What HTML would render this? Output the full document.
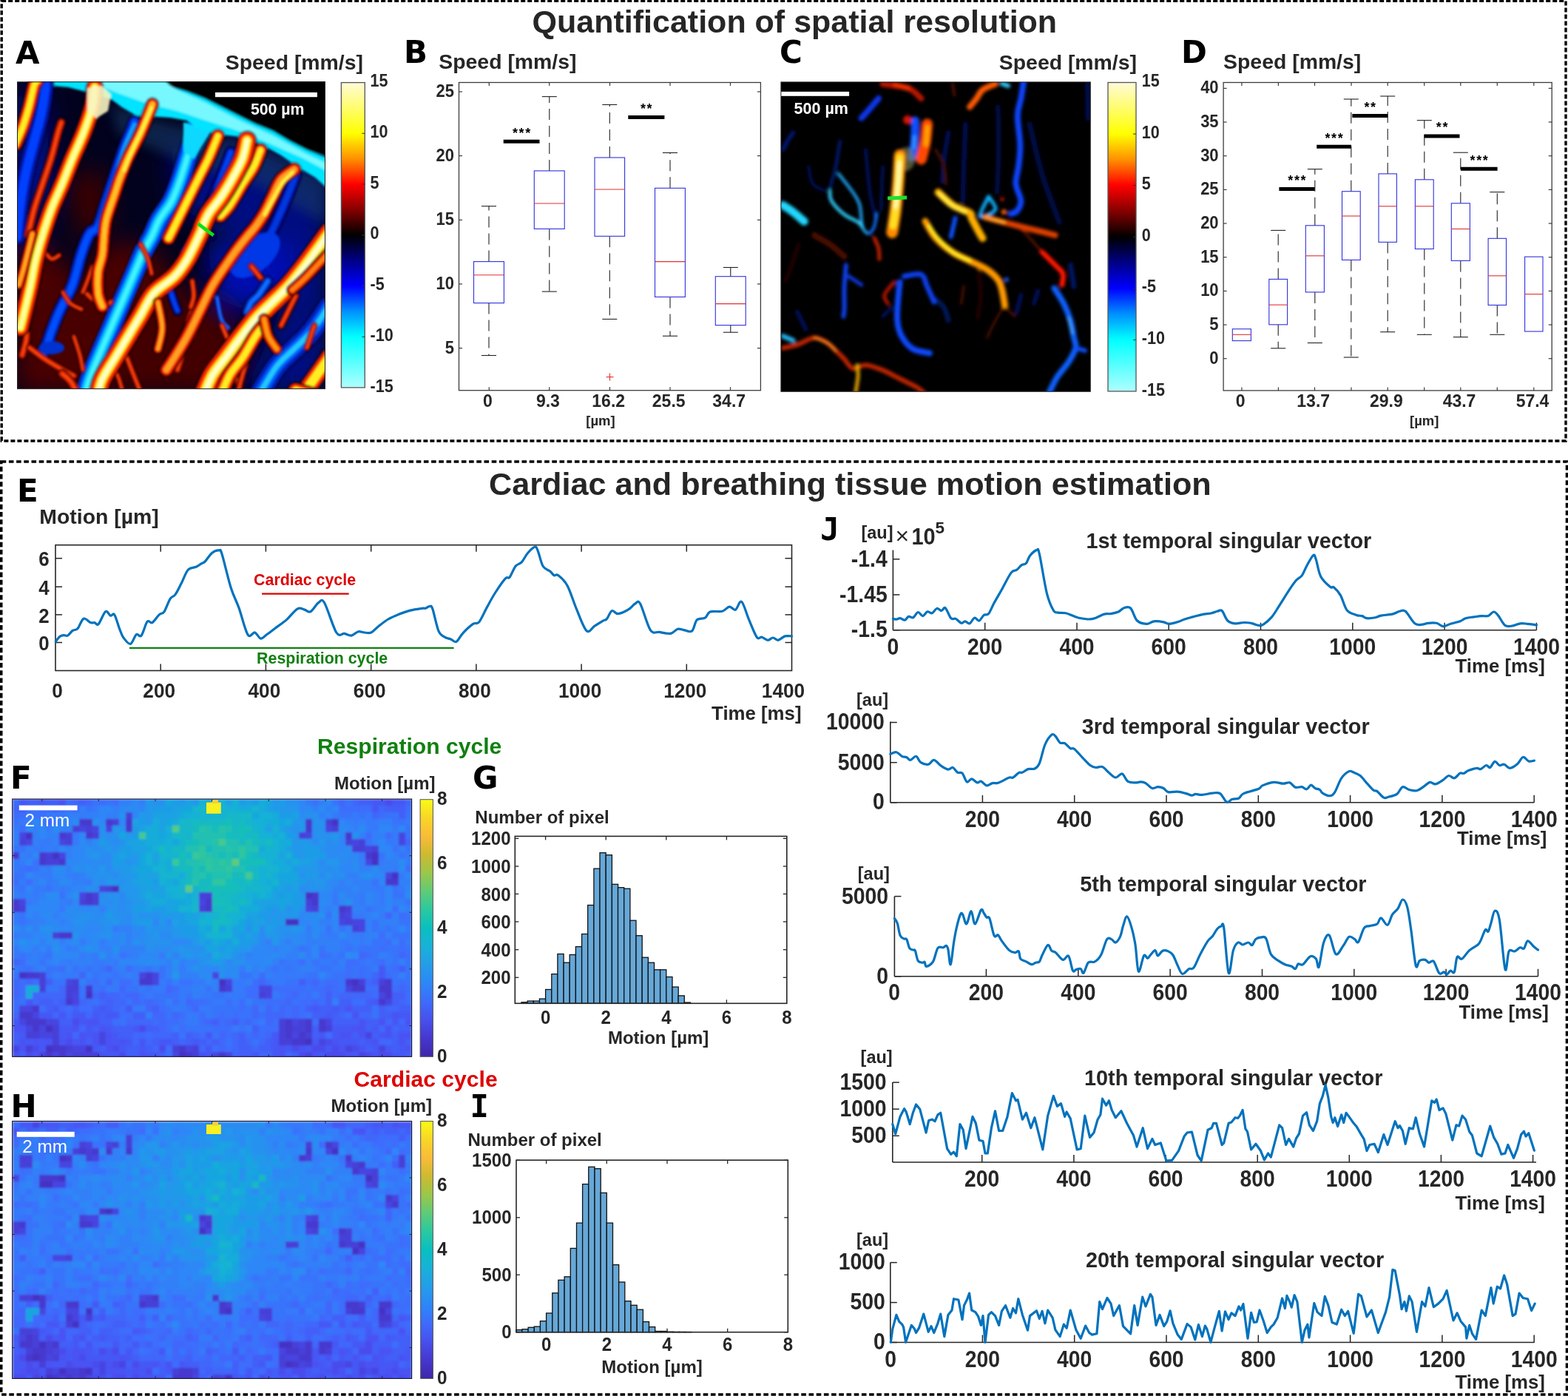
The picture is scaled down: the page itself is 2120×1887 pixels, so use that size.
<!DOCTYPE html>
<html><head><meta charset="utf-8"><title>Figure</title>
<style>
html,body{margin:0;padding:0;background:#fff;}
body{width:2120px;height:1887px;overflow:hidden;}
svg{display:block;font-family:'Liberation Sans', Arial, Helvetica, sans-serif;}
</style></head><body>
<svg xmlns="http://www.w3.org/2000/svg" width="2120" height="1887" viewBox="0 0 2120 1887">
<rect width="2120" height="1887" fill="#fff"/>
<g fill="none" stroke="#000">
<rect x="2.2" y="1.4" width="2114.8" height="594.6" stroke-width="3.4" stroke-dasharray="6 3"/>
<rect x="1.7" y="624" width="2116.8" height="1261" stroke-width="3.6" stroke-dasharray="6.6 3.6"/>
</g>
<text x="719.6" y="44.0" font-size="43" text-anchor="start" fill="#262626" font-weight="bold">Quantification of spatial resolution</text>
<text x="661.0" y="668.5" font-size="43.2" text-anchor="start" fill="#262626" font-weight="bold">Cardiac and breathing tissue motion estimation</text>
<text x="21.0" y="85.5" font-size="42" text-anchor="start" fill="#000" font-weight="bold" font-family="'DejaVu Sans', Verdana, sans-serif">A</text>
<text x="546.0" y="85.0" font-size="42" text-anchor="start" fill="#000" font-weight="bold" font-family="'DejaVu Sans', Verdana, sans-serif">B</text>
<text x="1054.0" y="85.0" font-size="42" text-anchor="start" fill="#000" font-weight="bold" font-family="'DejaVu Sans', Verdana, sans-serif">C</text>
<text x="1597.0" y="85.0" font-size="42" text-anchor="start" fill="#000" font-weight="bold" font-family="'DejaVu Sans', Verdana, sans-serif">D</text>
<text x="23.0" y="677.5" font-size="42" text-anchor="start" fill="#000" font-weight="bold" font-family="'DejaVu Sans', Verdana, sans-serif">E</text>
<text x="14.0" y="1066.4" font-size="42" text-anchor="start" fill="#000" font-weight="bold" font-family="'DejaVu Sans', Verdana, sans-serif">F</text>
<text x="639.0" y="1065.7" font-size="42" text-anchor="start" fill="#000" font-weight="bold" font-family="'DejaVu Sans', Verdana, sans-serif">G</text>
<text x="14.5" y="1509.5" font-size="42" text-anchor="start" fill="#000" font-weight="bold" font-family="'DejaVu Sans', Verdana, sans-serif">H</text>
<text x="648.2" y="1510.0" font-size="42" text-anchor="middle" fill="#000" font-weight="bold" font-family="'DejaVu Sans Mono', monospace">I</text>
<text x="1122.0" y="729.6" font-size="43" text-anchor="middle" fill="#000" font-weight="bold" font-family="'DejaVu Sans Mono', monospace">J</text>
<text x="304.8" y="94.0" font-size="28.4" text-anchor="start" fill="#262626" font-weight="bold">Speed [mm/s]</text>
<defs><linearGradient id="hcA" x1="0" y1="0" x2="0" y2="1"><stop offset="0" stop-color="#fffbd8"/><stop offset="0.1667" stop-color="#ffff00"/><stop offset="0.25" stop-color="#ff9000"/><stop offset="0.3333" stop-color="#ff0000"/><stop offset="0.42" stop-color="#800000"/><stop offset="0.5" stop-color="#000000"/><stop offset="0.58" stop-color="#000080"/><stop offset="0.6667" stop-color="#0000ff"/><stop offset="0.75" stop-color="#0090ff"/><stop offset="0.8333" stop-color="#00ffff"/><stop offset="1" stop-color="#b0ffff"/></linearGradient></defs>
<rect x="461.4" y="111.6" width="31.9" height="412.3" fill="url(#hcA)" stroke="#555" stroke-width="1.3"/>
<text transform="translate(500.5,117.2) scale(1,1.100)" font-size="21.6" text-anchor="start" fill="#262626" font-weight="bold">15</text>
<line x1="489.3" y1="180.3" x2="493.3" y2="180.3" stroke="#333" stroke-width="1"/>
<text transform="translate(500.5,185.9) scale(1,1.100)" font-size="21.6" text-anchor="start" fill="#262626" font-weight="bold">10</text>
<line x1="489.3" y1="249.0" x2="493.3" y2="249.0" stroke="#333" stroke-width="1"/>
<text transform="translate(500.5,254.6) scale(1,1.100)" font-size="21.6" text-anchor="start" fill="#262626" font-weight="bold">5</text>
<line x1="489.3" y1="317.8" x2="493.3" y2="317.8" stroke="#333" stroke-width="1"/>
<text transform="translate(500.5,323.3) scale(1,1.100)" font-size="21.6" text-anchor="start" fill="#262626" font-weight="bold">0</text>
<line x1="489.3" y1="386.5" x2="493.3" y2="386.5" stroke="#333" stroke-width="1"/>
<text transform="translate(500.5,392.0) scale(1,1.100)" font-size="21.6" text-anchor="start" fill="#262626" font-weight="bold">-5</text>
<line x1="489.3" y1="455.2" x2="493.3" y2="455.2" stroke="#333" stroke-width="1"/>
<text transform="translate(500.5,460.8) scale(1,1.100)" font-size="21.6" text-anchor="start" fill="#262626" font-weight="bold">-10</text>
<text transform="translate(500.5,529.5) scale(1,1.100)" font-size="21.6" text-anchor="start" fill="#262626" font-weight="bold">-15</text>
<text x="1537.0" y="94.0" font-size="28.4" text-anchor="end" fill="#262626" font-weight="bold">Speed [mm/s]</text>
<defs><linearGradient id="hcC" x1="0" y1="0" x2="0" y2="1"><stop offset="0" stop-color="#fffbd8"/><stop offset="0.1667" stop-color="#ffff00"/><stop offset="0.25" stop-color="#ff9000"/><stop offset="0.3333" stop-color="#ff0000"/><stop offset="0.42" stop-color="#800000"/><stop offset="0.5" stop-color="#000000"/><stop offset="0.58" stop-color="#000080"/><stop offset="0.6667" stop-color="#0000ff"/><stop offset="0.75" stop-color="#0090ff"/><stop offset="0.8333" stop-color="#00ffff"/><stop offset="1" stop-color="#b0ffff"/></linearGradient></defs>
<rect x="1498.0" y="111.5" width="38.0" height="417.4" fill="url(#hcC)" stroke="#555" stroke-width="1.3"/>
<text transform="translate(1543.7,117.1) scale(1,1.100)" font-size="21.6" text-anchor="start" fill="#262626" font-weight="bold">15</text>
<line x1="1532.0" y1="181.1" x2="1536.0" y2="181.1" stroke="#333" stroke-width="1"/>
<text transform="translate(1543.7,186.6) scale(1,1.100)" font-size="21.6" text-anchor="start" fill="#262626" font-weight="bold">10</text>
<line x1="1532.0" y1="250.6" x2="1536.0" y2="250.6" stroke="#333" stroke-width="1"/>
<text transform="translate(1543.7,256.2) scale(1,1.100)" font-size="21.6" text-anchor="start" fill="#262626" font-weight="bold">5</text>
<line x1="1532.0" y1="320.2" x2="1536.0" y2="320.2" stroke="#333" stroke-width="1"/>
<text transform="translate(1543.7,325.8) scale(1,1.100)" font-size="21.6" text-anchor="start" fill="#262626" font-weight="bold">0</text>
<line x1="1532.0" y1="389.8" x2="1536.0" y2="389.8" stroke="#333" stroke-width="1"/>
<text transform="translate(1543.7,395.3) scale(1,1.100)" font-size="21.6" text-anchor="start" fill="#262626" font-weight="bold">-5</text>
<line x1="1532.0" y1="459.3" x2="1536.0" y2="459.3" stroke="#333" stroke-width="1"/>
<text transform="translate(1543.7,464.9) scale(1,1.100)" font-size="21.6" text-anchor="start" fill="#262626" font-weight="bold">-10</text>
<text transform="translate(1543.7,534.5) scale(1,1.100)" font-size="21.6" text-anchor="start" fill="#262626" font-weight="bold">-15</text>
<text x="593.3" y="93.3" font-size="28.4" text-anchor="start" fill="#262626" font-weight="bold">Speed [mm/s]</text>
<rect x="620.5" y="111.5" width="407.9" height="416.2" fill="none" stroke="#3c3c3c" stroke-width="1.3"/>
<line x1="620.5" y1="470.6" x2="625.0" y2="470.6" stroke="#3c3c3c" stroke-width="1.2"/>
<line x1="1023.9" y1="470.6" x2="1028.4" y2="470.6" stroke="#3c3c3c" stroke-width="1.2"/>
<text transform="translate(614.0,477.5) scale(1,1.095)" font-size="22" text-anchor="end" fill="#262626" font-weight="bold">5</text>
<line x1="620.5" y1="383.9" x2="625.0" y2="383.9" stroke="#3c3c3c" stroke-width="1.2"/>
<line x1="1023.9" y1="383.9" x2="1028.4" y2="383.9" stroke="#3c3c3c" stroke-width="1.2"/>
<text transform="translate(614.0,390.9) scale(1,1.095)" font-size="22" text-anchor="end" fill="#262626" font-weight="bold">10</text>
<line x1="620.5" y1="297.3" x2="625.0" y2="297.3" stroke="#3c3c3c" stroke-width="1.2"/>
<line x1="1023.9" y1="297.3" x2="1028.4" y2="297.3" stroke="#3c3c3c" stroke-width="1.2"/>
<text transform="translate(614.0,304.2) scale(1,1.095)" font-size="22" text-anchor="end" fill="#262626" font-weight="bold">15</text>
<line x1="620.5" y1="210.6" x2="625.0" y2="210.6" stroke="#3c3c3c" stroke-width="1.2"/>
<line x1="1023.9" y1="210.6" x2="1028.4" y2="210.6" stroke="#3c3c3c" stroke-width="1.2"/>
<text transform="translate(614.0,217.6) scale(1,1.095)" font-size="22" text-anchor="end" fill="#262626" font-weight="bold">20</text>
<line x1="620.5" y1="124.0" x2="625.0" y2="124.0" stroke="#3c3c3c" stroke-width="1.2"/>
<line x1="1023.9" y1="124.0" x2="1028.4" y2="124.0" stroke="#3c3c3c" stroke-width="1.2"/>
<text transform="translate(614.0,130.9) scale(1,1.095)" font-size="22" text-anchor="end" fill="#262626" font-weight="bold">25</text>
<line x1="661.3" y1="111.5" x2="661.3" y2="116.0" stroke="#3c3c3c" stroke-width="1.2"/>
<line x1="661.3" y1="523.2" x2="661.3" y2="527.7" stroke="#3c3c3c" stroke-width="1.2"/>
<line x1="742.7" y1="111.5" x2="742.7" y2="116.0" stroke="#3c3c3c" stroke-width="1.2"/>
<line x1="742.7" y1="523.2" x2="742.7" y2="527.7" stroke="#3c3c3c" stroke-width="1.2"/>
<line x1="824.5" y1="111.5" x2="824.5" y2="116.0" stroke="#3c3c3c" stroke-width="1.2"/>
<line x1="824.5" y1="523.2" x2="824.5" y2="527.7" stroke="#3c3c3c" stroke-width="1.2"/>
<line x1="906.0" y1="111.5" x2="906.0" y2="116.0" stroke="#3c3c3c" stroke-width="1.2"/>
<line x1="906.0" y1="523.2" x2="906.0" y2="527.7" stroke="#3c3c3c" stroke-width="1.2"/>
<line x1="987.5" y1="111.5" x2="987.5" y2="116.0" stroke="#3c3c3c" stroke-width="1.2"/>
<line x1="987.5" y1="523.2" x2="987.5" y2="527.7" stroke="#3c3c3c" stroke-width="1.2"/>
<text transform="translate(659.5,549.8) scale(1,1.060)" font-size="23" text-anchor="middle" fill="#262626" font-weight="bold">0</text>
<text transform="translate(740.9,549.8) scale(1,1.060)" font-size="23" text-anchor="middle" fill="#262626" font-weight="bold">9.3</text>
<text transform="translate(822.7,549.8) scale(1,1.060)" font-size="23" text-anchor="middle" fill="#262626" font-weight="bold">16.2</text>
<text transform="translate(904.2,549.8) scale(1,1.060)" font-size="23" text-anchor="middle" fill="#262626" font-weight="bold">25.5</text>
<text transform="translate(985.7,549.8) scale(1,1.060)" font-size="23" text-anchor="middle" fill="#262626" font-weight="bold">34.7</text>
<text x="812.0" y="574.5" font-size="18.5" text-anchor="middle" fill="#262626" font-weight="bold">[µm]</text>
<line x1="661.0" y1="353.6" x2="661.0" y2="278.7" stroke="#222" stroke-width="1.1" stroke-dasharray="15 8"/>
<line x1="651.0" y1="278.7" x2="671.0" y2="278.7" stroke="#222" stroke-width="1.1"/>
<line x1="661.0" y1="409.6" x2="661.0" y2="480.5" stroke="#222" stroke-width="1.1" stroke-dasharray="15 8"/>
<line x1="651.0" y1="480.5" x2="671.0" y2="480.5" stroke="#222" stroke-width="1.1"/>
<rect x="640.5" y="353.6" width="40.9" height="56.0" fill="#fff" stroke="#3030e0" stroke-width="1.1"/>
<line x1="640.5" y1="371.7" x2="681.4" y2="371.7" stroke="#e03030" stroke-width="1.1"/>
<line x1="742.8" y1="230.9" x2="742.8" y2="130.6" stroke="#222" stroke-width="1.1" stroke-dasharray="15 8"/>
<line x1="732.8" y1="130.6" x2="752.8" y2="130.6" stroke="#222" stroke-width="1.1"/>
<line x1="742.8" y1="309.4" x2="742.8" y2="394.1" stroke="#222" stroke-width="1.1" stroke-dasharray="15 8"/>
<line x1="732.8" y1="394.1" x2="752.8" y2="394.1" stroke="#222" stroke-width="1.1"/>
<rect x="722.3" y="230.9" width="40.9" height="78.5" fill="#fff" stroke="#3030e0" stroke-width="1.1"/>
<line x1="722.3" y1="275.0" x2="763.2" y2="275.0" stroke="#e03030" stroke-width="1.1"/>
<line x1="824.3" y1="213.0" x2="824.3" y2="141.5" stroke="#222" stroke-width="1.1" stroke-dasharray="15 8"/>
<line x1="814.3" y1="141.5" x2="834.3" y2="141.5" stroke="#222" stroke-width="1.1"/>
<line x1="824.3" y1="319.3" x2="824.3" y2="431.4" stroke="#222" stroke-width="1.1" stroke-dasharray="15 8"/>
<line x1="814.3" y1="431.4" x2="834.3" y2="431.4" stroke="#222" stroke-width="1.1"/>
<rect x="804.0" y="213.0" width="40.6" height="106.3" fill="#fff" stroke="#3030e0" stroke-width="1.1"/>
<line x1="804.0" y1="256.0" x2="844.6" y2="256.0" stroke="#e03030" stroke-width="1.1"/>
<line x1="906.0" y1="254.3" x2="906.0" y2="206.5" stroke="#222" stroke-width="1.1" stroke-dasharray="15 8"/>
<line x1="896.0" y1="206.5" x2="916.0" y2="206.5" stroke="#222" stroke-width="1.1"/>
<line x1="906.0" y1="401.4" x2="906.0" y2="454.2" stroke="#222" stroke-width="1.1" stroke-dasharray="15 8"/>
<line x1="896.0" y1="454.2" x2="916.0" y2="454.2" stroke="#222" stroke-width="1.1"/>
<rect x="885.5" y="254.3" width="40.9" height="147.1" fill="#fff" stroke="#3030e0" stroke-width="1.1"/>
<line x1="885.5" y1="353.6" x2="926.4" y2="353.6" stroke="#e03030" stroke-width="1.1"/>
<line x1="987.8" y1="373.7" x2="987.8" y2="361.5" stroke="#222" stroke-width="1.1" stroke-dasharray="15 8"/>
<line x1="977.8" y1="361.5" x2="997.8" y2="361.5" stroke="#222" stroke-width="1.1"/>
<line x1="987.8" y1="439.6" x2="987.8" y2="449.2" stroke="#222" stroke-width="1.1" stroke-dasharray="15 8"/>
<line x1="977.8" y1="449.2" x2="997.8" y2="449.2" stroke="#222" stroke-width="1.1"/>
<rect x="967.3" y="373.7" width="40.9" height="65.9" fill="#fff" stroke="#3030e0" stroke-width="1.1"/>
<line x1="967.3" y1="410.6" x2="1008.2" y2="410.6" stroke="#e03030" stroke-width="1.1"/>
<line x1="680.7" y1="191.3" x2="729.5" y2="191.3" stroke="#000" stroke-width="5"/>
<text x="705.9" y="185.5" font-size="18" text-anchor="middle" fill="#000" font-weight="bold" letter-spacing="1.6">***</text>
<line x1="849.3" y1="158.6" x2="898.4" y2="158.6" stroke="#000" stroke-width="5"/>
<text x="874.6" y="152.8" font-size="18" text-anchor="middle" fill="#000" font-weight="bold" letter-spacing="1.6">**</text>
<line x1="819.5" y1="509.6" x2="829.5" y2="509.6" stroke="#e03030" stroke-width="1.1"/>
<line x1="824.5" y1="504.6" x2="824.5" y2="514.6" stroke="#e03030" stroke-width="1.1"/>
<text x="1654.1" y="93.3" font-size="28.4" text-anchor="start" fill="#262626" font-weight="bold">Speed [mm/s]</text>
<rect x="1654.1" y="111.5" width="444.1" height="416.4" fill="none" stroke="#3c3c3c" stroke-width="1.3"/>
<line x1="1654.1" y1="484.7" x2="1658.6" y2="484.7" stroke="#3c3c3c" stroke-width="1.2"/>
<line x1="2093.7" y1="484.7" x2="2098.2" y2="484.7" stroke="#3c3c3c" stroke-width="1.2"/>
<text transform="translate(1647.6,491.6) scale(1,1.095)" font-size="22" text-anchor="end" fill="#262626" font-weight="bold">0</text>
<line x1="1654.1" y1="439.0" x2="1658.6" y2="439.0" stroke="#3c3c3c" stroke-width="1.2"/>
<line x1="2093.7" y1="439.0" x2="2098.2" y2="439.0" stroke="#3c3c3c" stroke-width="1.2"/>
<text transform="translate(1647.6,446.0) scale(1,1.095)" font-size="22" text-anchor="end" fill="#262626" font-weight="bold">5</text>
<line x1="1654.1" y1="393.4" x2="1658.6" y2="393.4" stroke="#3c3c3c" stroke-width="1.2"/>
<line x1="2093.7" y1="393.4" x2="2098.2" y2="393.4" stroke="#3c3c3c" stroke-width="1.2"/>
<text transform="translate(1647.6,400.3) scale(1,1.095)" font-size="22" text-anchor="end" fill="#262626" font-weight="bold">10</text>
<line x1="1654.1" y1="347.7" x2="1658.6" y2="347.7" stroke="#3c3c3c" stroke-width="1.2"/>
<line x1="2093.7" y1="347.7" x2="2098.2" y2="347.7" stroke="#3c3c3c" stroke-width="1.2"/>
<text transform="translate(1647.6,354.7) scale(1,1.095)" font-size="22" text-anchor="end" fill="#262626" font-weight="bold">15</text>
<line x1="1654.1" y1="302.0" x2="1658.6" y2="302.0" stroke="#3c3c3c" stroke-width="1.2"/>
<line x1="2093.7" y1="302.0" x2="2098.2" y2="302.0" stroke="#3c3c3c" stroke-width="1.2"/>
<text transform="translate(1647.6,309.0) scale(1,1.095)" font-size="22" text-anchor="end" fill="#262626" font-weight="bold">20</text>
<line x1="1654.1" y1="256.4" x2="1658.6" y2="256.4" stroke="#3c3c3c" stroke-width="1.2"/>
<line x1="2093.7" y1="256.4" x2="2098.2" y2="256.4" stroke="#3c3c3c" stroke-width="1.2"/>
<text transform="translate(1647.6,263.3) scale(1,1.095)" font-size="22" text-anchor="end" fill="#262626" font-weight="bold">25</text>
<line x1="1654.1" y1="210.7" x2="1658.6" y2="210.7" stroke="#3c3c3c" stroke-width="1.2"/>
<line x1="2093.7" y1="210.7" x2="2098.2" y2="210.7" stroke="#3c3c3c" stroke-width="1.2"/>
<text transform="translate(1647.6,217.7) scale(1,1.095)" font-size="22" text-anchor="end" fill="#262626" font-weight="bold">30</text>
<line x1="1654.1" y1="165.0" x2="1658.6" y2="165.0" stroke="#3c3c3c" stroke-width="1.2"/>
<line x1="2093.7" y1="165.0" x2="2098.2" y2="165.0" stroke="#3c3c3c" stroke-width="1.2"/>
<text transform="translate(1647.6,172.0) scale(1,1.095)" font-size="22" text-anchor="end" fill="#262626" font-weight="bold">35</text>
<line x1="1654.1" y1="119.4" x2="1658.6" y2="119.4" stroke="#3c3c3c" stroke-width="1.2"/>
<line x1="2093.7" y1="119.4" x2="2098.2" y2="119.4" stroke="#3c3c3c" stroke-width="1.2"/>
<text transform="translate(1647.6,126.3) scale(1,1.095)" font-size="22" text-anchor="end" fill="#262626" font-weight="bold">40</text>
<line x1="1678.9" y1="111.5" x2="1678.9" y2="116.0" stroke="#3c3c3c" stroke-width="1.2"/>
<line x1="1678.9" y1="523.4" x2="1678.9" y2="527.9" stroke="#3c3c3c" stroke-width="1.2"/>
<line x1="1728.4" y1="111.5" x2="1728.4" y2="116.0" stroke="#3c3c3c" stroke-width="1.2"/>
<line x1="1728.4" y1="523.4" x2="1728.4" y2="527.9" stroke="#3c3c3c" stroke-width="1.2"/>
<line x1="1777.5" y1="111.5" x2="1777.5" y2="116.0" stroke="#3c3c3c" stroke-width="1.2"/>
<line x1="1777.5" y1="523.4" x2="1777.5" y2="527.9" stroke="#3c3c3c" stroke-width="1.2"/>
<line x1="1827.0" y1="111.5" x2="1827.0" y2="116.0" stroke="#3c3c3c" stroke-width="1.2"/>
<line x1="1827.0" y1="523.4" x2="1827.0" y2="527.9" stroke="#3c3c3c" stroke-width="1.2"/>
<line x1="1876.2" y1="111.5" x2="1876.2" y2="116.0" stroke="#3c3c3c" stroke-width="1.2"/>
<line x1="1876.2" y1="523.4" x2="1876.2" y2="527.9" stroke="#3c3c3c" stroke-width="1.2"/>
<line x1="1925.7" y1="111.5" x2="1925.7" y2="116.0" stroke="#3c3c3c" stroke-width="1.2"/>
<line x1="1925.7" y1="523.4" x2="1925.7" y2="527.9" stroke="#3c3c3c" stroke-width="1.2"/>
<line x1="1974.8" y1="111.5" x2="1974.8" y2="116.0" stroke="#3c3c3c" stroke-width="1.2"/>
<line x1="1974.8" y1="523.4" x2="1974.8" y2="527.9" stroke="#3c3c3c" stroke-width="1.2"/>
<line x1="2024.3" y1="111.5" x2="2024.3" y2="116.0" stroke="#3c3c3c" stroke-width="1.2"/>
<line x1="2024.3" y1="523.4" x2="2024.3" y2="527.9" stroke="#3c3c3c" stroke-width="1.2"/>
<line x1="2073.8" y1="111.5" x2="2073.8" y2="116.0" stroke="#3c3c3c" stroke-width="1.2"/>
<line x1="2073.8" y1="523.4" x2="2073.8" y2="527.9" stroke="#3c3c3c" stroke-width="1.2"/>
<text transform="translate(1677.1,549.8) scale(1,1.060)" font-size="23" text-anchor="middle" fill="#262626" font-weight="bold">0</text>
<text transform="translate(1775.7,549.8) scale(1,1.060)" font-size="23" text-anchor="middle" fill="#262626" font-weight="bold">13.7</text>
<text transform="translate(1874.4,549.8) scale(1,1.060)" font-size="23" text-anchor="middle" fill="#262626" font-weight="bold">29.9</text>
<text transform="translate(1973.0,549.8) scale(1,1.060)" font-size="23" text-anchor="middle" fill="#262626" font-weight="bold">43.7</text>
<text transform="translate(2072.0,549.8) scale(1,1.060)" font-size="23" text-anchor="middle" fill="#262626" font-weight="bold">57.4</text>
<text x="1925.7" y="574.5" font-size="18.5" text-anchor="middle" fill="#262626" font-weight="bold">[µm]</text>
<rect x="1666.3" y="444.7" width="25.1" height="15.9" fill="#fff" stroke="#3030e0" stroke-width="1.1"/>
<line x1="1666.3" y1="452.3" x2="1691.4" y2="452.3" stroke="#e03030" stroke-width="1.1"/>
<line x1="1728.2" y1="377.4" x2="1728.2" y2="311.4" stroke="#222" stroke-width="1.1" stroke-dasharray="15 8"/>
<line x1="1718.2" y1="311.4" x2="1738.2" y2="311.4" stroke="#222" stroke-width="1.1"/>
<line x1="1728.2" y1="438.8" x2="1728.2" y2="470.8" stroke="#222" stroke-width="1.1" stroke-dasharray="15 8"/>
<line x1="1718.2" y1="470.8" x2="1738.2" y2="470.8" stroke="#222" stroke-width="1.1"/>
<rect x="1715.8" y="377.4" width="24.8" height="61.4" fill="#fff" stroke="#3030e0" stroke-width="1.1"/>
<line x1="1715.8" y1="412.1" x2="1740.6" y2="412.1" stroke="#e03030" stroke-width="1.1"/>
<line x1="1777.8" y1="304.8" x2="1777.8" y2="228.6" stroke="#222" stroke-width="1.1" stroke-dasharray="15 8"/>
<line x1="1767.8" y1="228.6" x2="1787.8" y2="228.6" stroke="#222" stroke-width="1.1"/>
<line x1="1777.8" y1="394.9" x2="1777.8" y2="463.5" stroke="#222" stroke-width="1.1" stroke-dasharray="15 8"/>
<line x1="1767.8" y1="463.5" x2="1787.8" y2="463.5" stroke="#222" stroke-width="1.1"/>
<rect x="1765.3" y="304.8" width="25.1" height="90.1" fill="#fff" stroke="#3030e0" stroke-width="1.1"/>
<line x1="1765.3" y1="345.8" x2="1790.4" y2="345.8" stroke="#e03030" stroke-width="1.1"/>
<line x1="1826.8" y1="258.7" x2="1826.8" y2="134.0" stroke="#222" stroke-width="1.1" stroke-dasharray="15 8"/>
<line x1="1816.8" y1="134.0" x2="1836.8" y2="134.0" stroke="#222" stroke-width="1.1"/>
<line x1="1826.8" y1="351.4" x2="1826.8" y2="483.0" stroke="#222" stroke-width="1.1" stroke-dasharray="15 8"/>
<line x1="1816.8" y1="483.0" x2="1836.8" y2="483.0" stroke="#222" stroke-width="1.1"/>
<rect x="1814.5" y="258.7" width="24.7" height="92.7" fill="#fff" stroke="#3030e0" stroke-width="1.1"/>
<line x1="1814.5" y1="292.0" x2="1839.2" y2="292.0" stroke="#e03030" stroke-width="1.1"/>
<line x1="1876.2" y1="234.9" x2="1876.2" y2="130.0" stroke="#222" stroke-width="1.1" stroke-dasharray="15 8"/>
<line x1="1866.2" y1="130.0" x2="1886.2" y2="130.0" stroke="#222" stroke-width="1.1"/>
<line x1="1876.2" y1="327.3" x2="1876.2" y2="448.7" stroke="#222" stroke-width="1.1" stroke-dasharray="15 8"/>
<line x1="1866.2" y1="448.7" x2="1886.2" y2="448.7" stroke="#222" stroke-width="1.1"/>
<rect x="1864.0" y="234.9" width="24.4" height="92.4" fill="#fff" stroke="#3030e0" stroke-width="1.1"/>
<line x1="1864.0" y1="278.8" x2="1888.4" y2="278.8" stroke="#e03030" stroke-width="1.1"/>
<line x1="1925.8" y1="242.8" x2="1925.8" y2="162.7" stroke="#222" stroke-width="1.1" stroke-dasharray="15 8"/>
<line x1="1915.8" y1="162.7" x2="1935.8" y2="162.7" stroke="#222" stroke-width="1.1"/>
<line x1="1925.8" y1="336.5" x2="1925.8" y2="452.3" stroke="#222" stroke-width="1.1" stroke-dasharray="15 8"/>
<line x1="1915.8" y1="452.3" x2="1935.8" y2="452.3" stroke="#222" stroke-width="1.1"/>
<rect x="1913.4" y="242.8" width="24.8" height="93.7" fill="#fff" stroke="#3030e0" stroke-width="1.1"/>
<line x1="1913.4" y1="278.8" x2="1938.2" y2="278.8" stroke="#e03030" stroke-width="1.1"/>
<line x1="1974.8" y1="274.8" x2="1974.8" y2="206.2" stroke="#222" stroke-width="1.1" stroke-dasharray="15 8"/>
<line x1="1964.8" y1="206.2" x2="1984.8" y2="206.2" stroke="#222" stroke-width="1.1"/>
<line x1="1974.8" y1="352.4" x2="1974.8" y2="455.6" stroke="#222" stroke-width="1.1" stroke-dasharray="15 8"/>
<line x1="1964.8" y1="455.6" x2="1984.8" y2="455.6" stroke="#222" stroke-width="1.1"/>
<rect x="1962.3" y="274.8" width="25.1" height="77.6" fill="#fff" stroke="#3030e0" stroke-width="1.1"/>
<line x1="1962.3" y1="309.5" x2="1987.4" y2="309.5" stroke="#e03030" stroke-width="1.1"/>
<line x1="2024.3" y1="322.3" x2="2024.3" y2="259.6" stroke="#222" stroke-width="1.1" stroke-dasharray="15 8"/>
<line x1="2014.3" y1="259.6" x2="2034.3" y2="259.6" stroke="#222" stroke-width="1.1"/>
<line x1="2024.3" y1="412.4" x2="2024.3" y2="452.3" stroke="#222" stroke-width="1.1" stroke-dasharray="15 8"/>
<line x1="2014.3" y1="452.3" x2="2034.3" y2="452.3" stroke="#222" stroke-width="1.1"/>
<rect x="2012.1" y="322.3" width="24.4" height="90.1" fill="#fff" stroke="#3030e0" stroke-width="1.1"/>
<line x1="2012.1" y1="372.8" x2="2036.5" y2="372.8" stroke="#e03030" stroke-width="1.1"/>
<rect x="2061.6" y="347.1" width="24.4" height="100.9" fill="#fff" stroke="#3030e0" stroke-width="1.1"/>
<line x1="2061.6" y1="397.6" x2="2086.0" y2="397.6" stroke="#e03030" stroke-width="1.1"/>
<line x1="1729.4" y1="255.4" x2="1777.5" y2="255.4" stroke="#000" stroke-width="5"/>
<text x="1754.2" y="249.6" font-size="18" text-anchor="middle" fill="#000" font-weight="bold" letter-spacing="1.6">***</text>
<line x1="1780.2" y1="198.3" x2="1827.0" y2="198.3" stroke="#000" stroke-width="5"/>
<text x="1804.4" y="192.5" font-size="18" text-anchor="middle" fill="#000" font-weight="bold" letter-spacing="1.6">***</text>
<line x1="1828.3" y1="156.4" x2="1876.2" y2="156.4" stroke="#000" stroke-width="5"/>
<text x="1853.0" y="150.6" font-size="18" text-anchor="middle" fill="#000" font-weight="bold" letter-spacing="1.6">**</text>
<line x1="1925.7" y1="184.1" x2="1973.5" y2="184.1" stroke="#000" stroke-width="5"/>
<text x="1950.4" y="178.3" font-size="18" text-anchor="middle" fill="#000" font-weight="bold" letter-spacing="1.6">**</text>
<line x1="1974.8" y1="228.3" x2="2024.6" y2="228.3" stroke="#000" stroke-width="5"/>
<text x="2000.5" y="222.5" font-size="18" text-anchor="middle" fill="#000" font-weight="bold" letter-spacing="1.6">***</text>
<rect x="75.0" y="736.7" width="995.5" height="169.8" fill="none" stroke="#262626" stroke-width="1.6"/>
<text x="53.3" y="707.6" font-size="28.4" text-anchor="start" fill="#262626" font-weight="bold">Motion [µm]</text>
<line x1="75.0" y1="868.5" x2="84.0" y2="868.5" stroke="#262626" stroke-width="1.5"/>
<line x1="1061.5" y1="868.5" x2="1070.5" y2="868.5" stroke="#262626" stroke-width="1.5"/>
<text transform="translate(66.6,879.2) scale(1,1.090)" font-size="25.9" text-anchor="end" fill="#262626" font-weight="bold">0</text>
<line x1="75.0" y1="830.9" x2="84.0" y2="830.9" stroke="#262626" stroke-width="1.5"/>
<line x1="1061.5" y1="830.9" x2="1070.5" y2="830.9" stroke="#262626" stroke-width="1.5"/>
<text transform="translate(66.6,841.6) scale(1,1.090)" font-size="25.9" text-anchor="end" fill="#262626" font-weight="bold">2</text>
<line x1="75.0" y1="793.2" x2="84.0" y2="793.2" stroke="#262626" stroke-width="1.5"/>
<line x1="1061.5" y1="793.2" x2="1070.5" y2="793.2" stroke="#262626" stroke-width="1.5"/>
<text transform="translate(66.6,803.9) scale(1,1.090)" font-size="25.9" text-anchor="end" fill="#262626" font-weight="bold">4</text>
<line x1="75.0" y1="754.7" x2="84.0" y2="754.7" stroke="#262626" stroke-width="1.5"/>
<line x1="1061.5" y1="754.7" x2="1070.5" y2="754.7" stroke="#262626" stroke-width="1.5"/>
<text transform="translate(66.6,765.4) scale(1,1.090)" font-size="25.9" text-anchor="end" fill="#262626" font-weight="bold">6</text>
<text transform="translate(77.5,943.1) scale(1,1.050)" font-size="26.2" text-anchor="middle" fill="#262626" font-weight="bold">0</text>
<line x1="217.2" y1="736.7" x2="217.2" y2="745.7" stroke="#262626" stroke-width="1.5"/>
<line x1="217.2" y1="897.5" x2="217.2" y2="906.5" stroke="#262626" stroke-width="1.5"/>
<text transform="translate(215.2,943.1) scale(1,1.050)" font-size="26.2" text-anchor="middle" fill="#262626" font-weight="bold">200</text>
<line x1="359.4" y1="736.7" x2="359.4" y2="745.7" stroke="#262626" stroke-width="1.5"/>
<line x1="359.4" y1="897.5" x2="359.4" y2="906.5" stroke="#262626" stroke-width="1.5"/>
<text transform="translate(357.4,943.1) scale(1,1.050)" font-size="26.2" text-anchor="middle" fill="#262626" font-weight="bold">400</text>
<line x1="501.7" y1="736.7" x2="501.7" y2="745.7" stroke="#262626" stroke-width="1.5"/>
<line x1="501.7" y1="897.5" x2="501.7" y2="906.5" stroke="#262626" stroke-width="1.5"/>
<text transform="translate(499.7,943.1) scale(1,1.050)" font-size="26.2" text-anchor="middle" fill="#262626" font-weight="bold">600</text>
<line x1="643.9" y1="736.7" x2="643.9" y2="745.7" stroke="#262626" stroke-width="1.5"/>
<line x1="643.9" y1="897.5" x2="643.9" y2="906.5" stroke="#262626" stroke-width="1.5"/>
<text transform="translate(641.9,943.1) scale(1,1.050)" font-size="26.2" text-anchor="middle" fill="#262626" font-weight="bold">800</text>
<line x1="786.1" y1="736.7" x2="786.1" y2="745.7" stroke="#262626" stroke-width="1.5"/>
<line x1="786.1" y1="897.5" x2="786.1" y2="906.5" stroke="#262626" stroke-width="1.5"/>
<text transform="translate(784.1,943.1) scale(1,1.050)" font-size="26.2" text-anchor="middle" fill="#262626" font-weight="bold">1000</text>
<line x1="928.3" y1="736.7" x2="928.3" y2="745.7" stroke="#262626" stroke-width="1.5"/>
<line x1="928.3" y1="897.5" x2="928.3" y2="906.5" stroke="#262626" stroke-width="1.5"/>
<text transform="translate(926.3,943.1) scale(1,1.050)" font-size="26.2" text-anchor="middle" fill="#262626" font-weight="bold">1200</text>
<text transform="translate(1059.0,943.1) scale(1,1.050)" font-size="26.2" text-anchor="middle" fill="#262626" font-weight="bold">1400</text>
<text x="1083.5" y="973.2" font-size="25.8" text-anchor="end" fill="#262626" font-weight="bold">Time [ms]</text>
<path d="M75.3,867.2 C76.2,866.1 78.9,861.9 80.7,860.5 C82.5,859.1 84.3,858.8 86.1,858.6 C87.9,858.4 89.5,860.1 91.5,859.1 C93.5,858.1 96.0,854.0 98.2,852.4 C100.5,850.8 102.5,852.4 105.0,849.7 C107.5,847.0 110.1,837.6 113.0,836.2 C115.9,834.9 119.9,840.7 122.4,841.6 C124.9,842.5 126.0,841.3 127.8,841.6 C129.6,841.9 130.7,846.0 133.2,843.5 C135.7,841.0 139.9,828.7 142.6,826.8 C145.3,824.9 147.4,831.5 149.4,832.2 C151.4,832.9 152.7,827.9 154.7,830.8 C156.7,833.7 159.5,844.5 161.5,849.7 C163.5,854.9 164.3,858.3 166.8,861.8 C169.3,865.2 173.4,871.1 176.3,870.4 C179.2,869.7 181.8,859.7 184.3,857.8 C186.8,855.9 188.6,862.0 191.1,859.1 C193.6,856.2 196.6,843.2 199.1,840.3 C201.6,837.4 203.2,843.2 205.9,841.6 C208.6,840.0 212.6,833.3 215.3,830.8 C218.0,828.3 219.5,830.4 222.0,826.8 C224.5,823.2 227.6,813.1 230.1,809.3 C232.6,805.5 234.3,807.3 236.8,803.9 C239.3,800.5 242.0,794.7 244.9,789.1 C247.8,783.5 250.9,774.1 254.3,770.3 C257.7,766.5 262.2,767.6 265.1,766.3 C268.0,764.9 269.8,763.4 271.8,762.2 C273.8,761.0 274.7,761.5 277.2,759.0 C279.7,756.5 283.5,749.9 286.6,747.4 C289.7,744.9 293.8,743.7 296.0,743.9 C298.2,744.1 297.3,740.4 300.0,748.8 C302.7,757.2 308.4,782.4 312.2,794.5 C316.0,806.6 319.1,810.9 322.9,821.4 C326.7,831.9 331.4,852.2 335.0,857.8 C338.6,863.4 341.6,854.1 344.5,855.0 C347.4,855.9 349.8,862.6 352.5,863.1 C355.2,863.6 357.5,860.0 360.6,857.8 C363.8,855.6 366.9,853.1 371.4,849.7 C375.9,846.3 382.4,842.1 387.5,837.6 C392.6,833.1 398.3,825.0 402.3,822.8 C406.3,820.5 408.8,823.4 411.7,824.1 C414.6,824.8 416.6,828.4 419.8,826.8 C423.0,825.2 427.5,816.7 430.6,814.7 C433.7,812.7 434.6,808.0 438.6,814.7 C442.6,821.4 450.3,848.0 454.8,855.0 C459.3,862.0 462.2,855.7 465.6,856.4 C469.0,857.1 471.9,859.5 475.0,859.1 C478.1,858.7 481.5,854.4 484.4,853.7 C487.3,853.0 489.6,854.8 492.5,855.0 C495.4,855.2 498.8,856.3 501.9,855.0 C505.0,853.7 507.5,850.0 511.3,847.0 C515.1,844.0 520.3,839.7 524.8,837.0 C529.3,834.3 533.2,832.8 538.2,830.8 C543.2,828.8 549.2,826.5 554.7,825.1 C560.2,823.7 567.7,822.8 571.1,822.3 C574.5,821.8 573.6,822.8 575.2,822.3 C576.8,821.8 579.1,819.5 580.7,819.6 C582.3,819.7 582.8,817.3 584.8,822.9 C586.8,828.5 590.3,846.6 593.0,853.0 C595.7,859.4 598.5,859.4 601.2,861.2 C604.0,863.0 606.9,863.0 609.5,864.0 C612.1,865.0 614.4,868.7 617.1,867.3 C619.8,865.9 622.1,859.8 625.9,855.8 C629.6,851.8 636.0,845.9 639.6,843.4 C643.2,840.9 644.6,844.6 647.8,840.7 C651.0,836.8 655.1,826.7 658.8,820.1 C662.4,813.5 665.6,807.4 669.7,801.0 C673.8,794.6 680.2,785.2 683.4,781.8 C686.6,778.4 686.6,783.1 688.9,780.4 C691.2,777.6 694.4,768.7 697.1,765.3 C699.8,761.9 702.5,762.9 705.3,759.9 C708.0,756.9 710.6,750.9 713.6,747.5 C716.6,744.1 720.9,739.8 723.2,739.3 C725.5,738.8 725.5,740.5 727.3,744.8 C729.1,749.1 731.4,760.7 734.1,765.3 C736.8,769.9 741.2,770.1 743.7,772.2 C746.2,774.3 747.4,776.8 749.2,777.7 C751.0,778.6 751.7,775.4 754.7,777.7 C757.7,780.0 762.9,783.9 767.0,791.4 C771.1,798.9 775.0,812.7 779.3,822.9 C783.6,833.1 788.9,848.6 793.0,852.5 C797.1,856.4 800.4,848.4 804.0,846.2 C807.6,844.0 812.2,840.9 814.9,839.3 C817.6,837.7 818.3,838.9 820.4,836.6 C822.5,834.3 824.8,826.8 827.3,825.6 C829.8,824.5 831.9,829.9 835.5,829.7 C839.1,829.5 845.3,826.5 849.2,824.2 C853.1,821.9 856.1,817.4 858.8,816.0 C861.5,814.6 862.2,810.1 865.6,816.0 C869.0,821.9 875.0,845.2 879.3,851.6 C883.6,858.0 887.0,853.6 891.6,854.4 C896.2,855.2 902.6,857.0 906.7,856.3 C910.8,855.6 913.3,851.1 916.3,850.3 C919.3,849.5 921.3,851.1 924.5,851.6 C927.7,852.1 932.5,855.3 935.5,853.0 C938.5,850.7 939.3,840.9 942.3,837.9 C945.3,834.9 950.3,837.0 953.3,835.2 C956.3,833.4 956.2,828.5 960.1,827.0 C964.0,825.5 972.2,827.4 976.6,826.2 C981.0,825.1 983.2,820.4 986.2,820.1 C989.2,819.8 991.7,825.3 994.4,824.2 C997.1,823.1 999.6,811.2 1002.6,813.3 C1005.6,815.4 1008.8,828.6 1012.2,836.6 C1015.6,844.6 1020.2,857.1 1023.2,861.2 C1026.2,865.3 1027.5,860.5 1030.0,861.2 C1032.5,861.9 1035.7,865.2 1038.2,865.3 C1040.7,865.4 1042.8,862.0 1045.1,862.0 C1047.4,862.0 1049.2,865.6 1051.9,865.3 C1054.6,864.9 1058.4,860.8 1061.5,859.9 C1064.6,859.0 1069.0,859.9 1070.5,859.9" fill="none" stroke="#0072BD" stroke-width="3.2" stroke-linejoin="round" stroke-linecap="round"/>
<line x1="354.1" y1="802.6" x2="471.7" y2="802.6" stroke="#e00000" stroke-width="2.2"/>
<text x="343.1" y="790.5" font-size="21.4" text-anchor="start" fill="#e00000" font-weight="bold">Cardiac cycle</text>
<line x1="174.9" y1="875.8" x2="613.6" y2="875.8" stroke="#108010" stroke-width="2.2"/>
<text x="347.1" y="897.3" font-size="21.4" text-anchor="start" fill="#108010" font-weight="bold">Respiration cycle</text>
<line x1="1207.4" y1="743.6" x2="1207.4" y2="851.7" stroke="#262626" stroke-width="1.6"/>
<line x1="1207.4" y1="851.7" x2="2077.5" y2="851.7" stroke="#262626" stroke-width="1.6"/>
<line x1="1207.4" y1="755.8" x2="1216.4" y2="755.8" stroke="#262626" stroke-width="1.5"/>
<text transform="translate(1199.8,765.7) scale(1,1.100)" font-size="28.4" text-anchor="end" fill="#262626" font-weight="bold">-1.4</text>
<line x1="1207.4" y1="803.9" x2="1216.4" y2="803.9" stroke="#262626" stroke-width="1.5"/>
<text transform="translate(1199.8,814.1) scale(1,1.100)" font-size="28.4" text-anchor="end" fill="#262626" font-weight="bold">-1.45</text>
<line x1="1207.4" y1="851.7" x2="1216.4" y2="851.7" stroke="#262626" stroke-width="1.5"/>
<text transform="translate(1199.8,861.1) scale(1,1.100)" font-size="28.4" text-anchor="end" fill="#262626" font-weight="bold">-1.5</text>
<text transform="translate(1207.4,884.6) scale(1,1.130)" font-size="28.3" text-anchor="middle" fill="#262626" font-weight="bold">0</text>
<line x1="1331.7" y1="841.7" x2="1331.7" y2="851.7" stroke="#262626" stroke-width="1.5"/>
<text transform="translate(1331.7,884.6) scale(1,1.130)" font-size="28.3" text-anchor="middle" fill="#262626" font-weight="bold">200</text>
<line x1="1456.0" y1="841.7" x2="1456.0" y2="851.7" stroke="#262626" stroke-width="1.5"/>
<text transform="translate(1456.0,884.6) scale(1,1.130)" font-size="28.3" text-anchor="middle" fill="#262626" font-weight="bold">400</text>
<line x1="1580.2" y1="841.7" x2="1580.2" y2="851.7" stroke="#262626" stroke-width="1.5"/>
<text transform="translate(1580.2,884.6) scale(1,1.130)" font-size="28.3" text-anchor="middle" fill="#262626" font-weight="bold">600</text>
<line x1="1704.5" y1="841.7" x2="1704.5" y2="851.7" stroke="#262626" stroke-width="1.5"/>
<text transform="translate(1704.5,884.6) scale(1,1.130)" font-size="28.3" text-anchor="middle" fill="#262626" font-weight="bold">800</text>
<line x1="1828.8" y1="841.7" x2="1828.8" y2="851.7" stroke="#262626" stroke-width="1.5"/>
<text transform="translate(1828.8,884.6) scale(1,1.130)" font-size="28.3" text-anchor="middle" fill="#262626" font-weight="bold">1000</text>
<line x1="1953.1" y1="841.7" x2="1953.1" y2="851.7" stroke="#262626" stroke-width="1.5"/>
<text transform="translate(1953.1,884.6) scale(1,1.130)" font-size="28.3" text-anchor="middle" fill="#262626" font-weight="bold">1200</text>
<line x1="2077.4" y1="841.7" x2="2077.4" y2="851.7" stroke="#262626" stroke-width="1.5"/>
<text transform="translate(2077.4,884.6) scale(1,1.130)" font-size="28.3" text-anchor="middle" fill="#262626" font-weight="bold">1400</text>
<text x="1468.6" y="741.0" font-size="28.8" text-anchor="start" fill="#262626" font-weight="bold">1st temporal singular vector</text>
<text x="2088.9" y="909.4" font-size="25.8" text-anchor="end" fill="#262626" font-weight="bold">Time [ms]</text>
<text x="1164.4" y="727.5" font-size="23.5" text-anchor="start" fill="#262626" font-weight="bold">[au]</text>
<path d="M1207.4,836.4 C1208.2,836.5 1210.3,837.3 1211.9,837.2 C1213.5,837.1 1215.1,835.5 1217.0,835.7 C1218.9,835.9 1221.5,838.6 1223.4,838.2 C1225.3,837.8 1226.6,834.0 1228.5,833.4 C1230.4,832.8 1232.7,835.7 1234.8,834.7 C1236.9,833.7 1239.1,827.9 1241.2,827.5 C1243.3,827.1 1245.4,832.7 1247.5,832.6 C1249.6,832.5 1251.8,827.4 1253.9,826.8 C1256.0,826.2 1258.2,829.5 1260.3,828.8 C1262.4,828.1 1264.5,823.0 1266.6,822.5 C1268.7,822.0 1271.1,825.6 1273.0,825.5 C1274.9,825.4 1276.0,820.0 1278.1,821.7 C1280.2,823.4 1283.4,833.2 1285.7,835.7 C1288.0,838.2 1289.8,835.3 1292.1,836.4 C1294.4,837.5 1297.6,841.7 1299.7,842.3 C1301.8,842.9 1302.9,839.7 1304.8,839.8 C1306.7,839.9 1309.0,843.6 1311.1,842.8 C1313.2,842.0 1315.4,835.8 1317.5,835.2 C1319.6,834.6 1321.8,839.6 1323.9,839.0 C1326.0,838.4 1328.1,833.0 1330.2,831.4 C1332.3,829.8 1334.3,832.4 1336.6,829.6 C1338.9,826.8 1341.2,820.2 1344.2,814.8 C1347.2,809.4 1350.6,803.8 1354.4,797.0 C1358.2,790.2 1363.7,778.6 1367.1,774.1 C1370.5,769.6 1372.4,772.0 1374.7,770.3 C1377.0,768.6 1379.0,765.4 1381.1,763.9 C1383.2,762.4 1385.5,763.5 1387.4,761.4 C1389.3,759.3 1390.2,754.2 1392.5,751.2 C1394.8,748.2 1399.4,744.0 1401.5,743.6 C1403.6,743.2 1403.0,739.0 1405.3,748.7 C1407.6,758.5 1412.2,789.4 1415.4,802.1 C1418.6,814.8 1421.8,820.7 1424.3,825.0 C1426.8,829.3 1427.9,827.5 1430.7,828.1 C1433.5,828.7 1437.5,828.0 1440.9,828.8 C1444.3,829.5 1448.1,831.5 1451.1,832.6 C1454.1,833.7 1455.1,834.5 1458.7,835.2 C1462.3,835.9 1468.9,837.0 1472.7,837.0 C1476.5,837.0 1478.2,836.4 1481.6,835.2 C1485.0,834.1 1489.6,831.0 1493.0,830.1 C1496.4,829.2 1498.7,830.1 1501.9,829.6 C1505.1,829.1 1509.1,828.3 1512.1,827.0 C1515.1,825.7 1517.0,822.5 1519.7,821.7 C1522.5,820.9 1525.6,819.1 1528.6,822.0 C1531.6,824.9 1533.9,835.5 1537.5,839.0 C1541.1,842.5 1546.5,843.2 1550.3,843.3 C1554.1,843.4 1556.6,840.2 1560.4,839.8 C1564.2,839.4 1569.8,840.2 1573.2,840.8 C1576.6,841.4 1577.4,843.4 1580.8,843.3 C1584.2,843.2 1590.1,841.3 1593.5,840.3 C1596.9,839.3 1597.9,838.3 1601.1,837.2 C1604.3,836.1 1608.7,835.0 1612.7,833.9 C1616.8,832.8 1621.2,831.5 1625.4,830.6 C1629.7,829.8 1634.8,829.5 1638.2,828.8 C1641.6,828.1 1643.5,826.8 1645.8,826.3 C1648.1,825.8 1649.8,823.4 1652.1,825.5 C1654.4,827.6 1656.8,836.1 1659.8,839.0 C1662.8,841.9 1666.4,842.4 1670.0,842.8 C1673.6,843.2 1677.8,841.6 1681.4,841.5 C1685.0,841.4 1688.2,841.6 1691.6,842.3 C1695.0,842.9 1699.0,845.1 1701.8,845.4 C1704.5,845.7 1705.1,846.0 1708.1,844.1 C1711.1,842.2 1716.0,838.1 1719.6,833.9 C1723.2,829.6 1725.9,824.5 1729.7,818.6 C1733.5,812.7 1738.7,804.0 1742.5,798.3 C1746.3,792.6 1749.6,787.7 1752.6,784.3 C1755.6,780.9 1758.0,781.1 1760.3,777.9 C1762.6,774.7 1764.1,769.7 1766.6,765.2 C1769.1,760.7 1773.4,752.2 1775.5,750.7 C1777.6,749.2 1777.6,751.5 1779.3,756.3 C1781.0,761.0 1782.5,773.1 1785.7,779.2 C1788.9,785.4 1795.4,790.7 1798.4,793.2 C1801.4,795.7 1801.2,792.1 1803.5,794.0 C1805.8,795.9 1809.4,799.4 1812.4,804.6 C1815.4,809.8 1817.7,820.5 1821.3,825.0 C1824.9,829.5 1830.6,830.1 1834.0,831.4 C1837.4,832.7 1839.4,831.9 1841.7,832.6 C1844.0,833.3 1845.0,835.4 1848.0,835.7 C1851.0,836.1 1856.3,835.3 1859.5,834.7 C1862.7,834.1 1863.3,832.9 1867.1,832.1 C1870.9,831.3 1878.2,831.1 1882.4,830.1 C1886.6,829.1 1889.5,826.9 1892.5,826.3 C1895.5,825.7 1896.8,823.5 1900.2,826.3 C1903.6,829.0 1909.1,839.8 1912.9,842.8 C1916.7,845.8 1920.1,844.2 1923.1,844.1 C1926.1,844.0 1927.5,842.6 1930.7,842.3 C1933.9,842.0 1938.8,841.6 1942.2,842.3 C1945.6,843.0 1947.9,846.4 1951.1,846.6 C1954.3,846.8 1957.4,844.4 1961.2,843.3 C1965.0,842.2 1970.6,841.1 1974.0,839.8 C1977.4,838.5 1978.4,836.7 1981.6,835.7 C1984.8,834.7 1989.4,834.4 1993.0,833.9 C1996.6,833.4 2000.0,832.8 2003.2,832.6 C2006.4,832.4 2009.3,833.5 2012.1,832.6 C2014.8,831.7 2017.4,827.0 2019.7,827.0 C2022.0,827.0 2023.5,829.5 2026.1,832.6 C2028.6,835.7 2031.8,843.2 2035.0,845.4 C2038.2,847.6 2041.8,846.3 2045.2,845.9 C2048.6,845.5 2052.0,843.2 2055.4,842.8 C2058.8,842.4 2061.8,843.0 2065.5,843.3 C2069.2,843.6 2075.5,844.5 2077.5,844.8" fill="none" stroke="#0072BD" stroke-width="3.2" stroke-linejoin="round" stroke-linecap="round"/>
<text x="1219.9" y="734.5" font-size="32" text-anchor="middle" fill="#262626" font-weight="normal">×</text>
<text transform="translate(1232.5,736.0) scale(1,1.050)" font-size="29" text-anchor="start" fill="#262626" font-weight="bold">10</text>
<text x="1264.6" y="721.3" font-size="22.5" text-anchor="start" fill="#262626" font-weight="bold">5</text>
<line x1="1203.8" y1="975.5" x2="1203.8" y2="1084.8" stroke="#262626" stroke-width="1.6"/>
<line x1="1203.8" y1="1084.8" x2="2074.2" y2="1084.8" stroke="#262626" stroke-width="1.6"/>
<line x1="1203.8" y1="976.5" x2="1212.8" y2="976.5" stroke="#262626" stroke-width="1.5"/>
<text transform="translate(1195.9,986.1) scale(1,1.100)" font-size="28.4" text-anchor="end" fill="#262626" font-weight="bold">10000</text>
<line x1="1203.8" y1="1030.7" x2="1212.8" y2="1030.7" stroke="#262626" stroke-width="1.5"/>
<text transform="translate(1195.9,1040.5) scale(1,1.100)" font-size="28.4" text-anchor="end" fill="#262626" font-weight="bold">5000</text>
<line x1="1203.8" y1="1084.8" x2="1212.8" y2="1084.8" stroke="#262626" stroke-width="1.5"/>
<text transform="translate(1195.9,1093.5) scale(1,1.100)" font-size="28.4" text-anchor="end" fill="#262626" font-weight="bold">0</text>
<line x1="1328.4" y1="1074.8" x2="1328.4" y2="1084.8" stroke="#262626" stroke-width="1.5"/>
<text transform="translate(1328.4,1117.5) scale(1,1.130)" font-size="28.3" text-anchor="middle" fill="#262626" font-weight="bold">200</text>
<line x1="1452.7" y1="1074.8" x2="1452.7" y2="1084.8" stroke="#262626" stroke-width="1.5"/>
<text transform="translate(1452.7,1117.5) scale(1,1.130)" font-size="28.3" text-anchor="middle" fill="#262626" font-weight="bold">400</text>
<line x1="1577.0" y1="1074.8" x2="1577.0" y2="1084.8" stroke="#262626" stroke-width="1.5"/>
<text transform="translate(1577.0,1117.5) scale(1,1.130)" font-size="28.3" text-anchor="middle" fill="#262626" font-weight="bold">600</text>
<line x1="1701.3" y1="1074.8" x2="1701.3" y2="1084.8" stroke="#262626" stroke-width="1.5"/>
<text transform="translate(1701.3,1117.5) scale(1,1.130)" font-size="28.3" text-anchor="middle" fill="#262626" font-weight="bold">800</text>
<line x1="1825.6" y1="1074.8" x2="1825.6" y2="1084.8" stroke="#262626" stroke-width="1.5"/>
<text transform="translate(1825.6,1117.5) scale(1,1.130)" font-size="28.3" text-anchor="middle" fill="#262626" font-weight="bold">1000</text>
<line x1="1949.9" y1="1074.8" x2="1949.9" y2="1084.8" stroke="#262626" stroke-width="1.5"/>
<text transform="translate(1949.9,1117.5) scale(1,1.130)" font-size="28.3" text-anchor="middle" fill="#262626" font-weight="bold">1200</text>
<line x1="2074.2" y1="1074.8" x2="2074.2" y2="1084.8" stroke="#262626" stroke-width="1.5"/>
<text transform="translate(2074.2,1117.5) scale(1,1.130)" font-size="28.3" text-anchor="middle" fill="#262626" font-weight="bold">1400</text>
<text x="1462.8" y="991.7" font-size="28.8" text-anchor="start" fill="#262626" font-weight="bold">3rd temporal singular vector</text>
<text x="2091.4" y="1141.7" font-size="25.8" text-anchor="end" fill="#262626" font-weight="bold">Time [ms]</text>
<text x="1158.0" y="953.5" font-size="23.5" text-anchor="start" fill="#262626" font-weight="bold">[au]</text>
<path d="M1203.8,1019.2 C1205.2,1018.8 1209.3,1016.2 1211.9,1016.7 C1214.5,1017.2 1217.3,1021.1 1219.6,1022.3 C1221.9,1023.5 1224.0,1022.9 1225.9,1023.8 C1227.8,1024.7 1228.9,1027.7 1231.0,1027.4 C1233.1,1027.2 1236.3,1021.8 1238.6,1022.3 C1240.9,1022.8 1242.2,1028.9 1245.0,1030.7 C1247.8,1032.5 1252.2,1033.8 1255.2,1033.2 C1258.2,1032.7 1259.8,1027.0 1262.8,1027.4 C1265.8,1027.8 1269.8,1033.6 1273.0,1035.7 C1276.2,1037.8 1279.4,1039.8 1281.9,1040.1 C1284.4,1040.4 1286.1,1036.8 1288.2,1037.5 C1290.3,1038.2 1292.5,1042.8 1294.6,1044.1 C1296.7,1045.4 1298.9,1043.1 1301.0,1045.2 C1303.1,1047.3 1305.2,1055.6 1307.3,1056.9 C1309.4,1058.2 1311.4,1052.6 1313.7,1052.8 C1316.0,1053.0 1319.2,1057.4 1321.3,1057.9 C1323.4,1058.5 1324.3,1055.4 1326.4,1056.1 C1328.5,1056.8 1331.5,1061.5 1334.0,1061.9 C1336.5,1062.3 1339.4,1059.1 1341.7,1058.6 C1344.0,1058.0 1345.9,1059.0 1348.0,1058.6 C1350.1,1058.2 1351.6,1057.4 1354.4,1056.1 C1357.2,1054.8 1362.0,1051.8 1364.6,1051.0 C1367.1,1050.2 1367.6,1052.1 1369.7,1051.0 C1371.8,1049.9 1375.2,1045.8 1377.3,1044.6 C1379.4,1043.4 1380.3,1044.9 1382.4,1044.1 C1384.5,1043.3 1387.2,1040.4 1390.0,1039.6 C1392.8,1038.8 1396.4,1040.3 1398.9,1039.0 C1401.5,1037.7 1403.0,1037.3 1405.3,1031.9 C1407.6,1026.5 1410.2,1012.9 1412.9,1006.5 C1415.7,1000.1 1419.5,995.2 1421.8,993.3 C1424.1,991.4 1425.0,993.2 1426.9,995.0 C1428.8,996.8 1431.1,1002.3 1433.2,1003.9 C1435.3,1005.5 1437.3,1003.4 1439.6,1004.7 C1441.9,1006.0 1445.1,1010.3 1447.2,1011.6 C1449.3,1012.9 1449.5,1010.2 1452.3,1012.3 C1455.1,1014.4 1460.2,1020.6 1463.8,1024.3 C1467.4,1028.0 1471.0,1032.3 1474.0,1034.5 C1477.0,1036.7 1478.8,1037.2 1481.6,1037.5 C1484.3,1037.8 1487.5,1035.3 1490.5,1036.5 C1493.5,1037.7 1496.4,1042.2 1499.4,1044.6 C1502.4,1047.0 1505.3,1050.8 1508.3,1051.0 C1511.3,1051.2 1514.5,1045.1 1517.2,1045.9 C1520.0,1046.8 1521.8,1054.1 1524.8,1056.1 C1527.8,1058.1 1532.0,1057.8 1535.0,1057.9 C1538.0,1058.0 1540.3,1056.8 1542.6,1056.9 C1544.9,1057.0 1546.5,1057.2 1549.0,1058.6 C1551.5,1060.0 1555.2,1064.7 1557.9,1065.5 C1560.7,1066.3 1563.0,1063.7 1565.5,1063.7 C1568.0,1063.7 1570.9,1064.3 1573.2,1065.5 C1575.5,1066.7 1576.3,1069.8 1579.5,1070.6 C1582.7,1071.4 1588.2,1069.8 1592.2,1070.1 C1596.2,1070.4 1600.5,1071.8 1603.7,1072.6 C1606.9,1073.4 1609.2,1075.1 1611.3,1075.2 C1613.4,1075.3 1614.2,1073.5 1616.5,1073.4 C1618.8,1073.3 1621.6,1074.6 1625.4,1074.4 C1629.2,1074.2 1635.4,1072.4 1639.4,1072.1 C1643.4,1071.8 1646.4,1070.6 1649.6,1072.6 C1652.8,1074.6 1655.8,1082.8 1658.5,1084.1 C1661.2,1085.4 1663.3,1081.1 1666.1,1080.3 C1668.8,1079.5 1672.5,1080.3 1675.0,1079.0 C1677.5,1077.7 1676.9,1074.7 1681.4,1072.6 C1685.9,1070.5 1697.6,1068.1 1701.8,1066.3 C1706.0,1064.5 1703.4,1063.4 1706.8,1061.9 C1710.2,1060.4 1717.4,1057.9 1722.1,1057.4 C1726.8,1057.0 1731.2,1059.1 1734.8,1059.2 C1738.4,1059.3 1740.9,1057.1 1743.7,1057.9 C1746.5,1058.7 1748.6,1063.2 1751.4,1064.2 C1754.2,1065.2 1757.8,1063.3 1760.3,1063.7 C1762.8,1064.1 1764.6,1067.2 1766.6,1066.8 C1768.6,1066.4 1770.6,1061.4 1772.5,1061.2 C1774.4,1061.0 1776.1,1064.5 1778.1,1065.5 C1780.1,1066.5 1782.7,1066.4 1784.4,1067.5 C1786.1,1068.6 1785.9,1070.7 1788.2,1072.1 C1790.5,1073.5 1795.6,1076.0 1798.4,1075.7 C1801.2,1075.5 1802.2,1074.6 1804.8,1070.6 C1807.3,1066.6 1810.5,1056.5 1813.7,1051.8 C1816.9,1047.1 1821.2,1043.9 1823.9,1042.6 C1826.7,1041.3 1827.7,1043.1 1830.2,1044.1 C1832.7,1045.1 1836.1,1046.1 1839.1,1048.5 C1842.1,1050.9 1845.0,1055.3 1848.0,1058.6 C1851.0,1061.8 1854.6,1066.2 1856.9,1068.0 C1859.2,1069.8 1859.7,1067.9 1862.0,1069.6 C1864.3,1071.3 1868.4,1076.9 1870.9,1078.2 C1873.5,1079.5 1874.3,1078.0 1877.3,1077.2 C1880.3,1076.4 1885.5,1075.7 1888.7,1073.4 C1891.9,1071.2 1893.6,1064.7 1896.4,1063.7 C1899.2,1062.7 1902.1,1066.7 1905.3,1067.5 C1908.5,1068.3 1912.2,1069.4 1915.4,1068.8 C1918.6,1068.2 1921.3,1065.6 1924.3,1063.7 C1927.3,1061.8 1930.4,1058.0 1933.2,1057.4 C1936.0,1056.8 1937.9,1060.4 1940.9,1059.9 C1943.9,1059.4 1948.1,1056.2 1951.1,1054.3 C1954.1,1052.4 1956.2,1048.9 1958.7,1048.5 C1961.2,1048.1 1963.8,1052.3 1966.3,1051.8 C1968.8,1051.2 1971.9,1046.3 1974.0,1045.2 C1976.1,1044.1 1977.1,1046.0 1979.0,1045.4 C1980.9,1044.8 1982.4,1042.8 1985.4,1041.6 C1988.4,1040.4 1994.0,1038.6 1996.8,1038.3 C1999.5,1038.0 1999.8,1040.2 2001.9,1039.6 C2004.0,1039.0 2007.5,1034.8 2009.6,1034.5 C2011.7,1034.2 2012.7,1038.3 2014.6,1037.5 C2016.5,1036.7 2018.9,1029.9 2021.0,1029.4 C2023.1,1028.9 2025.3,1033.9 2027.4,1034.5 C2029.5,1035.1 2031.4,1032.6 2033.7,1033.2 C2036.0,1033.8 2038.4,1038.4 2041.4,1038.3 C2044.4,1038.2 2048.5,1035.2 2051.5,1032.7 C2054.5,1030.2 2056.6,1024.1 2059.2,1023.5 C2061.8,1022.9 2064.3,1028.1 2066.8,1028.9 C2069.3,1029.7 2073.1,1028.2 2074.4,1028.1" fill="none" stroke="#0072BD" stroke-width="3.2" stroke-linejoin="round" stroke-linecap="round"/>
<line x1="1209.4" y1="1211.6" x2="1209.4" y2="1319.8" stroke="#262626" stroke-width="1.6"/>
<line x1="1209.4" y1="1319.8" x2="2079.5" y2="1319.8" stroke="#262626" stroke-width="1.6"/>
<line x1="1209.4" y1="1211.6" x2="1218.4" y2="1211.6" stroke="#262626" stroke-width="1.5"/>
<text transform="translate(1201.1,1221.5) scale(1,1.100)" font-size="28.4" text-anchor="end" fill="#262626" font-weight="bold">5000</text>
<line x1="1209.4" y1="1319.8" x2="1218.4" y2="1319.8" stroke="#262626" stroke-width="1.5"/>
<text transform="translate(1201.1,1329.7) scale(1,1.100)" font-size="28.4" text-anchor="end" fill="#262626" font-weight="bold">0</text>
<text transform="translate(1209.1,1352.3) scale(1,1.130)" font-size="28.3" text-anchor="middle" fill="#262626" font-weight="bold">0</text>
<line x1="1333.4" y1="1309.8" x2="1333.4" y2="1319.8" stroke="#262626" stroke-width="1.5"/>
<text transform="translate(1333.4,1352.3) scale(1,1.130)" font-size="28.3" text-anchor="middle" fill="#262626" font-weight="bold">200</text>
<line x1="1457.8" y1="1309.8" x2="1457.8" y2="1319.8" stroke="#262626" stroke-width="1.5"/>
<text transform="translate(1457.8,1352.3) scale(1,1.130)" font-size="28.3" text-anchor="middle" fill="#262626" font-weight="bold">400</text>
<line x1="1582.1" y1="1309.8" x2="1582.1" y2="1319.8" stroke="#262626" stroke-width="1.5"/>
<text transform="translate(1582.1,1352.3) scale(1,1.130)" font-size="28.3" text-anchor="middle" fill="#262626" font-weight="bold">600</text>
<line x1="1706.5" y1="1309.8" x2="1706.5" y2="1319.8" stroke="#262626" stroke-width="1.5"/>
<text transform="translate(1706.5,1352.3) scale(1,1.130)" font-size="28.3" text-anchor="middle" fill="#262626" font-weight="bold">800</text>
<line x1="1830.8" y1="1309.8" x2="1830.8" y2="1319.8" stroke="#262626" stroke-width="1.5"/>
<text transform="translate(1830.8,1352.3) scale(1,1.130)" font-size="28.3" text-anchor="middle" fill="#262626" font-weight="bold">1000</text>
<line x1="1955.1" y1="1309.8" x2="1955.1" y2="1319.8" stroke="#262626" stroke-width="1.5"/>
<text transform="translate(1955.1,1352.3) scale(1,1.130)" font-size="28.3" text-anchor="middle" fill="#262626" font-weight="bold">1200</text>
<line x1="2079.5" y1="1309.8" x2="2079.5" y2="1319.8" stroke="#262626" stroke-width="1.5"/>
<text transform="translate(2079.5,1352.3) scale(1,1.130)" font-size="28.3" text-anchor="middle" fill="#262626" font-weight="bold">1400</text>
<text x="1460.2" y="1205.3" font-size="28.8" text-anchor="start" fill="#262626" font-weight="bold">5th temporal singular vector</text>
<text x="2093.9" y="1377.4" font-size="25.8" text-anchor="end" fill="#262626" font-weight="bold">Time [ms]</text>
<text x="1159.8" y="1188.5" font-size="23.5" text-anchor="start" fill="#262626" font-weight="bold">[au]</text>
<path d="M1209.4,1241.4 C1210.0,1242.5 1211.9,1244.0 1213.2,1247.8 C1214.5,1251.6 1215.5,1260.8 1217.0,1264.3 C1218.5,1267.8 1220.6,1268.0 1222.1,1268.9 C1223.6,1269.8 1224.6,1267.8 1225.9,1269.9 C1227.2,1272.0 1228.2,1279.2 1229.7,1281.6 C1231.2,1284.0 1233.5,1283.5 1234.8,1284.1 C1236.1,1284.7 1236.3,1282.8 1237.4,1285.2 C1238.5,1287.6 1239.5,1295.9 1241.2,1298.6 C1242.9,1301.3 1246.0,1300.9 1247.5,1301.2 C1249.0,1301.5 1249.2,1299.6 1250.1,1300.4 C1250.9,1301.2 1250.7,1306.4 1252.6,1306.3 C1254.5,1306.2 1259.0,1304.0 1261.5,1299.9 C1264.0,1295.8 1265.6,1284.8 1267.9,1281.6 C1270.2,1278.4 1273.6,1281.3 1275.5,1280.8 C1277.4,1280.2 1278.2,1277.9 1279.3,1278.3 C1280.4,1278.7 1280.9,1279.2 1281.9,1283.4 C1282.9,1287.6 1283.9,1305.2 1285.2,1303.7 C1286.5,1302.2 1288.2,1282.8 1289.5,1274.5 C1290.8,1266.2 1291.8,1260.5 1293.3,1254.1 C1294.8,1247.7 1297.0,1239.3 1298.4,1236.3 C1299.8,1233.2 1300.3,1233.9 1301.5,1235.8 C1302.7,1237.7 1304.4,1246.0 1305.5,1247.8 C1306.6,1249.6 1306.8,1249.2 1308.1,1246.5 C1309.4,1243.8 1311.5,1231.3 1313.2,1231.7 C1314.9,1232.1 1316.1,1249.3 1318.3,1249.0 C1320.5,1248.7 1324.4,1232.5 1326.4,1230.0 C1328.4,1227.5 1328.9,1232.6 1330.2,1234.3 C1331.5,1236.0 1332.7,1238.9 1334.0,1240.1 C1335.3,1241.3 1336.2,1237.3 1337.9,1241.4 C1339.6,1245.5 1342.3,1261.1 1344.2,1264.8 C1346.1,1268.5 1347.6,1262.6 1349.3,1263.8 C1351.0,1265.0 1351.9,1268.4 1354.4,1271.9 C1357.0,1275.4 1361.6,1282.0 1364.6,1284.6 C1367.6,1287.2 1370.1,1287.5 1372.2,1287.7 C1374.3,1287.9 1376.0,1284.5 1377.3,1285.9 C1378.6,1287.3 1378.1,1293.8 1379.8,1296.1 C1381.5,1298.4 1385.0,1298.6 1387.5,1299.9 C1390.0,1301.2 1393.0,1303.5 1395.1,1303.7 C1397.2,1303.9 1398.5,1301.8 1400.2,1301.2 C1401.9,1300.6 1403.8,1301.6 1405.3,1299.9 C1406.8,1298.2 1407.2,1294.7 1409.1,1291.0 C1411.0,1287.3 1414.6,1278.5 1416.7,1277.5 C1418.8,1276.5 1420.1,1283.6 1421.8,1285.2 C1423.5,1286.8 1424.4,1285.2 1426.9,1287.2 C1429.5,1289.2 1434.1,1296.6 1437.1,1297.4 C1440.1,1298.2 1442.5,1289.8 1444.7,1292.3 C1446.9,1294.8 1448.8,1309.0 1450.5,1312.1 C1452.2,1315.1 1453.1,1311.0 1454.9,1310.6 C1456.7,1310.2 1459.5,1308.8 1461.2,1309.6 C1462.9,1310.4 1463.3,1316.6 1465.0,1315.2 C1466.7,1313.8 1469.1,1303.7 1471.4,1301.2 C1473.7,1298.7 1476.9,1301.1 1479.0,1300.4 C1481.1,1299.7 1482.4,1298.7 1484.1,1296.9 C1485.8,1295.1 1487.1,1294.3 1489.2,1289.7 C1491.3,1285.1 1494.5,1272.7 1496.8,1269.4 C1499.1,1266.1 1501.3,1269.1 1503.2,1269.9 C1505.1,1270.7 1506.4,1274.7 1508.3,1274.0 C1510.2,1273.3 1513.0,1269.3 1514.7,1265.6 C1516.4,1261.9 1517.0,1256.0 1518.5,1251.6 C1520.0,1247.1 1521.7,1238.6 1523.6,1238.9 C1525.5,1239.2 1528.0,1247.2 1529.9,1253.6 C1531.8,1259.9 1533.4,1267.1 1535.0,1277.0 C1536.6,1286.9 1537.4,1310.6 1539.3,1313.1 C1541.2,1315.6 1544.5,1294.8 1546.5,1291.8 C1548.5,1288.8 1550.0,1295.4 1551.5,1295.3 C1553.0,1295.2 1553.7,1292.8 1555.4,1291.0 C1557.1,1289.2 1560.0,1284.5 1561.7,1284.6 C1563.4,1284.7 1563.8,1291.7 1565.5,1291.8 C1567.2,1291.9 1569.6,1286.2 1571.9,1285.2 C1574.2,1284.2 1577.2,1284.9 1579.5,1285.9 C1581.8,1286.9 1583.8,1287.8 1585.9,1291.0 C1588.0,1294.2 1590.1,1300.8 1592.2,1305.0 C1594.3,1309.2 1596.0,1315.6 1598.6,1316.4 C1601.1,1317.2 1605.0,1311.0 1607.5,1309.6 C1610.0,1308.2 1611.3,1311.4 1613.9,1308.1 C1616.5,1304.8 1619.7,1295.7 1622.9,1289.7 C1626.1,1283.7 1630.3,1275.9 1633.1,1271.9 C1635.8,1267.9 1637.3,1268.3 1639.4,1265.6 C1641.5,1262.8 1643.9,1257.7 1645.8,1255.4 C1647.7,1253.2 1649.4,1252.3 1650.9,1252.1 C1652.4,1251.9 1653.0,1243.6 1654.7,1254.1 C1656.4,1264.6 1659.0,1310.1 1661.1,1315.2 C1663.2,1320.3 1665.3,1291.5 1667.4,1284.6 C1669.5,1277.7 1671.7,1275.3 1673.8,1274.0 C1675.9,1272.7 1677.8,1277.0 1680.1,1277.0 C1682.4,1277.0 1685.7,1273.9 1687.8,1274.0 C1689.9,1274.1 1691.2,1278.3 1692.9,1277.5 C1694.6,1276.7 1695.8,1271.2 1697.9,1269.4 C1700.0,1267.6 1703.3,1266.9 1705.6,1266.8 C1707.9,1266.7 1709.8,1265.1 1711.9,1268.9 C1714.0,1272.7 1715.5,1284.8 1718.3,1289.7 C1721.1,1294.7 1725.3,1296.3 1728.5,1298.6 C1731.7,1300.9 1734.4,1302.4 1737.4,1303.7 C1740.4,1305.0 1744.0,1305.3 1746.3,1306.3 C1748.6,1307.3 1749.9,1310.1 1751.4,1309.6 C1752.9,1309.0 1753.5,1304.0 1755.2,1303.0 C1756.9,1302.0 1758.8,1305.4 1761.5,1303.7 C1764.2,1302.0 1768.7,1294.1 1771.7,1292.8 C1774.7,1291.5 1777.4,1293.7 1779.3,1296.1 C1781.2,1298.5 1781.5,1310.6 1783.2,1307.0 C1784.9,1303.4 1787.2,1281.6 1789.5,1274.5 C1791.8,1267.4 1794.4,1261.8 1797.2,1264.3 C1800.0,1266.8 1802.9,1287.4 1806.1,1289.7 C1809.3,1292.0 1813.2,1282.2 1816.2,1278.3 C1819.2,1274.4 1821.4,1267.8 1823.9,1266.3 C1826.5,1264.8 1829.4,1268.2 1831.5,1269.4 C1833.6,1270.6 1834.5,1275.7 1836.6,1273.2 C1838.7,1270.7 1841.7,1258.2 1844.2,1254.6 C1846.7,1251.0 1848.8,1252.5 1851.8,1251.6 C1854.8,1250.7 1859.5,1250.8 1862.0,1249.0 C1864.5,1247.2 1864.8,1240.7 1867.1,1240.9 C1869.4,1241.1 1873.5,1251.1 1876.0,1250.3 C1878.5,1249.5 1880.1,1240.0 1882.4,1236.3 C1884.7,1232.6 1887.7,1231.6 1890.0,1228.2 C1892.3,1224.8 1894.3,1216.3 1896.4,1216.0 C1898.5,1215.7 1900.8,1219.3 1902.7,1226.1 C1904.6,1232.9 1905.9,1243.5 1907.8,1256.7 C1909.7,1269.9 1912.3,1298.0 1914.2,1305.0 C1916.1,1312.0 1917.2,1299.9 1919.3,1298.6 C1921.4,1297.3 1924.8,1297.0 1926.9,1297.4 C1929.0,1297.8 1930.1,1300.9 1932.0,1301.2 C1933.9,1301.5 1936.0,1297.0 1938.3,1299.4 C1940.6,1301.8 1943.7,1313.3 1946.0,1315.7 C1948.3,1318.1 1950.6,1313.7 1952.3,1313.9 C1954.0,1314.2 1954.6,1317.5 1956.1,1317.2 C1957.6,1316.9 1959.5,1312.6 1961.2,1312.1 C1962.9,1311.5 1964.8,1317.0 1966.3,1313.9 C1967.8,1310.8 1968.4,1296.6 1970.1,1293.6 C1971.8,1290.6 1973.7,1297.6 1976.5,1296.1 C1979.3,1294.6 1983.1,1287.8 1986.7,1284.6 C1990.3,1281.4 1995.6,1279.2 1998.1,1277.0 C2000.6,1274.8 2000.2,1274.8 2001.9,1271.4 C2003.6,1268.0 2006.6,1258.7 2008.3,1256.7 C2010.0,1254.7 2010.8,1260.7 2012.1,1259.2 C2013.4,1257.7 2014.4,1252.5 2015.9,1247.8 C2017.4,1243.1 2019.1,1231.8 2021.0,1231.2 C2022.9,1230.6 2025.1,1230.8 2027.4,1243.9 C2029.7,1257.1 2032.9,1303.1 2035.0,1310.1 C2037.1,1317.1 2038.0,1289.9 2040.1,1285.9 C2042.2,1281.9 2045.2,1286.8 2047.7,1285.9 C2050.2,1285.1 2053.3,1281.4 2055.4,1280.8 C2057.5,1280.2 2058.7,1283.6 2060.4,1282.1 C2062.1,1280.6 2063.4,1272.4 2065.5,1271.9 C2067.6,1271.4 2070.9,1277.0 2073.2,1279.0 C2075.5,1281.0 2078.4,1283.2 2079.5,1284.1" fill="none" stroke="#0072BD" stroke-width="3.2" stroke-linejoin="round" stroke-linecap="round"/>
<line x1="1206.8" y1="1463.1" x2="1206.8" y2="1571.0" stroke="#262626" stroke-width="1.6"/>
<line x1="1206.8" y1="1571.0" x2="2077.0" y2="1571.0" stroke="#262626" stroke-width="1.6"/>
<line x1="1206.8" y1="1463.1" x2="1215.8" y2="1463.1" stroke="#262626" stroke-width="1.5"/>
<text transform="translate(1198.6,1473.0) scale(1,1.100)" font-size="28.4" text-anchor="end" fill="#262626" font-weight="bold">1500</text>
<line x1="1206.8" y1="1499.2" x2="1215.8" y2="1499.2" stroke="#262626" stroke-width="1.5"/>
<text transform="translate(1198.6,1508.6) scale(1,1.100)" font-size="28.4" text-anchor="end" fill="#262626" font-weight="bold">1000</text>
<line x1="1206.8" y1="1535.3" x2="1215.8" y2="1535.3" stroke="#262626" stroke-width="1.5"/>
<text transform="translate(1198.6,1545.0) scale(1,1.100)" font-size="28.4" text-anchor="end" fill="#262626" font-weight="bold">500</text>
<line x1="1327.7" y1="1561.0" x2="1327.7" y2="1571.0" stroke="#262626" stroke-width="1.5"/>
<text transform="translate(1327.7,1603.8) scale(1,1.130)" font-size="28.3" text-anchor="middle" fill="#262626" font-weight="bold">200</text>
<line x1="1451.9" y1="1561.0" x2="1451.9" y2="1571.0" stroke="#262626" stroke-width="1.5"/>
<text transform="translate(1451.9,1603.8) scale(1,1.130)" font-size="28.3" text-anchor="middle" fill="#262626" font-weight="bold">400</text>
<line x1="1576.0" y1="1561.0" x2="1576.0" y2="1571.0" stroke="#262626" stroke-width="1.5"/>
<text transform="translate(1576.0,1603.8) scale(1,1.130)" font-size="28.3" text-anchor="middle" fill="#262626" font-weight="bold">600</text>
<line x1="1700.2" y1="1561.0" x2="1700.2" y2="1571.0" stroke="#262626" stroke-width="1.5"/>
<text transform="translate(1700.2,1603.8) scale(1,1.130)" font-size="28.3" text-anchor="middle" fill="#262626" font-weight="bold">800</text>
<line x1="1824.3" y1="1561.0" x2="1824.3" y2="1571.0" stroke="#262626" stroke-width="1.5"/>
<text transform="translate(1824.3,1603.8) scale(1,1.130)" font-size="28.3" text-anchor="middle" fill="#262626" font-weight="bold">1000</text>
<line x1="1948.4" y1="1561.0" x2="1948.4" y2="1571.0" stroke="#262626" stroke-width="1.5"/>
<text transform="translate(1948.4,1603.8) scale(1,1.130)" font-size="28.3" text-anchor="middle" fill="#262626" font-weight="bold">1200</text>
<line x1="2072.6" y1="1561.0" x2="2072.6" y2="1571.0" stroke="#262626" stroke-width="1.5"/>
<text transform="translate(2072.6,1603.8) scale(1,1.130)" font-size="28.3" text-anchor="middle" fill="#262626" font-weight="bold">1400</text>
<text x="1466.1" y="1467.4" font-size="28.8" text-anchor="start" fill="#262626" font-weight="bold">10th temporal singular vector</text>
<text x="2088.9" y="1634.5" font-size="25.8" text-anchor="end" fill="#262626" font-weight="bold">Time [ms]</text>
<text x="1163.6" y="1437.4" font-size="23.5" text-anchor="start" fill="#262626" font-weight="bold">[au]</text>
<path d="M1206.8,1519.6 L1210.7,1532.8 L1217.0,1509.4 L1219.6,1504.3 L1222.6,1498.7 L1225.2,1503.0 L1230.2,1519.6 L1234.3,1504.3 L1238.6,1492.9 L1243.7,1499.2 L1252.1,1531.0 L1255.7,1514.5 L1260.3,1513.2 L1264.1,1515.7 L1267.9,1506.8 L1271.7,1504.3 L1280.6,1552.6 L1285.7,1560.3 L1289.5,1557.2 L1293.3,1562.8 L1297.9,1519.6 L1302.2,1527.2 L1306.0,1552.6 L1315.0,1509.4 L1319.3,1518.3 L1323.9,1541.2 L1329.0,1542.5 L1332.0,1559.0 L1335.3,1559.0 L1340.4,1524.7 L1345.5,1501.8 L1350.6,1528.5 L1355.7,1528.5 L1362.0,1509.4 L1368.4,1477.6 L1373.5,1487.8 L1376.0,1486.5 L1382.4,1513.2 L1387.5,1504.3 L1393.8,1524.7 L1398.9,1510.7 L1409.8,1553.9 L1416.7,1508.1 L1424.3,1481.4 L1429.4,1495.4 L1434.5,1491.6 L1439.6,1509.4 L1442.1,1503.0 L1447.2,1511.9 L1456.1,1553.9 L1461.2,1552.6 L1466.8,1508.1 L1473.5,1537.4 L1479.0,1531.0 L1484.1,1513.2 L1487.9,1506.8 L1490.5,1485.2 L1495.6,1494.1 L1499.4,1487.8 L1503.2,1500.5 L1508.3,1510.7 L1512.1,1506.3 L1515.9,1501.8 L1523.6,1518.3 L1532.5,1534.8 L1537.0,1550.1 L1545.2,1524.7 L1551.5,1552.6 L1557.9,1539.4 L1561.7,1547.5 L1569.3,1545.0 L1577.0,1569.2 L1584.6,1568.4 L1593.5,1555.7 L1601.1,1536.1 L1605.1,1531.0 L1611.4,1530.2 L1619.1,1561.5 L1624.2,1569.2 L1633.1,1527.2 L1638.2,1524.7 L1640.7,1518.3 L1644.5,1518.3 L1652.1,1547.5 L1654.7,1545.0 L1661.1,1518.3 L1664.9,1517.0 L1670.0,1510.7 L1673.8,1511.4 L1676.3,1508.1 L1680.1,1500.5 L1683.9,1525.9 L1686.5,1529.7 L1691.6,1553.9 L1697.9,1546.3 L1704.3,1555.2 L1709.4,1567.9 L1714.5,1559.0 L1718.3,1564.1 L1729.7,1520.8 L1733.6,1524.7 L1738.6,1547.5 L1742.5,1539.4 L1748.8,1550.1 L1752.6,1538.6 L1756.5,1532.3 L1761.5,1508.1 L1766.6,1503.8 L1770.4,1520.8 L1775.5,1528.5 L1780.6,1515.7 L1784.4,1491.6 L1788.2,1481.9 L1792.1,1466.6 L1795.9,1483.9 L1799.7,1509.4 L1802.2,1517.5 L1804.8,1510.7 L1808.6,1522.6 L1813.7,1506.8 L1816.7,1517.5 L1820.0,1504.3 L1823.9,1509.4 L1830.2,1518.3 L1834.0,1522.6 L1840.4,1533.6 L1844.2,1539.9 L1848.0,1555.7 L1851.8,1547.5 L1858.2,1546.3 L1863.3,1557.7 L1870.9,1533.6 L1876.0,1547.5 L1886.2,1515.7 L1890.0,1524.7 L1892.5,1521.6 L1896.4,1528.5 L1900.2,1546.3 L1905.3,1524.7 L1910.4,1525.9 L1914.2,1510.7 L1919.3,1532.3 L1925.6,1550.1 L1935.8,1487.8 L1939.6,1490.3 L1942.2,1486.0 L1946.0,1500.5 L1951.1,1497.9 L1954.9,1505.6 L1963.8,1541.2 L1968.9,1520.8 L1972.7,1522.1 L1977.0,1508.1 L1981.6,1513.2 L1986.7,1529.7 L1990.5,1534.8 L1996.8,1559.0 L2003.2,1562.8 L2014.7,1522.1 L2019.7,1537.4 L2024.8,1546.3 L2029.9,1560.3 L2035.0,1559.0 L2038.8,1547.5 L2042.6,1556.4 L2046.5,1565.4 L2051.5,1552.6 L2056.6,1533.6 L2060.4,1529.2 L2063.0,1536.1 L2066.8,1531.8 L2074.4,1555.2" fill="none" stroke="#0072BD" stroke-width="3.2" stroke-linejoin="round" stroke-linecap="round"/>
<line x1="1203.8" y1="1706.6" x2="1203.8" y2="1814.5" stroke="#262626" stroke-width="1.6"/>
<line x1="1203.8" y1="1814.5" x2="2074.7" y2="1814.5" stroke="#262626" stroke-width="1.6"/>
<line x1="1203.8" y1="1706.6" x2="1212.8" y2="1706.6" stroke="#262626" stroke-width="1.5"/>
<text transform="translate(1196.8,1716.3) scale(1,1.100)" font-size="28.4" text-anchor="end" fill="#262626" font-weight="bold">1000</text>
<line x1="1203.8" y1="1760.6" x2="1212.8" y2="1760.6" stroke="#262626" stroke-width="1.5"/>
<text transform="translate(1196.8,1770.2) scale(1,1.100)" font-size="28.4" text-anchor="end" fill="#262626" font-weight="bold">500</text>
<line x1="1203.8" y1="1814.5" x2="1212.8" y2="1814.5" stroke="#262626" stroke-width="1.5"/>
<text transform="translate(1196.8,1824.2) scale(1,1.100)" font-size="28.4" text-anchor="end" fill="#262626" font-weight="bold">0</text>
<text transform="translate(1204.1,1847.6) scale(1,1.130)" font-size="28.3" text-anchor="middle" fill="#262626" font-weight="bold">0</text>
<line x1="1328.4" y1="1804.5" x2="1328.4" y2="1814.5" stroke="#262626" stroke-width="1.5"/>
<text transform="translate(1328.4,1847.6) scale(1,1.130)" font-size="28.3" text-anchor="middle" fill="#262626" font-weight="bold">200</text>
<line x1="1452.7" y1="1804.5" x2="1452.7" y2="1814.5" stroke="#262626" stroke-width="1.5"/>
<text transform="translate(1452.7,1847.6) scale(1,1.130)" font-size="28.3" text-anchor="middle" fill="#262626" font-weight="bold">400</text>
<line x1="1577.0" y1="1804.5" x2="1577.0" y2="1814.5" stroke="#262626" stroke-width="1.5"/>
<text transform="translate(1577.0,1847.6) scale(1,1.130)" font-size="28.3" text-anchor="middle" fill="#262626" font-weight="bold">600</text>
<line x1="1701.3" y1="1804.5" x2="1701.3" y2="1814.5" stroke="#262626" stroke-width="1.5"/>
<text transform="translate(1701.3,1847.6) scale(1,1.130)" font-size="28.3" text-anchor="middle" fill="#262626" font-weight="bold">800</text>
<line x1="1825.6" y1="1804.5" x2="1825.6" y2="1814.5" stroke="#262626" stroke-width="1.5"/>
<text transform="translate(1825.6,1847.6) scale(1,1.130)" font-size="28.3" text-anchor="middle" fill="#262626" font-weight="bold">1000</text>
<line x1="1949.9" y1="1804.5" x2="1949.9" y2="1814.5" stroke="#262626" stroke-width="1.5"/>
<text transform="translate(1949.9,1847.6) scale(1,1.130)" font-size="28.3" text-anchor="middle" fill="#262626" font-weight="bold">1200</text>
<line x1="2074.2" y1="1804.5" x2="2074.2" y2="1814.5" stroke="#262626" stroke-width="1.5"/>
<text transform="translate(2074.2,1847.6) scale(1,1.130)" font-size="28.3" text-anchor="middle" fill="#262626" font-weight="bold">1400</text>
<text x="1467.9" y="1712.5" font-size="28.8" text-anchor="start" fill="#262626" font-weight="bold">20th temporal singular vector</text>
<text x="2088.9" y="1877.0" font-size="25.8" text-anchor="end" fill="#262626" font-weight="bold">Time [ms]</text>
<text x="1158.0" y="1684.3" font-size="23.5" text-anchor="start" fill="#262626" font-weight="bold">[au]</text>
<path d="M1204.3,1814.3 L1206.8,1796.4 L1211.9,1777.4 L1215.7,1786.3 L1219.6,1790.1 L1221.6,1793.9 L1224.6,1814.3 L1228.5,1802.8 L1232.3,1791.4 L1236.1,1795.7 L1238.6,1801.5 L1242.5,1795.2 L1248.8,1776.1 L1255.2,1800.3 L1259.0,1792.6 L1262.8,1801.5 L1267.9,1788.8 L1271.7,1776.1 L1276.8,1806.6 L1281.9,1777.4 L1287.0,1771.0 L1289.5,1755.7 L1295.9,1757.0 L1301.0,1783.7 L1303.5,1764.6 L1307.3,1757.0 L1310.6,1748.1 L1313.7,1771.0 L1318.8,1773.6 L1322.6,1779.4 L1326.4,1791.4 L1329.0,1778.6 L1332.0,1814.3 L1336.6,1777.4 L1340.4,1773.6 L1345.5,1778.6 L1350.6,1791.4 L1354.4,1772.3 L1359.5,1764.6 L1365.8,1781.2 L1369.6,1768.5 L1373.5,1774.8 L1376.8,1755.7 L1382.4,1777.4 L1389.5,1798.2 L1392.5,1778.6 L1401.5,1771.8 L1405.3,1782.5 L1409.1,1772.3 L1412.9,1788.8 L1416.7,1771.0 L1423.1,1781.2 L1426.9,1797.7 L1433.2,1806.6 L1438.3,1790.1 L1442.2,1795.2 L1447.2,1771.0 L1454.9,1797.7 L1461.2,1809.2 L1467.6,1792.1 L1472.7,1801.5 L1476.5,1804.1 L1482.9,1802.8 L1486.7,1759.6 L1490.5,1769.7 L1496.9,1754.5 L1502.0,1762.1 L1505.7,1778.6 L1513.4,1764.6 L1518.5,1792.6 L1528.6,1802.8 L1533.7,1764.6 L1538.1,1791.4 L1544.7,1753.2 L1549.0,1765.9 L1555.4,1749.4 L1557.9,1753.2 L1563.0,1791.4 L1568.1,1777.4 L1573.7,1792.6 L1577.7,1786.3 L1582.1,1771.8 L1585.9,1788.8 L1592.2,1804.1 L1597.3,1810.4 L1605.1,1789.6 L1610.2,1793.9 L1615.8,1810.9 L1620.4,1790.6 L1625.4,1806.6 L1629.3,1792.1 L1631.8,1796.4 L1636.9,1814.3 L1642.0,1795.2 L1648.3,1772.3 L1652.1,1799.0 L1656.5,1772.8 L1661.1,1783.7 L1664.9,1774.8 L1670.0,1778.6 L1675.0,1765.9 L1677.6,1771.0 L1680.9,1762.6 L1687.0,1809.2 L1691.6,1774.3 L1695.4,1787.5 L1699.2,1787.0 L1703.0,1771.0 L1708.1,1785.0 L1713.2,1801.5 L1718.3,1793.9 L1722.1,1790.1 L1727.2,1781.2 L1733.6,1755.0 L1737.4,1768.5 L1739.9,1751.4 L1743.7,1759.6 L1746.3,1767.2 L1750.1,1750.7 L1753.9,1759.6 L1760.3,1814.3 L1764.1,1797.7 L1767.9,1790.1 L1769.9,1807.9 L1776.8,1761.6 L1781.1,1773.6 L1787.0,1778.6 L1791.3,1752.4 L1795.9,1764.6 L1801.0,1787.5 L1807.3,1790.1 L1813.7,1770.2 L1818.3,1778.6 L1822.6,1772.3 L1830.2,1802.3 L1836.6,1749.4 L1840.4,1751.9 L1848.0,1779.9 L1854.4,1771.0 L1863.3,1801.5 L1873.5,1773.6 L1878.6,1753.2 L1882.9,1716.3 L1886.2,1717.6 L1892.5,1750.7 L1895.1,1769.7 L1898.9,1759.6 L1901.4,1772.3 L1905.3,1751.9 L1909.1,1759.6 L1915.4,1800.3 L1922.6,1759.6 L1926.9,1765.9 L1932.0,1740.5 L1938.3,1766.7 L1944.7,1762.1 L1951.1,1755.7 L1956.1,1744.3 L1965.0,1785.0 L1970.1,1774.8 L1975.2,1786.3 L1981.6,1793.9 L1982.9,1809.2 L1986.7,1791.4 L1990.5,1802.8 L1995.6,1810.4 L2003.2,1771.0 L2008.3,1778.6 L2015.9,1740.5 L2019.2,1762.1 L2024.3,1739.2 L2028.6,1741.8 L2033.7,1724.0 L2037.5,1735.4 L2045.2,1778.6 L2049.0,1776.1 L2054.1,1748.1 L2059.2,1754.5 L2065.5,1755.7 L2070.6,1771.6 L2075.2,1762.1" fill="none" stroke="#0072BD" stroke-width="3.2" stroke-linejoin="round" stroke-linecap="round"/>
<rect x="696.3" y="1130.4" width="367.5" height="225.9" fill="#fff" stroke="none" stroke-width="1"/>
<rect x="705.0" y="1354.8" width="8.2" height="1.5" fill="#66a8d8" stroke="#111" stroke-width="1.3"/>
<rect x="713.1" y="1353.1" width="8.2" height="3.2" fill="#66a8d8" stroke="#111" stroke-width="1.3"/>
<rect x="721.3" y="1353.1" width="8.2" height="3.2" fill="#66a8d8" stroke="#111" stroke-width="1.3"/>
<rect x="729.4" y="1350.1" width="8.2" height="6.2" fill="#66a8d8" stroke="#111" stroke-width="1.3"/>
<rect x="737.6" y="1337.5" width="8.2" height="18.8" fill="#66a8d8" stroke="#111" stroke-width="1.3"/>
<rect x="745.8" y="1316.6" width="8.2" height="39.7" fill="#66a8d8" stroke="#111" stroke-width="1.3"/>
<rect x="753.9" y="1289.5" width="8.2" height="66.8" fill="#66a8d8" stroke="#111" stroke-width="1.3"/>
<rect x="762.1" y="1301.2" width="8.2" height="55.1" fill="#66a8d8" stroke="#111" stroke-width="1.3"/>
<rect x="770.2" y="1290.5" width="8.2" height="65.8" fill="#66a8d8" stroke="#111" stroke-width="1.3"/>
<rect x="778.4" y="1279.6" width="8.2" height="76.7" fill="#66a8d8" stroke="#111" stroke-width="1.3"/>
<rect x="786.6" y="1262.5" width="8.2" height="93.8" fill="#66a8d8" stroke="#111" stroke-width="1.3"/>
<rect x="794.7" y="1223.5" width="8.2" height="132.8" fill="#66a8d8" stroke="#111" stroke-width="1.3"/>
<rect x="802.9" y="1174.1" width="8.2" height="182.2" fill="#66a8d8" stroke="#111" stroke-width="1.3"/>
<rect x="811.0" y="1152.7" width="8.2" height="203.6" fill="#66a8d8" stroke="#111" stroke-width="1.3"/>
<rect x="819.2" y="1155.7" width="8.2" height="200.6" fill="#66a8d8" stroke="#111" stroke-width="1.3"/>
<rect x="827.4" y="1195.3" width="8.2" height="161.0" fill="#66a8d8" stroke="#111" stroke-width="1.3"/>
<rect x="835.5" y="1199.7" width="8.2" height="156.6" fill="#66a8d8" stroke="#111" stroke-width="1.3"/>
<rect x="843.7" y="1201.2" width="8.2" height="155.1" fill="#66a8d8" stroke="#111" stroke-width="1.3"/>
<rect x="851.8" y="1244.2" width="8.2" height="112.1" fill="#66a8d8" stroke="#111" stroke-width="1.3"/>
<rect x="860.0" y="1264.7" width="8.2" height="91.6" fill="#66a8d8" stroke="#111" stroke-width="1.3"/>
<rect x="868.2" y="1294.2" width="8.2" height="62.1" fill="#66a8d8" stroke="#111" stroke-width="1.3"/>
<rect x="876.3" y="1301.2" width="8.2" height="55.1" fill="#66a8d8" stroke="#111" stroke-width="1.3"/>
<rect x="884.5" y="1310.8" width="8.2" height="45.5" fill="#66a8d8" stroke="#111" stroke-width="1.3"/>
<rect x="892.6" y="1310.8" width="8.2" height="45.5" fill="#66a8d8" stroke="#111" stroke-width="1.3"/>
<rect x="900.8" y="1320.5" width="8.2" height="35.8" fill="#66a8d8" stroke="#111" stroke-width="1.3"/>
<rect x="909.0" y="1334.1" width="8.2" height="22.2" fill="#66a8d8" stroke="#111" stroke-width="1.3"/>
<rect x="917.1" y="1345.9" width="8.2" height="10.4" fill="#66a8d8" stroke="#111" stroke-width="1.3"/>
<rect x="925.3" y="1355.1" width="8.2" height="1.2" fill="#66a8d8" stroke="#111" stroke-width="1.3"/>
<rect x="696.3" y="1130.4" width="367.5" height="225.9" fill="none" stroke="#262626" stroke-width="1.6"/>
<line x1="696.3" y1="1321.3" x2="701.3" y2="1321.3" stroke="#262626" stroke-width="1.3"/>
<line x1="1058.8" y1="1321.3" x2="1063.8" y2="1321.3" stroke="#262626" stroke-width="1.3"/>
<text transform="translate(690.5,1330.4) scale(1,1.100)" font-size="24" text-anchor="end" fill="#262626" font-weight="bold">200</text>
<line x1="696.3" y1="1283.7" x2="701.3" y2="1283.7" stroke="#262626" stroke-width="1.3"/>
<line x1="1058.8" y1="1283.7" x2="1063.8" y2="1283.7" stroke="#262626" stroke-width="1.3"/>
<text transform="translate(690.5,1292.8) scale(1,1.100)" font-size="24" text-anchor="end" fill="#262626" font-weight="bold">400</text>
<line x1="696.3" y1="1245.9" x2="701.3" y2="1245.9" stroke="#262626" stroke-width="1.3"/>
<line x1="1058.8" y1="1245.9" x2="1063.8" y2="1245.9" stroke="#262626" stroke-width="1.3"/>
<text transform="translate(690.5,1255.0) scale(1,1.100)" font-size="24" text-anchor="end" fill="#262626" font-weight="bold">600</text>
<line x1="696.3" y1="1208.4" x2="701.3" y2="1208.4" stroke="#262626" stroke-width="1.3"/>
<line x1="1058.8" y1="1208.4" x2="1063.8" y2="1208.4" stroke="#262626" stroke-width="1.3"/>
<text transform="translate(690.5,1217.5) scale(1,1.100)" font-size="24" text-anchor="end" fill="#262626" font-weight="bold">800</text>
<line x1="696.3" y1="1171.0" x2="701.3" y2="1171.0" stroke="#262626" stroke-width="1.3"/>
<line x1="1058.8" y1="1171.0" x2="1063.8" y2="1171.0" stroke="#262626" stroke-width="1.3"/>
<text transform="translate(690.5,1180.1) scale(1,1.100)" font-size="24" text-anchor="end" fill="#262626" font-weight="bold">1000</text>
<line x1="696.3" y1="1133.4" x2="701.3" y2="1133.4" stroke="#262626" stroke-width="1.3"/>
<line x1="1058.8" y1="1133.4" x2="1063.8" y2="1133.4" stroke="#262626" stroke-width="1.3"/>
<text transform="translate(690.5,1142.2) scale(1,1.100)" font-size="24" text-anchor="end" fill="#262626" font-weight="bold">1200</text>
<line x1="737.6" y1="1130.4" x2="737.6" y2="1135.4" stroke="#262626" stroke-width="1.3"/>
<line x1="737.6" y1="1351.3" x2="737.6" y2="1356.3" stroke="#262626" stroke-width="1.3"/>
<text transform="translate(737.6,1384.3) scale(1,1.080)" font-size="24" text-anchor="middle" fill="#262626" font-weight="bold">0</text>
<line x1="819.2" y1="1130.4" x2="819.2" y2="1135.4" stroke="#262626" stroke-width="1.3"/>
<line x1="819.2" y1="1351.3" x2="819.2" y2="1356.3" stroke="#262626" stroke-width="1.3"/>
<text transform="translate(819.2,1384.3) scale(1,1.080)" font-size="24" text-anchor="middle" fill="#262626" font-weight="bold">2</text>
<line x1="900.8" y1="1130.4" x2="900.8" y2="1135.4" stroke="#262626" stroke-width="1.3"/>
<line x1="900.8" y1="1351.3" x2="900.8" y2="1356.3" stroke="#262626" stroke-width="1.3"/>
<text transform="translate(900.8,1384.3) scale(1,1.080)" font-size="24" text-anchor="middle" fill="#262626" font-weight="bold">4</text>
<line x1="982.4" y1="1130.4" x2="982.4" y2="1135.4" stroke="#262626" stroke-width="1.3"/>
<line x1="982.4" y1="1351.3" x2="982.4" y2="1356.3" stroke="#262626" stroke-width="1.3"/>
<text transform="translate(982.4,1384.3) scale(1,1.080)" font-size="24" text-anchor="middle" fill="#262626" font-weight="bold">6</text>
<text transform="translate(1064.0,1384.3) scale(1,1.080)" font-size="24" text-anchor="middle" fill="#262626" font-weight="bold">8</text>
<text x="642.3" y="1112.8" font-size="24" text-anchor="start" fill="#262626" font-weight="bold">Number of pixel</text>
<text x="821.9" y="1411.0" font-size="24" text-anchor="start" fill="#262626" font-weight="bold">Motion [µm]</text>
<rect x="698.0" y="1568.2" width="367.3" height="232.5" fill="#fff" stroke="none" stroke-width="1"/>
<rect x="697.8" y="1797.6" width="8.2" height="3.1" fill="#66a8d8" stroke="#111" stroke-width="1.3"/>
<rect x="705.9" y="1796.7" width="8.2" height="4.0" fill="#66a8d8" stroke="#111" stroke-width="1.3"/>
<rect x="714.1" y="1794.3" width="8.2" height="6.4" fill="#66a8d8" stroke="#111" stroke-width="1.3"/>
<rect x="722.3" y="1793.1" width="8.2" height="7.6" fill="#66a8d8" stroke="#111" stroke-width="1.3"/>
<rect x="730.4" y="1785.7" width="8.2" height="15.0" fill="#66a8d8" stroke="#111" stroke-width="1.3"/>
<rect x="738.6" y="1775.0" width="8.2" height="25.7" fill="#66a8d8" stroke="#111" stroke-width="1.3"/>
<rect x="746.8" y="1747.8" width="8.2" height="52.9" fill="#66a8d8" stroke="#111" stroke-width="1.3"/>
<rect x="754.9" y="1730.3" width="8.2" height="70.4" fill="#66a8d8" stroke="#111" stroke-width="1.3"/>
<rect x="763.1" y="1725.8" width="8.2" height="74.9" fill="#66a8d8" stroke="#111" stroke-width="1.3"/>
<rect x="771.3" y="1687.4" width="8.2" height="113.3" fill="#66a8d8" stroke="#111" stroke-width="1.3"/>
<rect x="779.5" y="1653.1" width="8.2" height="147.6" fill="#66a8d8" stroke="#111" stroke-width="1.3"/>
<rect x="787.6" y="1600.6" width="8.2" height="200.1" fill="#66a8d8" stroke="#111" stroke-width="1.3"/>
<rect x="795.8" y="1577.3" width="8.2" height="223.4" fill="#66a8d8" stroke="#111" stroke-width="1.3"/>
<rect x="804.0" y="1579.7" width="8.2" height="221.0" fill="#66a8d8" stroke="#111" stroke-width="1.3"/>
<rect x="812.1" y="1612.4" width="8.2" height="188.3" fill="#66a8d8" stroke="#111" stroke-width="1.3"/>
<rect x="820.3" y="1653.1" width="8.2" height="147.6" fill="#66a8d8" stroke="#111" stroke-width="1.3"/>
<rect x="828.5" y="1709.6" width="8.2" height="91.1" fill="#66a8d8" stroke="#111" stroke-width="1.3"/>
<rect x="836.6" y="1733.0" width="8.2" height="67.7" fill="#66a8d8" stroke="#111" stroke-width="1.3"/>
<rect x="844.8" y="1758.7" width="8.2" height="42.0" fill="#66a8d8" stroke="#111" stroke-width="1.3"/>
<rect x="853.0" y="1764.3" width="8.2" height="36.4" fill="#66a8d8" stroke="#111" stroke-width="1.3"/>
<rect x="861.2" y="1770.2" width="8.2" height="30.5" fill="#66a8d8" stroke="#111" stroke-width="1.3"/>
<rect x="869.3" y="1786.6" width="8.2" height="14.1" fill="#66a8d8" stroke="#111" stroke-width="1.3"/>
<rect x="877.5" y="1793.6" width="8.2" height="7.1" fill="#66a8d8" stroke="#111" stroke-width="1.3"/>
<rect x="885.7" y="1799.5" width="8.2" height="1.2" fill="#66a8d8" stroke="#111" stroke-width="1.3"/>
<rect x="893.8" y="1799.5" width="8.2" height="1.2" fill="#66a8d8" stroke="#111" stroke-width="1.3"/>
<rect x="902.0" y="1800.2" width="8.2" height="0.5" fill="#66a8d8" stroke="#111" stroke-width="1.3"/>
<rect x="910.2" y="1800.4" width="8.2" height="0.3" fill="#66a8d8" stroke="#111" stroke-width="1.3"/>
<rect x="918.3" y="1800.4" width="8.2" height="0.3" fill="#66a8d8" stroke="#111" stroke-width="1.3"/>
<rect x="926.5" y="1800.5" width="8.2" height="0.2" fill="#66a8d8" stroke="#111" stroke-width="1.3"/>
<rect x="698.0" y="1568.2" width="367.3" height="232.5" fill="none" stroke="#262626" stroke-width="1.6"/>
<line x1="698.0" y1="1800.7" x2="703.0" y2="1800.7" stroke="#262626" stroke-width="1.3"/>
<line x1="1060.3" y1="1800.7" x2="1065.3" y2="1800.7" stroke="#262626" stroke-width="1.3"/>
<text transform="translate(691.5,1808.7) scale(1,1.100)" font-size="24" text-anchor="end" fill="#262626" font-weight="bold">0</text>
<line x1="698.0" y1="1723.2" x2="703.0" y2="1723.2" stroke="#262626" stroke-width="1.3"/>
<line x1="1060.3" y1="1723.2" x2="1065.3" y2="1723.2" stroke="#262626" stroke-width="1.3"/>
<text transform="translate(691.5,1731.7) scale(1,1.100)" font-size="24" text-anchor="end" fill="#262626" font-weight="bold">500</text>
<line x1="698.0" y1="1645.8" x2="703.0" y2="1645.8" stroke="#262626" stroke-width="1.3"/>
<line x1="1060.3" y1="1645.8" x2="1065.3" y2="1645.8" stroke="#262626" stroke-width="1.3"/>
<text transform="translate(691.5,1654.1) scale(1,1.100)" font-size="24" text-anchor="end" fill="#262626" font-weight="bold">1000</text>
<line x1="698.0" y1="1568.3" x2="703.0" y2="1568.3" stroke="#262626" stroke-width="1.3"/>
<line x1="1060.3" y1="1568.3" x2="1065.3" y2="1568.3" stroke="#262626" stroke-width="1.3"/>
<text transform="translate(691.5,1576.5) scale(1,1.100)" font-size="24" text-anchor="end" fill="#262626" font-weight="bold">1500</text>
<line x1="738.6" y1="1568.2" x2="738.6" y2="1573.2" stroke="#262626" stroke-width="1.3"/>
<line x1="738.6" y1="1795.7" x2="738.6" y2="1800.7" stroke="#262626" stroke-width="1.3"/>
<text transform="translate(738.6,1825.5) scale(1,1.080)" font-size="24" text-anchor="middle" fill="#262626" font-weight="bold">0</text>
<line x1="820.3" y1="1568.2" x2="820.3" y2="1573.2" stroke="#262626" stroke-width="1.3"/>
<line x1="820.3" y1="1795.7" x2="820.3" y2="1800.7" stroke="#262626" stroke-width="1.3"/>
<text transform="translate(820.3,1825.5) scale(1,1.080)" font-size="24" text-anchor="middle" fill="#262626" font-weight="bold">2</text>
<line x1="902.0" y1="1568.2" x2="902.0" y2="1573.2" stroke="#262626" stroke-width="1.3"/>
<line x1="902.0" y1="1795.7" x2="902.0" y2="1800.7" stroke="#262626" stroke-width="1.3"/>
<text transform="translate(902.0,1825.5) scale(1,1.080)" font-size="24" text-anchor="middle" fill="#262626" font-weight="bold">4</text>
<line x1="983.7" y1="1568.2" x2="983.7" y2="1573.2" stroke="#262626" stroke-width="1.3"/>
<line x1="983.7" y1="1795.7" x2="983.7" y2="1800.7" stroke="#262626" stroke-width="1.3"/>
<text transform="translate(983.7,1825.5) scale(1,1.080)" font-size="24" text-anchor="middle" fill="#262626" font-weight="bold">6</text>
<text transform="translate(1065.4,1825.5) scale(1,1.080)" font-size="24" text-anchor="middle" fill="#262626" font-weight="bold">8</text>
<text x="632.4" y="1548.5" font-size="24" text-anchor="start" fill="#262626" font-weight="bold">Number of pixel</text>
<text x="813.3" y="1856.0" font-size="24" text-anchor="start" fill="#262626" font-weight="bold">Motion [µm]</text>
<text x="429.1" y="1018.6" font-size="30.1" text-anchor="start" fill="#108010" font-weight="bold">Respiration cycle</text>
<text x="588.5" y="1066.5" font-size="24" text-anchor="end" fill="#262626" font-weight="bold">Motion [µm]</text>
<defs><linearGradient id="pcF" x1="0" y1="0" x2="0" y2="1"><stop offset="0.000" stop-color="rgb(249, 251, 21)"/><stop offset="0.071" stop-color="rgb(248, 214, 38)"/><stop offset="0.143" stop-color="rgb(250, 187, 57)"/><stop offset="0.214" stop-color="rgb(205, 186, 48)"/><stop offset="0.286" stop-color="rgb(154, 199, 74)"/><stop offset="0.357" stop-color="rgb(95, 203, 120)"/><stop offset="0.429" stop-color="rgb(42, 200, 160)"/><stop offset="0.500" stop-color="rgb(9, 191, 192)"/><stop offset="0.571" stop-color="rgb(24, 177, 216)"/><stop offset="0.643" stop-color="rgb(36, 157, 232)"/><stop offset="0.714" stop-color="rgb(44, 135, 247)"/><stop offset="0.786" stop-color="rgb(62, 107, 252)"/><stop offset="0.857" stop-color="rgb(71, 80, 237)"/><stop offset="0.929" stop-color="rgb(70, 55, 205)"/><stop offset="1.000" stop-color="rgb(62, 38, 168)"/></linearGradient></defs>
<rect x="568.1" y="1080.7" width="17.3" height="347.6" fill="url(#pcF)" stroke="#555" stroke-width="1"/>
<text transform="translate(591.0,1088.0) scale(1,1.060)" font-size="24.3" text-anchor="start" fill="#262626" font-weight="bold">8</text>
<text transform="translate(591.0,1174.9) scale(1,1.060)" font-size="24.3" text-anchor="start" fill="#262626" font-weight="bold">6</text>
<text transform="translate(591.0,1261.8) scale(1,1.060)" font-size="24.3" text-anchor="start" fill="#262626" font-weight="bold">4</text>
<text transform="translate(591.0,1348.7) scale(1,1.060)" font-size="24.3" text-anchor="start" fill="#262626" font-weight="bold">2</text>
<text transform="translate(591.0,1435.6) scale(1,1.060)" font-size="24.3" text-anchor="start" fill="#262626" font-weight="bold">0</text>
<text x="478.6" y="1468.5" font-size="30.1" text-anchor="start" fill="#e00000" font-weight="bold">Cardiac cycle</text>
<text x="584.0" y="1503.4" font-size="24" text-anchor="end" fill="#262626" font-weight="bold">Motion [µm]</text>
<defs><linearGradient id="pcH" x1="0" y1="0" x2="0" y2="1"><stop offset="0.000" stop-color="rgb(249, 251, 21)"/><stop offset="0.071" stop-color="rgb(248, 214, 38)"/><stop offset="0.143" stop-color="rgb(250, 187, 57)"/><stop offset="0.214" stop-color="rgb(205, 186, 48)"/><stop offset="0.286" stop-color="rgb(154, 199, 74)"/><stop offset="0.357" stop-color="rgb(95, 203, 120)"/><stop offset="0.429" stop-color="rgb(42, 200, 160)"/><stop offset="0.500" stop-color="rgb(9, 191, 192)"/><stop offset="0.571" stop-color="rgb(24, 177, 216)"/><stop offset="0.643" stop-color="rgb(36, 157, 232)"/><stop offset="0.714" stop-color="rgb(44, 135, 247)"/><stop offset="0.786" stop-color="rgb(62, 107, 252)"/><stop offset="0.857" stop-color="rgb(71, 80, 237)"/><stop offset="0.929" stop-color="rgb(70, 55, 205)"/><stop offset="1.000" stop-color="rgb(62, 38, 168)"/></linearGradient></defs>
<rect x="568.7" y="1515.5" width="16.7" height="347.9" fill="url(#pcH)" stroke="#555" stroke-width="1"/>
<text transform="translate(591.0,1522.8) scale(1,1.060)" font-size="24.3" text-anchor="start" fill="#262626" font-weight="bold">8</text>
<text transform="translate(591.0,1609.8) scale(1,1.060)" font-size="24.3" text-anchor="start" fill="#262626" font-weight="bold">6</text>
<text transform="translate(591.0,1696.8) scale(1,1.060)" font-size="24.3" text-anchor="start" fill="#262626" font-weight="bold">4</text>
<text transform="translate(591.0,1783.7) scale(1,1.060)" font-size="24.3" text-anchor="start" fill="#262626" font-weight="bold">2</text>
<text transform="translate(591.0,1870.7) scale(1,1.060)" font-size="24.3" text-anchor="start" fill="#262626" font-weight="bold">0</text>
<defs><clipPath id="clipA"><rect x="23.5" y="110.8" width="416" height="414.8"/></clipPath><clipPath id="clipC"><rect x="1055.9" y="110.9" width="418.4" height="418.4"/></clipPath><filter id="b1" x="-20%" y="-20%" width="140%" height="140%"><feGaussianBlur stdDeviation="1.4"/></filter><filter id="b2" x="-20%" y="-20%" width="140%" height="140%"><feGaussianBlur stdDeviation="2.2"/></filter><filter id="b3" x="-20%" y="-20%" width="140%" height="140%"><feGaussianBlur stdDeviation="3"/></filter><filter id="b8" x="-30%" y="-30%" width="160%" height="160%"><feGaussianBlur stdDeviation="8"/></filter><filter id="b15" x="-30%" y="-30%" width="160%" height="160%"><feGaussianBlur stdDeviation="16"/></filter></defs>
<g clip-path="url(#clipA)">
<rect x="23.5" y="110.8" width="416.0" height="414.8" fill="#02021e" stroke="none" stroke-width="1"/>
<g filter="url(#b15)">
<path d="M23,300 L60,330 L110,380 L140,330 L200,330 L240,380 L260,420 L230,470 L200,530 L23,530 Z" fill="#4a0404"/>
<path d="M150,430 L240,400 L300,420 L330,470 L300,530 L150,530 Z" fill="#420404"/>
<path d="M230,200 L330,200 L440,250 L440,420 L380,400 L330,330 L280,300 L240,280 Z" fill="#000a80"/>
<path d="M23,130 L60,130 L70,250 L40,330 L23,330 Z" fill="#000a90"/>
<path d="M280,330 L400,330 L400,400 L330,420 L290,400 Z" fill="#0010b0"/>
<path d="M380,420 L440,400 L440,530 L330,530 Z" fill="#000880"/>
<path d="M90,240 L140,230 L150,300 L110,330 Z" fill="#3a0404"/>
</g>
<path d="M150,140 L200,160 L260,175 L330,190 L400,215 L440,245 L440,300 L400,280 L350,250 L300,235 L240,215 L160,180 Z" fill="#143a66" opacity="0.6" filter="url(#b8)"/>
<g filter="url(#b1)">
<path d="M222,106 L444,106 L444,212 L414.7,202.4 L391.6,190.8 L368.5,177 L345.4,167.7 L322.4,156.2 L299.3,144.6 L276.2,133.1 L253.1,123.9 L230,116.9 Z" fill="#000"/>
<path d="M266.0,170.0 C264.0,176.7 257.8,197.5 254.0,210.0 C250.2,222.5 246.7,234.7 243.0,245.0 C239.3,255.3 235.8,264.5 232.0,272.0 C228.2,279.5 223.1,285.2 220.0,290.0 C216.9,294.8 216.0,295.5 213.5,300.5 C211.0,305.5 208.1,313.8 205.0,320.0 C201.9,326.2 198.4,331.0 195.0,338.0 C191.6,345.0 189.2,351.4 184.6,362.2 C180.0,373.0 173.1,389.1 167.3,402.6 C161.5,416.1 155.8,429.5 150.0,443.0 C144.2,456.5 137.5,471.8 132.7,483.4 C127.9,494.9 124.0,504.2 121.1,512.3 C118.2,520.4 116.4,528.7 115.4,532.0" fill="none" stroke="#000010" stroke-width="28" stroke-linecap="round" stroke-linejoin="round" opacity="0.85"/>
<path d="M266.0,170.0 C264.0,176.7 257.8,197.5 254.0,210.0 C250.2,222.5 246.7,234.7 243.0,245.0 C239.3,255.3 235.8,264.5 232.0,272.0 C228.2,279.5 223.1,285.2 220.0,290.0 C216.9,294.8 216.0,295.5 213.5,300.5 C211.0,305.5 208.1,313.8 205.0,320.0 C201.9,326.2 198.4,331.0 195.0,338.0 C191.6,345.0 189.2,351.4 184.6,362.2 C180.0,373.0 173.1,389.1 167.3,402.6 C161.5,416.1 155.8,429.5 150.0,443.0 C144.2,456.5 137.5,471.8 132.7,483.4 C127.9,494.9 124.0,504.2 121.1,512.3 C118.2,520.4 116.4,528.7 115.4,532.0" fill="none" stroke="#0040f0" stroke-width="24" stroke-linecap="round" stroke-linejoin="round" opacity="1"/>
<path d="M266.0,170.0 C264.0,176.7 257.8,197.5 254.0,210.0 C250.2,222.5 246.7,234.7 243.0,245.0 C239.3,255.3 235.8,264.5 232.0,272.0 C228.2,279.5 223.1,285.2 220.0,290.0 C216.9,294.8 216.0,295.5 213.5,300.5 C211.0,305.5 208.1,313.8 205.0,320.0 C201.9,326.2 198.4,331.0 195.0,338.0 C191.6,345.0 189.2,351.4 184.6,362.2 C180.0,373.0 173.1,389.1 167.3,402.6 C161.5,416.1 155.8,429.5 150.0,443.0 C144.2,456.5 137.5,471.8 132.7,483.4 C127.9,494.9 124.0,504.2 121.1,512.3 C118.2,520.4 116.4,528.7 115.4,532.0" fill="none" stroke="#00c0ff" stroke-width="14.3" stroke-linecap="round" stroke-linejoin="round" opacity="1"/>
<path d="M266.0,170.0 C264.0,176.7 257.8,197.5 254.0,210.0 C250.2,222.5 246.7,234.7 243.0,245.0 C239.3,255.3 235.8,264.5 232.0,272.0 C228.2,279.5 223.1,285.2 220.0,290.0 C216.9,294.8 216.0,295.5 213.5,300.5 C211.0,305.5 208.1,313.8 205.0,320.0 C201.9,326.2 198.4,331.0 195.0,338.0 C191.6,345.0 189.2,351.4 184.6,362.2 C180.0,373.0 173.1,389.1 167.3,402.6 C161.5,416.1 155.8,429.5 150.0,443.0 C144.2,456.5 137.5,471.8 132.7,483.4 C127.9,494.9 124.0,504.2 121.1,512.3 C118.2,520.4 116.4,528.7 115.4,532.0" fill="none" stroke="#40f4ff" stroke-width="6.6" stroke-linecap="round" stroke-linejoin="round" opacity="1"/>
<path d="M248,165 L285,178 L262,215 L248,205 Z" fill="#10d8ff"/>
<path d="M55,106 L222,106 L230,116.9 L253.1,123.9 L276.2,133.1 L299.3,144.6 L322.4,156.2 L345.4,167.7 L368.5,177 L391.6,190.8 L414.7,202.4 L444,214 L444,256 L426.3,240 L403.2,226 L380.1,210 L357,197 L333.9,186 L299.3,182 L272,176 L253.1,163 L230,159 L200,157 L184.6,156.5 L165,145 L150,134 L120,125 L92.3,118 L60,115 Z" fill="#00e4ff"/>
<path d="M120,110 L222,110 L240,122 L276,138 L322,162 L368,183 L414,208 L444,222 L444,232 L410,214 L360,192 L320,176 L276,162 L240,150 L200,140 L160,126 Z" fill="#8cfcff" opacity="0.85"/>
<path d="M61.0,108.0 C61.0,110.2 62.1,113.5 61.1,121.5 C60.1,129.5 57.8,144.6 55.3,156.2 C52.8,167.8 49.2,179.3 46.1,190.8 C43.0,202.3 39.6,213.9 36.9,225.4 C34.2,236.9 31.8,248.4 29.9,260.0 C28.0,271.6 26.4,284.7 25.3,294.7 C24.2,304.7 23.4,315.8 23.0,320.0" fill="none" stroke="#000010" stroke-width="24" stroke-linecap="round" stroke-linejoin="round" opacity="0.85"/>
<path d="M61.0,108.0 C61.0,110.2 62.1,113.5 61.1,121.5 C60.1,129.5 57.8,144.6 55.3,156.2 C52.8,167.8 49.2,179.3 46.1,190.8 C43.0,202.3 39.6,213.9 36.9,225.4 C34.2,236.9 31.8,248.4 29.9,260.0 C28.0,271.6 26.4,284.7 25.3,294.7 C24.2,304.7 23.4,315.8 23.0,320.0" fill="none" stroke="#0018b0" stroke-width="20" stroke-linecap="round" stroke-linejoin="round" opacity="1"/>
<path d="M61.0,108.0 C61.0,110.2 62.1,113.5 61.1,121.5 C60.1,129.5 57.8,144.6 55.3,156.2 C52.8,167.8 49.2,179.3 46.1,190.8 C43.0,202.3 39.6,213.9 36.9,225.4 C34.2,236.9 31.8,248.4 29.9,260.0 C28.0,271.6 26.4,284.7 25.3,294.7 C24.2,304.7 23.4,315.8 23.0,320.0" fill="none" stroke="#0040ff" stroke-width="11.700000000000001" stroke-linecap="round" stroke-linejoin="round" opacity="1"/>
<path d="M182.0,165.0 C181.5,166.4 181.3,167.3 178.9,173.5 C176.5,179.7 171.2,191.8 167.3,202.4 C163.5,213.0 159.7,225.5 155.8,237.0 C152.0,248.5 148.0,260.1 144.2,271.6 C140.3,283.2 136.5,298.9 132.7,306.3 C128.8,313.7 124.9,309.6 121.1,316.0 C117.2,322.4 113.4,333.3 109.6,344.9 C105.8,356.4 102.8,372.8 98.0,385.3 C93.2,397.8 85.5,409.3 80.7,419.9 C75.9,430.5 72.1,441.1 69.2,448.8 C66.3,456.5 65.3,461.3 63.4,466.1 C61.5,470.9 58.6,475.7 57.6,477.6" fill="none" stroke="#000010" stroke-width="19" stroke-linecap="round" stroke-linejoin="round" opacity="0.85"/>
<path d="M182.0,165.0 C181.5,166.4 181.3,167.3 178.9,173.5 C176.5,179.7 171.2,191.8 167.3,202.4 C163.5,213.0 159.7,225.5 155.8,237.0 C152.0,248.5 148.0,260.1 144.2,271.6 C140.3,283.2 136.5,298.9 132.7,306.3 C128.8,313.7 124.9,309.6 121.1,316.0 C117.2,322.4 113.4,333.3 109.6,344.9 C105.8,356.4 102.8,372.8 98.0,385.3 C93.2,397.8 85.5,409.3 80.7,419.9 C75.9,430.5 72.1,441.1 69.2,448.8 C66.3,456.5 65.3,461.3 63.4,466.1 C61.5,470.9 58.6,475.7 57.6,477.6" fill="none" stroke="#0020c0" stroke-width="15" stroke-linecap="round" stroke-linejoin="round" opacity="1"/>
<path d="M182.0,165.0 C181.5,166.4 181.3,167.3 178.9,173.5 C176.5,179.7 171.2,191.8 167.3,202.4 C163.5,213.0 159.7,225.5 155.8,237.0 C152.0,248.5 148.0,260.1 144.2,271.6 C140.3,283.2 136.5,298.9 132.7,306.3 C128.8,313.7 124.9,309.6 121.1,316.0 C117.2,322.4 113.4,333.3 109.6,344.9 C105.8,356.4 102.8,372.8 98.0,385.3 C93.2,397.8 85.5,409.3 80.7,419.9 C75.9,430.5 72.1,441.1 69.2,448.8 C66.3,456.5 65.3,461.3 63.4,466.1 C61.5,470.9 58.6,475.7 57.6,477.6" fill="none" stroke="#0050ff" stroke-width="8.450000000000001" stroke-linecap="round" stroke-linejoin="round" opacity="1"/>
<path d="M182.0,168.0 C180.0,172.5 173.7,185.5 170.0,195.0 C166.3,204.5 161.7,220.0 160.0,225.0" fill="none" stroke="#10a0ff" stroke-width="5" stroke-linecap="round" stroke-linejoin="round" opacity="1"/>
<ellipse cx="70" cy="470" rx="17" ry="9" fill="#0030d0"/>
<path d="M444.0,415.0 C440.1,420.6 428.3,439.3 420.5,448.8 C412.7,458.3 405.1,464.2 397.4,471.9 C389.7,479.6 382.0,484.9 374.3,494.9 C366.6,504.9 355.1,525.8 351.2,532.0" fill="none" stroke="#000010" stroke-width="30" stroke-linecap="round" stroke-linejoin="round" opacity="0.85"/>
<path d="M444.0,415.0 C440.1,420.6 428.3,439.3 420.5,448.8 C412.7,458.3 405.1,464.2 397.4,471.9 C389.7,479.6 382.0,484.9 374.3,494.9 C366.6,504.9 355.1,525.8 351.2,532.0" fill="none" stroke="#0020c0" stroke-width="26" stroke-linecap="round" stroke-linejoin="round" opacity="1"/>
<path d="M444.0,415.0 C440.1,420.6 428.3,439.3 420.5,448.8 C412.7,458.3 405.1,464.2 397.4,471.9 C389.7,479.6 382.0,484.9 374.3,494.9 C366.6,504.9 355.1,525.8 351.2,532.0" fill="none" stroke="#0060ff" stroke-width="15.600000000000001" stroke-linecap="round" stroke-linejoin="round" opacity="1"/>
<path d="M444.0,415.0 C440.1,420.6 428.3,439.3 420.5,448.8 C412.7,458.3 405.1,464.2 397.4,471.9 C389.7,479.6 382.0,484.9 374.3,494.9 C366.6,504.9 355.1,525.8 351.2,532.0" fill="none" stroke="#20c8ff" stroke-width="7.199999999999999" stroke-linecap="round" stroke-linejoin="round" opacity="1"/>
<path d="M312.0,206.0 C310.5,210.0 306.3,221.3 303.0,230.0 C299.7,238.7 295.8,248.8 292.0,258.0 C288.2,267.2 285.0,274.7 280.0,285.0 C275.0,295.3 267.0,310.8 262.0,320.0 C257.0,329.2 252.0,336.7 250.0,340.0" fill="none" stroke="#000010" stroke-width="17" stroke-linecap="round" stroke-linejoin="round" opacity="0.85"/>
<path d="M312.0,206.0 C310.5,210.0 306.3,221.3 303.0,230.0 C299.7,238.7 295.8,248.8 292.0,258.0 C288.2,267.2 285.0,274.7 280.0,285.0 C275.0,295.3 267.0,310.8 262.0,320.0 C257.0,329.2 252.0,336.7 250.0,340.0" fill="none" stroke="#0010a0" stroke-width="13" stroke-linecap="round" stroke-linejoin="round" opacity="1"/>
<path d="M312.0,206.0 C310.5,210.0 306.3,221.3 303.0,230.0 C299.7,238.7 295.8,248.8 292.0,258.0 C288.2,267.2 285.0,274.7 280.0,285.0 C275.0,295.3 267.0,310.8 262.0,320.0 C257.0,329.2 252.0,336.7 250.0,340.0" fill="none" stroke="#0040f0" stroke-width="7.15" stroke-linecap="round" stroke-linejoin="round" opacity="1"/>
<path d="M400.0,236.0 C398.3,240.3 393.7,253.0 390.0,262.0 C386.3,271.0 382.2,280.7 378.0,290.0 C373.8,299.3 369.7,308.8 365.0,318.0 C360.3,327.2 352.5,340.5 350.0,345.0" fill="none" stroke="#000010" stroke-width="18" stroke-linecap="round" stroke-linejoin="round" opacity="0.85"/>
<path d="M400.0,236.0 C398.3,240.3 393.7,253.0 390.0,262.0 C386.3,271.0 382.2,280.7 378.0,290.0 C373.8,299.3 369.7,308.8 365.0,318.0 C360.3,327.2 352.5,340.5 350.0,345.0" fill="none" stroke="#0010a0" stroke-width="14" stroke-linecap="round" stroke-linejoin="round" opacity="1"/>
<path d="M400.0,236.0 C398.3,240.3 393.7,253.0 390.0,262.0 C386.3,271.0 382.2,280.7 378.0,290.0 C373.8,299.3 369.7,308.8 365.0,318.0 C360.3,327.2 352.5,340.5 350.0,345.0" fill="none" stroke="#0038e0" stroke-width="7.800000000000001" stroke-linecap="round" stroke-linejoin="round" opacity="1"/>
<ellipse cx="345" cy="345" rx="40" ry="22" fill="#0038e8" transform="rotate(-40 345 345)"/>
<path d="M362.0,380.0 C360.0,383.0 353.7,393.3 350.0,398.0 C346.3,402.7 342.4,404.4 339.7,408.4 C337.0,412.4 334.9,419.7 333.9,422.0" fill="none" stroke="#000010" stroke-width="14" stroke-linecap="round" stroke-linejoin="round" opacity="0.85"/>
<path d="M362.0,380.0 C360.0,383.0 353.7,393.3 350.0,398.0 C346.3,402.7 342.4,404.4 339.7,408.4 C337.0,412.4 334.9,419.7 333.9,422.0" fill="none" stroke="#0030d0" stroke-width="10" stroke-linecap="round" stroke-linejoin="round" opacity="1"/>
<path d="M362.0,380.0 C360.0,383.0 353.7,393.3 350.0,398.0 C346.3,402.7 342.4,404.4 339.7,408.4 C337.0,412.4 334.9,419.7 333.9,422.0" fill="none" stroke="#1070ff" stroke-width="5.2" stroke-linecap="round" stroke-linejoin="round" opacity="1"/>
<path d="M293.5,402.6 C294.5,407.4 296.8,424.7 299.3,431.4 C301.8,438.1 307.0,441.1 308.5,443.0" fill="none" stroke="#1060ff" stroke-width="5" stroke-linecap="round" stroke-linejoin="round" opacity="1"/>
<path d="M231.0,395.0 C231.8,397.5 234.5,405.8 236.0,410.0 C237.5,414.2 239.3,418.3 240.0,420.0" fill="none" stroke="#000010" stroke-width="14" stroke-linecap="round" stroke-linejoin="round" opacity="0.85"/>
<path d="M231.0,395.0 C231.8,397.5 234.5,405.8 236.0,410.0 C237.5,414.2 239.3,418.3 240.0,420.0" fill="none" stroke="#0010a0" stroke-width="10" stroke-linecap="round" stroke-linejoin="round" opacity="1"/>
<path d="M231.0,395.0 C231.8,397.5 234.5,405.8 236.0,410.0 C237.5,414.2 239.3,418.3 240.0,420.0" fill="none" stroke="#0040f0" stroke-width="5.2" stroke-linecap="round" stroke-linejoin="round" opacity="1"/>
<path d="M83.0,165.4 C82.2,167.7 80.7,171.2 78.4,179.3 C76.1,187.4 72.7,202.4 69.2,213.9 C65.7,225.4 61.5,236.9 57.6,248.5 C53.8,260.1 49.4,271.6 46.1,283.2 C42.8,294.8 39.4,312.0 38.0,317.8" fill="none" stroke="#100000" stroke-width="13" stroke-linecap="round" stroke-linejoin="round" opacity="0.8"/>
<path d="M83.0,165.4 C82.2,167.7 80.7,171.2 78.4,179.3 C76.1,187.4 72.7,202.4 69.2,213.9 C65.7,225.4 61.5,236.9 57.6,248.5 C53.8,260.1 49.4,271.6 46.1,283.2 C42.8,294.8 39.4,312.0 38.0,317.8" fill="none" stroke="#c81400" stroke-width="9" stroke-linecap="round" stroke-linejoin="round" opacity="1"/>
<path d="M83.0,165.4 C82.2,167.7 80.7,171.2 78.4,179.3 C76.1,187.4 72.7,202.4 69.2,213.9 C65.7,225.4 61.5,236.9 57.6,248.5 C53.8,260.1 49.4,271.6 46.1,283.2 C42.8,294.8 39.4,312.0 38.0,317.8" fill="none" stroke="#ff4a10" stroke-width="3.6" stroke-linecap="round" stroke-linejoin="round" opacity="1"/>
<path d="M25.0,410.0 C26.2,413.3 30.2,422.5 32.0,430.0 C33.8,437.5 36.3,446.7 36.0,455.0 C35.7,463.3 31.0,475.8 30.0,480.0" fill="none" stroke="#100000" stroke-width="12" stroke-linecap="round" stroke-linejoin="round" opacity="0.8"/>
<path d="M25.0,410.0 C26.2,413.3 30.2,422.5 32.0,430.0 C33.8,437.5 36.3,446.7 36.0,455.0 C35.7,463.3 31.0,475.8 30.0,480.0" fill="none" stroke="#c81400" stroke-width="8" stroke-linecap="round" stroke-linejoin="round" opacity="1"/>
<path d="M25.0,410.0 C26.2,413.3 30.2,422.5 32.0,430.0 C33.8,437.5 36.3,446.7 36.0,455.0 C35.7,463.3 31.0,475.8 30.0,480.0" fill="none" stroke="#ff4a10" stroke-width="3.2" stroke-linecap="round" stroke-linejoin="round" opacity="1"/>
<path d="M40.0,470.0 C43.3,472.5 52.5,480.0 60.0,485.0 C67.5,490.0 78.3,496.2 85.0,500.0 C91.7,503.8 97.5,506.7 100.0,508.0" fill="none" stroke="#100000" stroke-width="11" stroke-linecap="round" stroke-linejoin="round" opacity="0.8"/>
<path d="M40.0,470.0 C43.3,472.5 52.5,480.0 60.0,485.0 C67.5,490.0 78.3,496.2 85.0,500.0 C91.7,503.8 97.5,506.7 100.0,508.0" fill="none" stroke="#c81400" stroke-width="7" stroke-linecap="round" stroke-linejoin="round" opacity="1"/>
<path d="M40.0,470.0 C43.3,472.5 52.5,480.0 60.0,485.0 C67.5,490.0 78.3,496.2 85.0,500.0 C91.7,503.8 97.5,506.7 100.0,508.0" fill="none" stroke="#ff4a10" stroke-width="2.8000000000000003" stroke-linecap="round" stroke-linejoin="round" opacity="1"/>
<path d="M84.0,505.0 C85.8,506.7 91.7,510.8 95.0,515.0 C98.3,519.2 102.5,527.5 104.0,530.0" fill="none" stroke="#100000" stroke-width="13" stroke-linecap="round" stroke-linejoin="round" opacity="0.8"/>
<path d="M84.0,505.0 C85.8,506.7 91.7,510.8 95.0,515.0 C98.3,519.2 102.5,527.5 104.0,530.0" fill="none" stroke="#c81400" stroke-width="9" stroke-linecap="round" stroke-linejoin="round" opacity="1"/>
<path d="M84.0,505.0 C85.8,506.7 91.7,510.8 95.0,515.0 C98.3,519.2 102.5,527.5 104.0,530.0" fill="none" stroke="#ff4a10" stroke-width="3.6" stroke-linecap="round" stroke-linejoin="round" opacity="1"/>
<path d="M100.0,455.0 C101.3,459.2 106.0,472.5 108.0,480.0 C110.0,487.5 111.3,496.7 112.0,500.0" fill="none" stroke="#100000" stroke-width="9" stroke-linecap="round" stroke-linejoin="round" opacity="0.8"/>
<path d="M100.0,455.0 C101.3,459.2 106.0,472.5 108.0,480.0 C110.0,487.5 111.3,496.7 112.0,500.0" fill="none" stroke="#c81400" stroke-width="5" stroke-linecap="round" stroke-linejoin="round" opacity="1"/>
<path d="M100.0,455.0 C101.3,459.2 106.0,472.5 108.0,480.0 C110.0,487.5 111.3,496.7 112.0,500.0" fill="none" stroke="#ff4a10" stroke-width="2.0" stroke-linecap="round" stroke-linejoin="round" opacity="1"/>
<path d="M85.0,395.0 C86.7,397.5 90.8,406.2 95.0,410.0 C99.2,413.8 107.5,416.7 110.0,418.0" fill="none" stroke="#100000" stroke-width="9" stroke-linecap="round" stroke-linejoin="round" opacity="0.8"/>
<path d="M85.0,395.0 C86.7,397.5 90.8,406.2 95.0,410.0 C99.2,413.8 107.5,416.7 110.0,418.0" fill="none" stroke="#c81400" stroke-width="5" stroke-linecap="round" stroke-linejoin="round" opacity="1"/>
<path d="M85.0,395.0 C86.7,397.5 90.8,406.2 95.0,410.0 C99.2,413.8 107.5,416.7 110.0,418.0" fill="none" stroke="#ff4a10" stroke-width="2.0" stroke-linecap="round" stroke-linejoin="round" opacity="1"/>
<path d="M115.0,395.0 C116.8,396.7 121.8,401.7 126.0,405.0 C130.2,408.3 136.0,414.5 140.0,415.0 C144.0,415.5 148.3,409.2 150.0,408.0" fill="none" stroke="#100000" stroke-width="10" stroke-linecap="round" stroke-linejoin="round" opacity="0.8"/>
<path d="M115.0,395.0 C116.8,396.7 121.8,401.7 126.0,405.0 C130.2,408.3 136.0,414.5 140.0,415.0 C144.0,415.5 148.3,409.2 150.0,408.0" fill="none" stroke="#c81400" stroke-width="6" stroke-linecap="round" stroke-linejoin="round" opacity="1"/>
<path d="M115.0,395.0 C116.8,396.7 121.8,401.7 126.0,405.0 C130.2,408.3 136.0,414.5 140.0,415.0 C144.0,415.5 148.3,409.2 150.0,408.0" fill="none" stroke="#ff4a10" stroke-width="2.4000000000000004" stroke-linecap="round" stroke-linejoin="round" opacity="1"/>
<path d="M125.0,360.0 C123.8,363.3 120.2,374.2 118.0,380.0 C115.8,385.8 113.0,392.5 112.0,395.0" fill="none" stroke="#100000" stroke-width="9" stroke-linecap="round" stroke-linejoin="round" opacity="0.8"/>
<path d="M125.0,360.0 C123.8,363.3 120.2,374.2 118.0,380.0 C115.8,385.8 113.0,392.5 112.0,395.0" fill="none" stroke="#c81400" stroke-width="5" stroke-linecap="round" stroke-linejoin="round" opacity="1"/>
<path d="M125.0,360.0 C123.8,363.3 120.2,374.2 118.0,380.0 C115.8,385.8 113.0,392.5 112.0,395.0" fill="none" stroke="#ff4a10" stroke-width="2.0" stroke-linecap="round" stroke-linejoin="round" opacity="1"/>
<path d="M160.0,460.0 C161.7,463.3 167.0,473.3 170.0,480.0 C173.0,486.7 174.7,491.7 178.0,500.0 C181.3,508.3 188.0,525.0 190.0,530.0" fill="none" stroke="#100000" stroke-width="10" stroke-linecap="round" stroke-linejoin="round" opacity="0.8"/>
<path d="M160.0,460.0 C161.7,463.3 167.0,473.3 170.0,480.0 C173.0,486.7 174.7,491.7 178.0,500.0 C181.3,508.3 188.0,525.0 190.0,530.0" fill="none" stroke="#c81400" stroke-width="6" stroke-linecap="round" stroke-linejoin="round" opacity="1"/>
<path d="M160.0,460.0 C161.7,463.3 167.0,473.3 170.0,480.0 C173.0,486.7 174.7,491.7 178.0,500.0 C181.3,508.3 188.0,525.0 190.0,530.0" fill="none" stroke="#ff4a10" stroke-width="2.4000000000000004" stroke-linecap="round" stroke-linejoin="round" opacity="1"/>
<path d="M150.0,490.0 C151.7,493.3 157.3,503.3 160.0,510.0 C162.7,516.7 165.0,526.7 166.0,530.0" fill="none" stroke="#100000" stroke-width="9" stroke-linecap="round" stroke-linejoin="round" opacity="0.8"/>
<path d="M150.0,490.0 C151.7,493.3 157.3,503.3 160.0,510.0 C162.7,516.7 165.0,526.7 166.0,530.0" fill="none" stroke="#c81400" stroke-width="5" stroke-linecap="round" stroke-linejoin="round" opacity="1"/>
<path d="M150.0,490.0 C151.7,493.3 157.3,503.3 160.0,510.0 C162.7,516.7 165.0,526.7 166.0,530.0" fill="none" stroke="#ff4a10" stroke-width="2.0" stroke-linecap="round" stroke-linejoin="round" opacity="1"/>
<path d="M60.0,340.0 C61.7,341.7 66.7,349.2 70.0,350.0 C73.3,350.8 78.3,345.8 80.0,345.0" fill="none" stroke="#100000" stroke-width="9" stroke-linecap="round" stroke-linejoin="round" opacity="0.8"/>
<path d="M60.0,340.0 C61.7,341.7 66.7,349.2 70.0,350.0 C73.3,350.8 78.3,345.8 80.0,345.0" fill="none" stroke="#c81400" stroke-width="5" stroke-linecap="round" stroke-linejoin="round" opacity="1"/>
<path d="M60.0,340.0 C61.7,341.7 66.7,349.2 70.0,350.0 C73.3,350.8 78.3,345.8 80.0,345.0" fill="none" stroke="#ff4a10" stroke-width="2.0" stroke-linecap="round" stroke-linejoin="round" opacity="1"/>
<path d="M260.0,420.0 C258.3,425.0 252.3,440.0 250.0,450.0 C247.7,460.0 247.7,471.7 246.0,480.0 C244.3,488.3 241.0,496.7 240.0,500.0" fill="none" stroke="#100000" stroke-width="11" stroke-linecap="round" stroke-linejoin="round" opacity="0.8"/>
<path d="M260.0,420.0 C258.3,425.0 252.3,440.0 250.0,450.0 C247.7,460.0 247.7,471.7 246.0,480.0 C244.3,488.3 241.0,496.7 240.0,500.0" fill="none" stroke="#c81400" stroke-width="7" stroke-linecap="round" stroke-linejoin="round" opacity="1"/>
<path d="M260.0,420.0 C258.3,425.0 252.3,440.0 250.0,450.0 C247.7,460.0 247.7,471.7 246.0,480.0 C244.3,488.3 241.0,496.7 240.0,500.0" fill="none" stroke="#ff4a10" stroke-width="2.8000000000000003" stroke-linecap="round" stroke-linejoin="round" opacity="1"/>
<path d="M300.0,440.0 C302.0,445.0 309.0,460.0 312.0,470.0 C315.0,480.0 316.0,490.0 318.0,500.0 C320.0,510.0 323.0,525.0 324.0,530.0" fill="none" stroke="#100000" stroke-width="10" stroke-linecap="round" stroke-linejoin="round" opacity="0.8"/>
<path d="M300.0,440.0 C302.0,445.0 309.0,460.0 312.0,470.0 C315.0,480.0 316.0,490.0 318.0,500.0 C320.0,510.0 323.0,525.0 324.0,530.0" fill="none" stroke="#c81400" stroke-width="6" stroke-linecap="round" stroke-linejoin="round" opacity="1"/>
<path d="M300.0,440.0 C302.0,445.0 309.0,460.0 312.0,470.0 C315.0,480.0 316.0,490.0 318.0,500.0 C320.0,510.0 323.0,525.0 324.0,530.0" fill="none" stroke="#ff4a10" stroke-width="2.4000000000000004" stroke-linecap="round" stroke-linejoin="round" opacity="1"/>
<path d="M340.0,470.0 C338.3,475.0 333.0,490.0 330.0,500.0 C327.0,510.0 323.3,525.0 322.0,530.0" fill="none" stroke="#100000" stroke-width="10" stroke-linecap="round" stroke-linejoin="round" opacity="0.8"/>
<path d="M340.0,470.0 C338.3,475.0 333.0,490.0 330.0,500.0 C327.0,510.0 323.3,525.0 322.0,530.0" fill="none" stroke="#c81400" stroke-width="6" stroke-linecap="round" stroke-linejoin="round" opacity="1"/>
<path d="M340.0,470.0 C338.3,475.0 333.0,490.0 330.0,500.0 C327.0,510.0 323.3,525.0 322.0,530.0" fill="none" stroke="#ff4a10" stroke-width="2.4000000000000004" stroke-linecap="round" stroke-linejoin="round" opacity="1"/>
<path d="M400.0,400.0 C398.3,403.3 393.3,413.3 390.0,420.0 C386.7,426.7 381.7,436.7 380.0,440.0" fill="none" stroke="#100000" stroke-width="11" stroke-linecap="round" stroke-linejoin="round" opacity="0.8"/>
<path d="M400.0,400.0 C398.3,403.3 393.3,413.3 390.0,420.0 C386.7,426.7 381.7,436.7 380.0,440.0" fill="none" stroke="#c81400" stroke-width="7" stroke-linecap="round" stroke-linejoin="round" opacity="1"/>
<path d="M400.0,400.0 C398.3,403.3 393.3,413.3 390.0,420.0 C386.7,426.7 381.7,436.7 380.0,440.0" fill="none" stroke="#ff4a10" stroke-width="2.8000000000000003" stroke-linecap="round" stroke-linejoin="round" opacity="1"/>
<path d="M425.0,440.0 L415.0,470.0" fill="none" stroke="#100000" stroke-width="10" stroke-linecap="round" stroke-linejoin="round" opacity="0.8"/>
<path d="M425.0,440.0 L415.0,470.0" fill="none" stroke="#c81400" stroke-width="6" stroke-linecap="round" stroke-linejoin="round" opacity="1"/>
<path d="M425.0,440.0 L415.0,470.0" fill="none" stroke="#ff4a10" stroke-width="2.4000000000000004" stroke-linecap="round" stroke-linejoin="round" opacity="1"/>
<path d="M260.0,380.0 C260.3,383.3 262.3,394.2 262.0,400.0 C261.7,405.8 258.7,412.5 258.0,415.0" fill="none" stroke="#100000" stroke-width="10" stroke-linecap="round" stroke-linejoin="round" opacity="0.8"/>
<path d="M260.0,380.0 C260.3,383.3 262.3,394.2 262.0,400.0 C261.7,405.8 258.7,412.5 258.0,415.0" fill="none" stroke="#c81400" stroke-width="6" stroke-linecap="round" stroke-linejoin="round" opacity="1"/>
<path d="M260.0,380.0 C260.3,383.3 262.3,394.2 262.0,400.0 C261.7,405.8 258.7,412.5 258.0,415.0" fill="none" stroke="#ff4a10" stroke-width="2.4000000000000004" stroke-linecap="round" stroke-linejoin="round" opacity="1"/>
<path d="M190.0,330.0 C191.7,333.3 197.5,343.3 200.0,350.0 C202.5,356.7 204.2,366.7 205.0,370.0" fill="none" stroke="#100000" stroke-width="9" stroke-linecap="round" stroke-linejoin="round" opacity="0.8"/>
<path d="M190.0,330.0 C191.7,333.3 197.5,343.3 200.0,350.0 C202.5,356.7 204.2,366.7 205.0,370.0" fill="none" stroke="#c81400" stroke-width="5" stroke-linecap="round" stroke-linejoin="round" opacity="1"/>
<path d="M190.0,330.0 C191.7,333.3 197.5,343.3 200.0,350.0 C202.5,356.7 204.2,366.7 205.0,370.0" fill="none" stroke="#ff4a10" stroke-width="2.0" stroke-linecap="round" stroke-linejoin="round" opacity="1"/>
<path d="M340.0,360.0 L352.0,375.0" fill="none" stroke="#100000" stroke-width="11" stroke-linecap="round" stroke-linejoin="round" opacity="0.8"/>
<path d="M340.0,360.0 L352.0,375.0" fill="none" stroke="#c81400" stroke-width="7" stroke-linecap="round" stroke-linejoin="round" opacity="1"/>
<path d="M340.0,360.0 L352.0,375.0" fill="none" stroke="#ff4a10" stroke-width="2.8000000000000003" stroke-linecap="round" stroke-linejoin="round" opacity="1"/>
<path d="M50.0,110.0 C49.4,111.0 47.9,110.0 46.1,115.8 C44.3,121.6 41.5,135.9 39.2,144.6 C36.9,153.2 34.5,161.0 32.2,167.7 C29.9,174.4 27.2,180.4 25.3,185.0 C23.4,189.6 21.7,193.3 21.0,195.0" fill="none" stroke="#000000" stroke-width="19.979999999999997" stroke-linecap="round" stroke-linejoin="round" opacity="0.85"/>
<path d="M50.0,110.0 C49.4,111.0 47.9,110.0 46.1,115.8 C44.3,121.6 41.5,135.9 39.2,144.6 C36.9,153.2 34.5,161.0 32.2,167.7 C29.9,174.4 27.2,180.4 25.3,185.0 C23.4,189.6 21.7,193.3 21.0,195.0" fill="none" stroke="#ff2a00" stroke-width="14.979999999999999" stroke-linecap="round" stroke-linejoin="round" opacity="1"/>
<path d="M50.0,110.0 C49.4,111.0 47.9,110.0 46.1,115.8 C44.3,121.6 41.5,135.9 39.2,144.6 C36.9,153.2 34.5,161.0 32.2,167.7 C29.9,174.4 27.2,180.4 25.3,185.0 C23.4,189.6 21.7,193.3 21.0,195.0" fill="none" stroke="#ffee20" stroke-width="8.0476" stroke-linecap="round" stroke-linejoin="round" opacity="1"/>
<path d="M206.0,141.0 C203.4,147.4 195.9,167.2 190.4,179.3 C184.9,191.5 177.9,203.3 173.1,213.9 C168.3,224.5 164.4,235.1 161.5,242.8 C158.6,250.5 158.7,251.3 155.8,260.0 C152.9,268.6 146.7,285.4 144.2,294.7 C141.7,304.0 142.0,307.6 141.0,316.0 C140.0,324.4 139.8,336.2 138.4,344.9 C137.0,353.6 133.6,359.4 132.7,368.0 C131.8,376.6 131.8,389.1 132.7,396.8 C133.6,404.5 137.4,411.2 138.4,414.1" fill="none" stroke="#000000" stroke-width="18.799999999999997" stroke-linecap="round" stroke-linejoin="round" opacity="0.85"/>
<path d="M206.0,141.0 C203.4,147.4 195.9,167.2 190.4,179.3 C184.9,191.5 177.9,203.3 173.1,213.9 C168.3,224.5 164.4,235.1 161.5,242.8 C158.6,250.5 158.7,251.3 155.8,260.0 C152.9,268.6 146.7,285.4 144.2,294.7 C141.7,304.0 142.0,307.6 141.0,316.0 C140.0,324.4 139.8,336.2 138.4,344.9 C137.0,353.6 133.6,359.4 132.7,368.0 C131.8,376.6 131.8,389.1 132.7,396.8 C133.6,404.5 137.4,411.2 138.4,414.1" fill="none" stroke="#ff2000" stroke-width="13.799999999999999" stroke-linecap="round" stroke-linejoin="round" opacity="1"/>
<path d="M206.0,141.0 C203.4,147.4 195.9,167.2 190.4,179.3 C184.9,191.5 177.9,203.3 173.1,213.9 C168.3,224.5 164.4,235.1 161.5,242.8 C158.6,250.5 158.7,251.3 155.8,260.0 C152.9,268.6 146.7,285.4 144.2,294.7 C141.7,304.0 142.0,307.6 141.0,316.0 C140.0,324.4 139.8,336.2 138.4,344.9 C137.0,353.6 133.6,359.4 132.7,368.0 C131.8,376.6 131.8,389.1 132.7,396.8 C133.6,404.5 137.4,411.2 138.4,414.1" fill="none" stroke="#ffc020" stroke-width="7.315999999999999" stroke-linecap="round" stroke-linejoin="round" opacity="1"/>
<path d="M205.0,146.0 C202.8,150.8 196.5,165.2 192.0,175.0 C187.5,184.8 182.0,195.8 178.0,205.0 C174.0,214.2 169.7,225.8 168.0,230.0" fill="none" stroke="#fff040" stroke-width="5" stroke-linecap="round" stroke-linejoin="round" opacity="1"/>
<path d="M128.0,118.0 C127.4,122.4 127.1,134.4 124.6,144.6 C122.1,154.8 117.4,167.8 113.0,179.3 C108.6,190.9 102.8,202.4 98.0,213.9 C93.2,225.4 89.0,236.9 84.2,248.5 C79.4,260.1 73.6,271.6 69.2,283.2 C64.8,294.8 61.1,306.6 57.6,317.8 C54.1,329.0 51.1,339.4 48.4,350.6 C45.7,361.9 44.0,373.8 41.5,385.3 C39.0,396.9 35.7,410.3 33.4,419.9 C31.1,429.5 28.6,439.1 27.6,443.0" fill="none" stroke="#000000" stroke-width="24.7" stroke-linecap="round" stroke-linejoin="round" opacity="0.85"/>
<path d="M128.0,118.0 C127.4,122.4 127.1,134.4 124.6,144.6 C122.1,154.8 117.4,167.8 113.0,179.3 C108.6,190.9 102.8,202.4 98.0,213.9 C93.2,225.4 89.0,236.9 84.2,248.5 C79.4,260.1 73.6,271.6 69.2,283.2 C64.8,294.8 61.1,306.6 57.6,317.8 C54.1,329.0 51.1,339.4 48.4,350.6 C45.7,361.9 44.0,373.8 41.5,385.3 C39.0,396.9 35.7,410.3 33.4,419.9 C31.1,429.5 28.6,439.1 27.6,443.0" fill="none" stroke="#ff2a00" stroke-width="19.7" stroke-linecap="round" stroke-linejoin="round" opacity="1"/>
<path d="M128.0,118.0 C127.4,122.4 127.1,134.4 124.6,144.6 C122.1,154.8 117.4,167.8 113.0,179.3 C108.6,190.9 102.8,202.4 98.0,213.9 C93.2,225.4 89.0,236.9 84.2,248.5 C79.4,260.1 73.6,271.6 69.2,283.2 C64.8,294.8 61.1,306.6 57.6,317.8 C54.1,329.0 51.1,339.4 48.4,350.6 C45.7,361.9 44.0,373.8 41.5,385.3 C39.0,396.9 35.7,410.3 33.4,419.9 C31.1,429.5 28.6,439.1 27.6,443.0" fill="none" stroke="#ffee20" stroke-width="10.974" stroke-linecap="round" stroke-linejoin="round" opacity="1"/>
<path d="M128.0,118.0 C127.4,122.4 127.1,134.4 124.6,144.6 C122.1,154.8 117.4,167.8 113.0,179.3 C108.6,190.9 102.8,202.4 98.0,213.9 C93.2,225.4 89.0,236.9 84.2,248.5 C79.4,260.1 73.6,271.6 69.2,283.2 C64.8,294.8 61.1,306.6 57.6,317.8 C54.1,329.0 51.1,339.4 48.4,350.6 C45.7,361.9 44.0,373.8 41.5,385.3 C39.0,396.9 35.7,410.3 33.4,419.9 C31.1,429.5 28.6,439.1 27.6,443.0" fill="none" stroke="#ffffa0" stroke-width="5.31" stroke-linecap="round" stroke-linejoin="round" opacity="1"/>
<path d="M118,119 L138,116 L150,128 L146,150 L130,160 L118,150 Z" fill="#f8f4c0" opacity="0.9"/>
<path d="M43.8,316.0 C41.9,323.7 35.3,350.6 32.2,362.2 C29.1,373.8 26.5,381.4 25.3,385.3" fill="none" stroke="#000000" stroke-width="14.08" stroke-linecap="round" stroke-linejoin="round" opacity="0.85"/>
<path d="M43.8,316.0 C41.9,323.7 35.3,350.6 32.2,362.2 C29.1,373.8 26.5,381.4 25.3,385.3" fill="none" stroke="#ff3000" stroke-width="9.08" stroke-linecap="round" stroke-linejoin="round" opacity="1"/>
<path d="M43.8,316.0 C41.9,323.7 35.3,350.6 32.2,362.2 C29.1,373.8 26.5,381.4 25.3,385.3" fill="none" stroke="#ffb020" stroke-width="4.3896" stroke-linecap="round" stroke-linejoin="round" opacity="1"/>
<path d="M294.6,184.0 C292.5,189.0 286.0,205.1 282.0,213.9 C278.0,222.7 274.2,229.3 270.4,237.0 C266.5,244.7 262.8,252.3 258.9,260.0 C255.0,267.7 251.2,275.5 247.3,283.2 C243.5,290.9 239.0,299.8 235.8,306.3 C232.6,312.8 229.3,319.4 228.0,322.0" fill="none" stroke="#000000" stroke-width="19.979999999999997" stroke-linecap="round" stroke-linejoin="round" opacity="0.85"/>
<path d="M294.6,184.0 C292.5,189.0 286.0,205.1 282.0,213.9 C278.0,222.7 274.2,229.3 270.4,237.0 C266.5,244.7 262.8,252.3 258.9,260.0 C255.0,267.7 251.2,275.5 247.3,283.2 C243.5,290.9 239.0,299.8 235.8,306.3 C232.6,312.8 229.3,319.4 228.0,322.0" fill="none" stroke="#ff2a00" stroke-width="14.979999999999999" stroke-linecap="round" stroke-linejoin="round" opacity="1"/>
<path d="M294.6,184.0 C292.5,189.0 286.0,205.1 282.0,213.9 C278.0,222.7 274.2,229.3 270.4,237.0 C266.5,244.7 262.8,252.3 258.9,260.0 C255.0,267.7 251.2,275.5 247.3,283.2 C243.5,290.9 239.0,299.8 235.8,306.3 C232.6,312.8 229.3,319.4 228.0,322.0" fill="none" stroke="#ffee20" stroke-width="8.0476" stroke-linecap="round" stroke-linejoin="round" opacity="1"/>
<path d="M352.4,203.0 C350.8,206.7 347.2,217.8 343.1,225.4 C339.1,233.0 333.5,239.8 328.1,248.5 C322.7,257.2 315.8,270.1 310.8,277.4 C305.8,284.6 300.1,289.6 298.0,292.0" fill="none" stroke="#000000" stroke-width="19.979999999999997" stroke-linecap="round" stroke-linejoin="round" opacity="0.85"/>
<path d="M352.4,203.0 C350.8,206.7 347.2,217.8 343.1,225.4 C339.1,233.0 333.5,239.8 328.1,248.5 C322.7,257.2 315.8,270.1 310.8,277.4 C305.8,284.6 300.1,289.6 298.0,292.0" fill="none" stroke="#ff2a00" stroke-width="14.979999999999999" stroke-linecap="round" stroke-linejoin="round" opacity="1"/>
<path d="M352.4,203.0 C350.8,206.7 347.2,217.8 343.1,225.4 C339.1,233.0 333.5,239.8 328.1,248.5 C322.7,257.2 315.8,270.1 310.8,277.4 C305.8,284.6 300.1,289.6 298.0,292.0" fill="none" stroke="#ffee20" stroke-width="8.0476" stroke-linecap="round" stroke-linejoin="round" opacity="1"/>
<path d="M334.0,190.0 C333.0,194.0 331.0,206.1 328.1,213.9 C325.2,221.7 321.4,228.3 316.6,237.0 C311.8,245.7 305.1,257.2 299.3,265.8 C293.5,274.4 286.2,282.1 282.0,288.9 C277.8,295.6 275.8,301.8 273.9,306.3 C272.0,310.8 273.9,308.6 270.4,316.0 C266.9,323.4 258.9,341.0 253.1,350.6 C247.3,360.2 243.4,366.0 235.8,373.7 C228.2,381.4 215.3,388.1 207.7,396.8 C200.1,405.5 196.2,416.1 190.4,425.7 C184.6,435.3 178.9,444.9 173.1,454.5 C167.3,464.1 161.6,473.8 155.8,483.4 C150.0,493.0 142.2,504.2 138.4,512.3 C134.6,520.4 133.6,528.7 132.7,532.0" fill="none" stroke="#000000" stroke-width="27.06" stroke-linecap="round" stroke-linejoin="round" opacity="0.85"/>
<path d="M334.0,190.0 C333.0,194.0 331.0,206.1 328.1,213.9 C325.2,221.7 321.4,228.3 316.6,237.0 C311.8,245.7 305.1,257.2 299.3,265.8 C293.5,274.4 286.2,282.1 282.0,288.9 C277.8,295.6 275.8,301.8 273.9,306.3 C272.0,310.8 273.9,308.6 270.4,316.0 C266.9,323.4 258.9,341.0 253.1,350.6 C247.3,360.2 243.4,366.0 235.8,373.7 C228.2,381.4 215.3,388.1 207.7,396.8 C200.1,405.5 196.2,416.1 190.4,425.7 C184.6,435.3 178.9,444.9 173.1,454.5 C167.3,464.1 161.6,473.8 155.8,483.4 C150.0,493.0 142.2,504.2 138.4,512.3 C134.6,520.4 133.6,528.7 132.7,532.0" fill="none" stroke="#ff2a00" stroke-width="22.06" stroke-linecap="round" stroke-linejoin="round" opacity="1"/>
<path d="M334.0,190.0 C333.0,194.0 331.0,206.1 328.1,213.9 C325.2,221.7 321.4,228.3 316.6,237.0 C311.8,245.7 305.1,257.2 299.3,265.8 C293.5,274.4 286.2,282.1 282.0,288.9 C277.8,295.6 275.8,301.8 273.9,306.3 C272.0,310.8 273.9,308.6 270.4,316.0 C266.9,323.4 258.9,341.0 253.1,350.6 C247.3,360.2 243.4,366.0 235.8,373.7 C228.2,381.4 215.3,388.1 207.7,396.8 C200.1,405.5 196.2,416.1 190.4,425.7 C184.6,435.3 178.9,444.9 173.1,454.5 C167.3,464.1 161.6,473.8 155.8,483.4 C150.0,493.0 142.2,504.2 138.4,512.3 C134.6,520.4 133.6,528.7 132.7,532.0" fill="none" stroke="#ffee20" stroke-width="12.437199999999999" stroke-linecap="round" stroke-linejoin="round" opacity="1"/>
<path d="M334.0,190.0 C333.0,194.0 331.0,206.1 328.1,213.9 C325.2,221.7 321.4,228.3 316.6,237.0 C311.8,245.7 305.1,257.2 299.3,265.8 C293.5,274.4 286.2,282.1 282.0,288.9 C277.8,295.6 275.8,301.8 273.9,306.3 C272.0,310.8 273.9,308.6 270.4,316.0 C266.9,323.4 258.9,341.0 253.1,350.6 C247.3,360.2 243.4,366.0 235.8,373.7 C228.2,381.4 215.3,388.1 207.7,396.8 C200.1,405.5 196.2,416.1 190.4,425.7 C184.6,435.3 178.9,444.9 173.1,454.5 C167.3,464.1 161.6,473.8 155.8,483.4 C150.0,493.0 142.2,504.2 138.4,512.3 C134.6,520.4 133.6,528.7 132.7,532.0" fill="none" stroke="#ffffc8" stroke-width="6.018" stroke-linecap="round" stroke-linejoin="round" opacity="1"/>
<path d="M213.5,408.4 C214.5,414.2 219.3,432.4 219.3,443.0 C219.3,453.6 214.5,467.1 213.5,471.9" fill="none" stroke="#000000" stroke-width="14.08" stroke-linecap="round" stroke-linejoin="round" opacity="0.85"/>
<path d="M213.5,408.4 C214.5,414.2 219.3,432.4 219.3,443.0 C219.3,453.6 214.5,467.1 213.5,471.9" fill="none" stroke="#ff3000" stroke-width="9.08" stroke-linecap="round" stroke-linejoin="round" opacity="1"/>
<path d="M213.5,408.4 C214.5,414.2 219.3,432.4 219.3,443.0 C219.3,453.6 214.5,467.1 213.5,471.9" fill="none" stroke="#ffb020" stroke-width="4.3896" stroke-linecap="round" stroke-linejoin="round" opacity="1"/>
<path d="M398.0,229.0 C395.0,231.3 385.0,236.7 380.1,242.8 C375.2,248.9 372.4,258.1 368.5,265.8 C364.6,273.5 360.9,282.1 357.0,288.9 C353.1,295.6 349.2,301.1 345.4,306.3 C341.5,311.5 337.8,315.2 333.9,320.0 C330.0,324.8 325.9,329.9 322.0,335.0 C318.1,340.1 316.5,342.2 310.8,350.6 C305.1,359.0 294.4,373.8 287.7,385.3 C281.0,396.9 276.2,408.4 270.4,419.9 C264.6,431.4 258.9,443.9 253.1,454.5 C247.3,465.1 240.5,475.8 235.8,483.4 C231.1,491.0 226.8,497.2 225.0,500.0" fill="none" stroke="#000000" stroke-width="19.979999999999997" stroke-linecap="round" stroke-linejoin="round" opacity="0.85"/>
<path d="M398.0,229.0 C395.0,231.3 385.0,236.7 380.1,242.8 C375.2,248.9 372.4,258.1 368.5,265.8 C364.6,273.5 360.9,282.1 357.0,288.9 C353.1,295.6 349.2,301.1 345.4,306.3 C341.5,311.5 337.8,315.2 333.9,320.0 C330.0,324.8 325.9,329.9 322.0,335.0 C318.1,340.1 316.5,342.2 310.8,350.6 C305.1,359.0 294.4,373.8 287.7,385.3 C281.0,396.9 276.2,408.4 270.4,419.9 C264.6,431.4 258.9,443.9 253.1,454.5 C247.3,465.1 240.5,475.8 235.8,483.4 C231.1,491.0 226.8,497.2 225.0,500.0" fill="none" stroke="#f01800" stroke-width="14.979999999999999" stroke-linecap="round" stroke-linejoin="round" opacity="1"/>
<path d="M398.0,229.0 C395.0,231.3 385.0,236.7 380.1,242.8 C375.2,248.9 372.4,258.1 368.5,265.8 C364.6,273.5 360.9,282.1 357.0,288.9 C353.1,295.6 349.2,301.1 345.4,306.3 C341.5,311.5 337.8,315.2 333.9,320.0 C330.0,324.8 325.9,329.9 322.0,335.0 C318.1,340.1 316.5,342.2 310.8,350.6 C305.1,359.0 294.4,373.8 287.7,385.3 C281.0,396.9 276.2,408.4 270.4,419.9 C264.6,431.4 258.9,443.9 253.1,454.5 C247.3,465.1 240.5,475.8 235.8,483.4 C231.1,491.0 226.8,497.2 225.0,500.0" fill="none" stroke="#ffa020" stroke-width="8.0476" stroke-linecap="round" stroke-linejoin="round" opacity="1"/>
<path d="M396.0,233.0 C393.7,235.3 386.3,241.2 382.0,247.0 C377.7,252.8 374.0,260.8 370.0,268.0 C366.0,275.2 360.0,286.3 358.0,290.0" fill="none" stroke="#fff040" stroke-width="5" stroke-linecap="round" stroke-linejoin="round" opacity="1"/>
<path d="M446.0,314.0 C445.0,315.3 445.2,314.7 440.0,321.8 C434.8,328.9 422.8,345.8 414.7,356.4 C406.6,367.0 399.3,376.6 391.6,385.3 C383.9,394.0 376.2,400.7 368.5,408.4 C360.8,416.1 353.1,422.8 345.4,431.4 C337.7,440.0 329.1,451.6 322.4,460.3 C315.7,469.0 310.8,475.7 305.0,483.4 C299.2,491.1 292.5,498.4 287.7,506.5 C282.9,514.6 278.1,527.8 276.2,532.0" fill="none" stroke="#000000" stroke-width="29.419999999999998" stroke-linecap="round" stroke-linejoin="round" opacity="0.85"/>
<path d="M446.0,314.0 C445.0,315.3 445.2,314.7 440.0,321.8 C434.8,328.9 422.8,345.8 414.7,356.4 C406.6,367.0 399.3,376.6 391.6,385.3 C383.9,394.0 376.2,400.7 368.5,408.4 C360.8,416.1 353.1,422.8 345.4,431.4 C337.7,440.0 329.1,451.6 322.4,460.3 C315.7,469.0 310.8,475.7 305.0,483.4 C299.2,491.1 292.5,498.4 287.7,506.5 C282.9,514.6 278.1,527.8 276.2,532.0" fill="none" stroke="#ff2a00" stroke-width="24.419999999999998" stroke-linecap="round" stroke-linejoin="round" opacity="1"/>
<path d="M446.0,314.0 C445.0,315.3 445.2,314.7 440.0,321.8 C434.8,328.9 422.8,345.8 414.7,356.4 C406.6,367.0 399.3,376.6 391.6,385.3 C383.9,394.0 376.2,400.7 368.5,408.4 C360.8,416.1 353.1,422.8 345.4,431.4 C337.7,440.0 329.1,451.6 322.4,460.3 C315.7,469.0 310.8,475.7 305.0,483.4 C299.2,491.1 292.5,498.4 287.7,506.5 C282.9,514.6 278.1,527.8 276.2,532.0" fill="none" stroke="#ffee20" stroke-width="13.9004" stroke-linecap="round" stroke-linejoin="round" opacity="1"/>
<path d="M446.0,314.0 C445.0,315.3 445.2,314.7 440.0,321.8 C434.8,328.9 422.8,345.8 414.7,356.4 C406.6,367.0 399.3,376.6 391.6,385.3 C383.9,394.0 376.2,400.7 368.5,408.4 C360.8,416.1 353.1,422.8 345.4,431.4 C337.7,440.0 329.1,451.6 322.4,460.3 C315.7,469.0 310.8,475.7 305.0,483.4 C299.2,491.1 292.5,498.4 287.7,506.5 C282.9,514.6 278.1,527.8 276.2,532.0" fill="none" stroke="#ffffc8" stroke-width="6.725999999999999" stroke-linecap="round" stroke-linejoin="round" opacity="1"/>
<path d="M357.0,440.0 C355.1,442.4 350.2,447.3 345.4,454.5 C340.6,461.7 333.9,474.7 328.1,483.4 C322.3,492.1 315.6,498.4 310.8,506.5 C306.0,514.6 301.2,527.8 299.3,532.0" fill="none" stroke="#000000" stroke-width="21.16" stroke-linecap="round" stroke-linejoin="round" opacity="0.85"/>
<path d="M357.0,440.0 C355.1,442.4 350.2,447.3 345.4,454.5 C340.6,461.7 333.9,474.7 328.1,483.4 C322.3,492.1 315.6,498.4 310.8,506.5 C306.0,514.6 301.2,527.8 299.3,532.0" fill="none" stroke="#ff2a00" stroke-width="16.16" stroke-linecap="round" stroke-linejoin="round" opacity="1"/>
<path d="M357.0,440.0 C355.1,442.4 350.2,447.3 345.4,454.5 C340.6,461.7 333.9,474.7 328.1,483.4 C322.3,492.1 315.6,498.4 310.8,506.5 C306.0,514.6 301.2,527.8 299.3,532.0" fill="none" stroke="#ffee20" stroke-width="8.7792" stroke-linecap="round" stroke-linejoin="round" opacity="1"/>
<path d="M357.0,431.4 C358.0,435.2 359.9,447.8 362.8,454.5 C365.7,461.2 372.4,469.0 374.3,471.9" fill="none" stroke="#000000" stroke-width="16.439999999999998" stroke-linecap="round" stroke-linejoin="round" opacity="0.85"/>
<path d="M357.0,431.4 C358.0,435.2 359.9,447.8 362.8,454.5 C365.7,461.2 372.4,469.0 374.3,471.9" fill="none" stroke="#ee2000" stroke-width="11.44" stroke-linecap="round" stroke-linejoin="round" opacity="1"/>
<path d="M357.0,431.4 C358.0,435.2 359.9,447.8 362.8,454.5 C365.7,461.2 372.4,469.0 374.3,471.9" fill="none" stroke="#ff9a10" stroke-width="5.852799999999999" stroke-linecap="round" stroke-linejoin="round" opacity="1"/>
<path d="M446.0,340.0 C440.8,345.6 423.2,365.0 414.7,373.7 C406.2,382.4 398.3,388.9 395.0,392.0" fill="none" stroke="#000000" stroke-width="16.439999999999998" stroke-linecap="round" stroke-linejoin="round" opacity="0.85"/>
<path d="M446.0,340.0 C440.8,345.6 423.2,365.0 414.7,373.7 C406.2,382.4 398.3,388.9 395.0,392.0" fill="none" stroke="#e01800" stroke-width="11.44" stroke-linecap="round" stroke-linejoin="round" opacity="1"/>
<path d="M446.0,340.0 C440.8,345.6 423.2,365.0 414.7,373.7 C406.2,382.4 398.3,388.9 395.0,392.0" fill="none" stroke="#ff8010" stroke-width="5.852799999999999" stroke-linecap="round" stroke-linejoin="round" opacity="1"/>
<path d="M446.0,482.0 C441.8,488.0 426.5,509.7 420.5,518.0 C414.5,526.3 411.8,529.7 410.0,532.0" fill="none" stroke="#000000" stroke-width="25.88" stroke-linecap="round" stroke-linejoin="round" opacity="0.85"/>
<path d="M446.0,482.0 C441.8,488.0 426.5,509.7 420.5,518.0 C414.5,526.3 411.8,529.7 410.0,532.0" fill="none" stroke="#ff2a00" stroke-width="20.88" stroke-linecap="round" stroke-linejoin="round" opacity="1"/>
<path d="M446.0,482.0 C441.8,488.0 426.5,509.7 420.5,518.0 C414.5,526.3 411.8,529.7 410.0,532.0" fill="none" stroke="#ffee20" stroke-width="11.705599999999999" stroke-linecap="round" stroke-linejoin="round" opacity="1"/>
<path d="M440.0,540.0 L400.0,528.0" fill="none" stroke="#000000" stroke-width="23.52" stroke-linecap="round" stroke-linejoin="round" opacity="0.85"/>
<path d="M440.0,540.0 L400.0,528.0" fill="none" stroke="#ff2a00" stroke-width="18.52" stroke-linecap="round" stroke-linejoin="round" opacity="1"/>
<path d="M440.0,540.0 L400.0,528.0" fill="none" stroke="#ffee20" stroke-width="10.2424" stroke-linecap="round" stroke-linejoin="round" opacity="1"/>
</g>
<line x1="267.7" y1="302.4" x2="288.7" y2="318.1" stroke="#10e010" stroke-width="4.5"/>
<rect x="291.0" y="124.9" width="137.9" height="6.3" fill="#fff" stroke="none" stroke-width="1"/>
<text x="338.9" y="155.2" font-size="21.3" text-anchor="start" fill="#fff" font-weight="bold">500 µm</text>
</g>
<rect x="23.5" y="110.8" width="416.0" height="414.8" fill="none" stroke="#222" stroke-width="1"/>
<defs><filter id="glow" x="-30%" y="-30%" width="160%" height="160%"><feGaussianBlur stdDeviation="2.0"/></filter></defs>
<g clip-path="url(#clipC)">
<rect x="1055.9" y="110.9" width="418.4" height="418.4" fill="#000" stroke="none" stroke-width="1"/>
<g filter="url(#glow)">
<path d="M1072.3,179.3 C1071.1,181.1 1067.3,186.2 1065.0,190.0 C1062.7,193.8 1059.6,200.3 1058.5,202.4" fill="none" stroke="#06186d" stroke-width="6" stroke-linecap="round" stroke-linejoin="round" opacity="1.0"/>
<path d="M1135.8,190.8 C1134.8,196.6 1132.3,214.8 1130.0,225.4 C1127.7,236.0 1123.3,249.5 1122.0,254.3" fill="none" stroke="#061d7c" stroke-width="4" stroke-linecap="round" stroke-linejoin="round" opacity="1.0"/>
<path d="M1093.1,225.4 C1094.1,229.2 1095.2,243.1 1098.9,248.5 C1102.6,253.9 1112.3,256.2 1115.0,257.8" fill="none" stroke="#041159" stroke-width="4" stroke-linecap="round" stroke-linejoin="round" opacity="1.0"/>
<path d="M1170.4,202.4 C1171.4,212.0 1173.9,244.6 1176.2,260.0 C1178.5,275.4 1183.0,288.9 1184.3,294.7" fill="none" stroke="#041159" stroke-width="5" stroke-linecap="round" stroke-linejoin="round" opacity="1.0"/>
<path d="M1193.5,225.4 L1191.2,283.2" fill="none" stroke="#04114f" stroke-width="5" stroke-linecap="round" stroke-linejoin="round" opacity="1.0"/>
<path d="M1282.3,179.3 C1281.3,185.1 1277.9,203.1 1276.5,214.0 C1275.1,224.9 1274.4,239.8 1274.0,245.0" fill="none" stroke="#041159" stroke-width="6" stroke-linecap="round" stroke-linejoin="round" opacity="1.0"/>
<path d="M1305.4,167.7 C1305.0,177.3 1303.7,208.1 1303.1,225.4 C1302.5,242.7 1302.2,263.9 1302.0,271.6" fill="none" stroke="#030d55" stroke-width="6" stroke-linecap="round" stroke-linejoin="round" opacity="1.0"/>
<path d="M1349.3,144.6 C1349.5,154.2 1350.6,183.2 1350.4,202.4 C1350.2,221.6 1348.5,250.4 1348.1,260.0" fill="none" stroke="#030c4a" stroke-width="6" stroke-linecap="round" stroke-linejoin="round" opacity="1.0"/>
<path d="M1392.0,167.7 C1394.9,179.2 1402.6,214.9 1409.3,237.0 C1416.0,259.1 1428.6,289.9 1432.4,300.5" fill="none" stroke="#030c4a" stroke-width="7" stroke-linecap="round" stroke-linejoin="round" opacity="1.0"/>
<path d="M1470.5,113.5 L1471.0,160.0" fill="none" stroke="#041159" stroke-width="6" stroke-linecap="round" stroke-linejoin="round" opacity="1.0"/>
<path d="M1265.0,202.4 C1266.9,206.2 1274.2,217.7 1276.5,225.4 C1278.8,233.1 1278.5,244.7 1278.9,248.5" fill="none" stroke="#370900" stroke-width="5" stroke-linecap="round" stroke-linejoin="round" opacity="1.0"/>
<path d="M1288.0,113.5 L1290.4,128.5" fill="none" stroke="#410900" stroke-width="5" stroke-linecap="round" stroke-linejoin="round" opacity="1.0"/>
<path d="M1101.2,318.0 C1105.0,320.3 1117.6,327.1 1124.3,331.9 C1131.0,336.7 1138.7,344.4 1141.6,346.9" fill="none" stroke="#4b0c00" stroke-width="8" stroke-linecap="round" stroke-linejoin="round" opacity="1.0"/>
<path d="M1078.1,421.9 L1089.6,445.0" fill="none" stroke="#041159" stroke-width="6" stroke-linecap="round" stroke-linejoin="round" opacity="1.0"/>
<path d="M1205.1,416.1 L1193.5,427.7" fill="none" stroke="#041159" stroke-width="5" stroke-linecap="round" stroke-linejoin="round" opacity="1.0"/>
<path d="M1265.0,404.6 C1266.9,406.5 1273.6,411.3 1276.5,416.1 C1279.4,420.9 1281.3,430.5 1282.3,433.4" fill="none" stroke="#061a63" stroke-width="6" stroke-linecap="round" stroke-linejoin="round" opacity="1.0"/>
<path d="M1380.4,398.8 L1374.7,421.9" fill="none" stroke="#041159" stroke-width="6" stroke-linecap="round" stroke-linejoin="round" opacity="1.0"/>
<path d="M1403.5,393.0 L1398.0,410.0" fill="none" stroke="#041159" stroke-width="6" stroke-linecap="round" stroke-linejoin="round" opacity="1.0"/>
<path d="M1447.4,358.4 L1452.0,387.3" fill="none" stroke="#061663" stroke-width="7" stroke-linecap="round" stroke-linejoin="round" opacity="1.0"/>
<path d="M1303.1,387.3 L1299.6,410.4" fill="none" stroke="#370800" stroke-width="5" stroke-linecap="round" stroke-linejoin="round" opacity="1.0"/>
<path d="M1323.0,365.0 C1323.5,370.8 1326.2,389.2 1326.0,400.0 C1325.8,410.8 1322.7,425.0 1322.0,430.0" fill="none" stroke="#2d0700" stroke-width="4" stroke-linecap="round" stroke-linejoin="round" opacity="1.0"/>
<path d="M1358.5,412.7 C1356.4,416.1 1349.8,426.1 1345.8,433.4 C1341.8,440.7 1336.2,452.6 1334.3,456.5" fill="none" stroke="#410900" stroke-width="4" stroke-linecap="round" stroke-linejoin="round" opacity="1.0"/>
<path d="M1359.7,416.1 L1372.4,427.7" fill="none" stroke="#410900" stroke-width="4" stroke-linecap="round" stroke-linejoin="round" opacity="1.0"/>
<path d="M1380.0,308.0 C1382.5,310.8 1390.1,319.5 1395.0,325.0 C1399.9,330.5 1406.9,338.4 1409.3,341.1" fill="none" stroke="#410b00" stroke-width="5" stroke-linecap="round" stroke-linejoin="round" opacity="1.0"/>
<path d="M1080.0,330.0 C1078.3,335.0 1073.0,351.7 1070.0,360.0 C1067.0,368.3 1063.3,376.7 1062.0,380.0" fill="none" stroke="#2d0700" stroke-width="4" stroke-linecap="round" stroke-linejoin="round" opacity="1.0"/>
<path d="M1187.8,133.1 C1185.8,135.4 1179.8,142.6 1176.0,147.0 C1172.2,151.4 1166.6,157.5 1164.7,159.6" fill="none" stroke="#0a38f0" stroke-width="8" stroke-linecap="round" stroke-linejoin="round" opacity="1.0"/>
<path d="M1237.4,163.0 C1237.2,167.6 1237.1,182.5 1236.3,190.8 C1235.5,199.1 1233.4,209.3 1232.8,213.0" fill="none" stroke="#0a50ff" stroke-width="11" stroke-linecap="round" stroke-linejoin="round" opacity="1.0"/>
<path d="M1236.5,185.0 L1235.5,200.0" fill="none" stroke="#3090ff" stroke-width="5" stroke-linecap="round" stroke-linejoin="round" opacity="1.0"/>
<path d="M1383.9,111.0 C1383.3,114.7 1381.8,125.6 1380.4,133.1 C1379.1,140.6 1376.0,145.6 1375.8,156.2 C1375.6,166.8 1379.1,185.1 1379.3,196.6 C1379.5,208.1 1378.0,216.8 1377.0,225.4 C1376.0,234.1 1372.9,240.8 1373.5,248.5 C1374.1,256.2 1380.2,265.4 1380.4,271.6 C1380.6,277.8 1377.0,282.6 1374.7,285.5 C1372.4,288.4 1367.9,288.3 1366.6,288.9" fill="none" stroke="#0a44ff" stroke-width="8" stroke-linecap="round" stroke-linejoin="round" opacity="1.0"/>
<path d="M1143.9,358.4 C1143.5,363.2 1142.0,377.7 1141.6,387.3 C1141.2,396.9 1141.8,409.4 1141.6,416.1 C1141.4,422.8 1140.6,425.8 1140.4,427.7" fill="none" stroke="#0a40f0" stroke-width="6" stroke-linecap="round" stroke-linejoin="round" opacity="1.0"/>
<path d="M1147.4,373.4 L1164.7,385.0" fill="none" stroke="#0a38e0" stroke-width="5" stroke-linecap="round" stroke-linejoin="round" opacity="1.0"/>
<path d="M1216.6,381.5 C1216.2,385.4 1214.9,396.0 1214.3,404.6 C1213.7,413.2 1212.4,425.1 1213.2,433.4 C1214.0,441.7 1215.5,447.8 1218.9,454.2 C1222.4,460.6 1227.6,467.6 1233.9,471.5 C1240.2,475.4 1253.2,476.3 1257.0,477.3" fill="none" stroke="#0a48ff" stroke-width="8" stroke-linecap="round" stroke-linejoin="round" opacity="1.0"/>
<path d="M1222.4,373.4 C1226.2,373.0 1240.3,368.8 1245.5,371.1 C1250.7,373.4 1250.7,381.2 1253.6,387.3 C1256.5,393.4 1261.3,404.6 1262.8,408.0" fill="none" stroke="#0a40f0" stroke-width="7" stroke-linecap="round" stroke-linejoin="round" opacity="1.0"/>
<path d="M1425.5,389.6 C1427.6,393.1 1434.5,403.1 1438.2,410.4 C1441.9,417.7 1445.1,425.7 1447.4,433.4 C1449.7,441.1 1450.8,450.3 1452.0,456.5 C1453.2,462.7 1455.5,465.0 1454.3,470.4 C1453.1,475.8 1449.1,482.5 1445.1,488.9 C1441.1,495.2 1433.8,503.1 1430.1,508.5 C1426.4,513.9 1425.2,517.3 1423.2,521.2 C1421.2,525.1 1418.9,530.2 1418.0,532.0" fill="none" stroke="#0a60ff" stroke-width="8" stroke-linecap="round" stroke-linejoin="round" opacity="1.0"/>
<path d="M1445.0,430.0 L1450.0,450.0" fill="none" stroke="#40a0ff" stroke-width="4" stroke-linecap="round" stroke-linejoin="round" opacity="1.0"/>
<path d="M1454.3,470.4 L1467.0,473.9" fill="none" stroke="#0a50ff" stroke-width="6" stroke-linecap="round" stroke-linejoin="round" opacity="1.0"/>
<path d="M1291.6,294.7 L1285.8,320.0" fill="none" stroke="#0a50ff" stroke-width="6" stroke-linecap="round" stroke-linejoin="round" opacity="1.0"/>
<path d="M1336.6,265.8 C1338.1,268.7 1347.7,278.8 1345.8,283.2 C1343.9,287.6 1326.5,295.3 1325.0,292.4 C1323.5,289.5 1334.7,270.2 1336.6,265.8" fill="none" stroke="#10b0ff" stroke-width="5" stroke-linecap="round" stroke-linejoin="round" opacity="1.0"/>
<circle cx="1360.8" cy="378" r="3" fill="#1060ff"/>
<path d="M1058.5,277.4 C1060.8,278.9 1067.5,283.0 1072.3,286.6 C1077.1,290.2 1084.8,297.2 1087.3,299.3" fill="none" stroke="#20d8ff" stroke-width="11" stroke-linecap="round" stroke-linejoin="round" opacity="1.0"/>
<path d="M1133.5,234.7 C1136.8,238.9 1148.3,252.9 1153.1,260.0 C1157.9,267.1 1160.3,269.7 1162.4,277.4 C1164.5,285.1 1164.1,299.9 1165.8,306.3 C1167.5,312.7 1171.6,314.0 1172.8,315.5" fill="none" stroke="#20a8ff" stroke-width="4" stroke-linecap="round" stroke-linejoin="round" opacity="1.0"/>
<path d="M1122.0,257.8 C1122.4,260.1 1121.0,266.2 1124.3,271.6 C1127.6,277.0 1135.8,285.5 1141.6,290.1 C1147.4,294.7 1154.9,296.6 1158.9,299.3 C1162.9,302.0 1164.7,305.1 1165.8,306.3" fill="none" stroke="#30d0ff" stroke-width="4.5" stroke-linecap="round" stroke-linejoin="round" opacity="1.0"/>
<path d="M1185.5,288.9 C1184.9,291.8 1183.5,301.9 1182.0,306.3 C1180.5,310.7 1177.2,314.0 1176.2,315.5" fill="none" stroke="#1070ff" stroke-width="4" stroke-linecap="round" stroke-linejoin="round" opacity="1.0"/>
<path d="M1058.5,454.2 L1072.3,460.0" fill="none" stroke="#20c0ff" stroke-width="6" stroke-linecap="round" stroke-linejoin="round" opacity="1.0"/>
<path d="M1355.0,113.0 L1363.0,116.0" fill="none" stroke="#30d0ff" stroke-width="6" stroke-linecap="round" stroke-linejoin="round" opacity="1.0"/>
<path d="M1193.5,113.5 C1199.3,114.5 1219.5,115.9 1228.2,119.2 C1236.9,122.5 1242.6,130.8 1245.5,133.1" fill="none" stroke="#b81800" stroke-width="8" stroke-linecap="round" stroke-linejoin="round" opacity="1.0"/>
<path d="M1210.0,114.0 L1228.0,119.0" fill="none" stroke="#f03000" stroke-width="6" stroke-linecap="round" stroke-linejoin="round" opacity="1.0"/>
<path d="M1345.8,113.5 C1342.9,114.8 1332.7,118.2 1328.5,121.5 C1324.3,124.8 1323.3,129.2 1320.4,133.1 C1317.5,136.9 1312.7,142.7 1311.2,144.6" fill="none" stroke="#ff5a00" stroke-width="8" stroke-linecap="round" stroke-linejoin="round" opacity="1.0"/>
<circle cx="1227" cy="162" r="6" fill="#d81800"/>
<path d="M1182.0,321.5 C1183.0,323.8 1186.6,330.5 1187.8,335.3 C1189.0,340.1 1188.7,347.8 1188.9,350.3" fill="none" stroke="#c02000" stroke-width="5" stroke-linecap="round" stroke-linejoin="round" opacity="1.0"/>
<path d="M1208.5,381.5 C1206.4,384.4 1197.1,394.0 1195.8,398.8 C1194.5,403.6 1199.7,408.5 1200.5,410.4" fill="none" stroke="#b01800" stroke-width="5" stroke-linecap="round" stroke-linejoin="round" opacity="1.0"/>
<path d="M1058.5,470.4 C1061.8,469.6 1071.0,468.1 1078.1,465.8 C1085.2,463.5 1094.5,456.9 1101.2,456.5 C1107.9,456.1 1113.7,460.6 1118.5,463.5 C1123.3,466.4 1126.2,470.2 1130.0,473.9 C1133.8,477.5 1137.8,481.4 1141.6,485.4 C1145.4,489.4 1148.3,496.8 1153.1,498.1 C1157.9,499.5 1163.7,493.1 1170.4,493.5 C1177.1,493.9 1185.8,497.3 1193.5,500.4 C1201.2,503.5 1208.9,508.1 1216.6,512.0 C1224.3,515.9 1234.1,520.2 1239.7,523.5 C1245.3,526.8 1248.3,530.6 1250.0,532.0" fill="none" stroke="#c82800" stroke-width="6" stroke-linecap="round" stroke-linejoin="round" opacity="1.0"/>
<path d="M1101.2,456.5 C1104.1,457.7 1113.7,460.6 1118.5,463.5 C1123.3,466.4 1128.1,472.2 1130.0,473.9" fill="none" stroke="#ff8a20" stroke-width="3" stroke-linecap="round" stroke-linejoin="round" opacity="1.0"/>
<path d="M1158.9,493.5 C1159.1,496.0 1160.5,502.1 1160.1,508.5 C1159.7,514.9 1157.2,528.1 1156.6,532.0" fill="none" stroke="#e0a000" stroke-width="5" stroke-linecap="round" stroke-linejoin="round" opacity="1.0"/>
<path d="M1332.0,293.6 C1336.2,294.8 1349.3,298.4 1357.4,300.5 C1365.5,302.6 1372.7,304.4 1380.4,306.3 C1388.1,308.2 1395.8,310.1 1403.5,312.0 C1411.2,313.9 1422.8,316.8 1426.6,317.8" fill="none" stroke="#e04000" stroke-width="8" stroke-linecap="round" stroke-linejoin="round" opacity="1.0"/>
<path d="M1332.0,293.6 L1357.4,300.5" fill="none" stroke="#ffa020" stroke-width="5" stroke-linecap="round" stroke-linejoin="round" opacity="1.0"/>
<circle cx="1357.4" cy="286.6" r="3.5" fill="#ff6000"/>
<circle cx="1355" cy="269.3" r="3" fill="#a01000"/>
<path d="M1409.3,341.1 C1412.2,344.0 1422.0,353.6 1426.6,358.4 C1431.2,363.2 1435.5,365.6 1437.0,370.0 C1438.5,374.4 1436.1,382.5 1435.9,385.0" fill="none" stroke="#ff1800" stroke-width="7" stroke-linecap="round" stroke-linejoin="round" opacity="1.0"/>
<path d="M1268.5,260.0 C1271.8,262.9 1281.0,272.8 1288.1,277.4 C1295.2,282.0 1307.0,284.9 1311.2,287.8 C1315.4,290.7 1311.6,290.7 1313.5,294.7 C1315.4,298.7 1320.2,307.4 1322.7,312.0 C1325.2,316.6 1327.5,320.3 1328.5,322.0" fill="none" stroke="#ffb000" stroke-width="10" stroke-linecap="round" stroke-linejoin="round" opacity="1.0"/>
<path d="M1270.0,262.0 C1273.0,264.7 1282.3,274.0 1288.1,278.0 C1293.9,282.0 1302.2,284.7 1305.0,286.0" fill="none" stroke="#fff040" stroke-width="5" stroke-linecap="round" stroke-linejoin="round" opacity="1.0"/>
<path d="M1251.0,299.0 C1253.3,302.8 1258.8,314.5 1265.0,321.5 C1271.2,328.5 1280.4,335.9 1288.1,341.1 C1295.8,346.3 1303.5,348.8 1311.2,352.6 C1318.9,356.5 1328.0,360.0 1334.3,364.2 C1340.6,368.4 1345.8,373.2 1349.3,378.0 C1352.8,382.8 1353.5,387.2 1355.0,393.0 C1356.5,398.8 1357.9,409.4 1358.5,412.7" fill="none" stroke="#ff9800" stroke-width="9" stroke-linecap="round" stroke-linejoin="round" opacity="1.0"/>
<path d="M1256.0,305.0 C1258.0,307.8 1262.7,316.0 1268.0,322.0 C1273.3,328.0 1280.9,336.0 1288.1,341.0 C1295.3,346.0 1307.2,350.2 1311.0,352.0" fill="none" stroke="#ffee20" stroke-width="5" stroke-linecap="round" stroke-linejoin="round" opacity="1.0"/>
<path d="M1253.6,168.0 C1253.2,171.8 1252.6,183.0 1251.3,190.8 C1250.0,198.6 1246.5,211.0 1245.5,215.0" fill="none" stroke="#ff4a00" stroke-width="15" stroke-linecap="round" stroke-linejoin="round" opacity="1.0"/>
<path d="M1254.0,172.0 L1252.0,195.0" fill="none" stroke="#ffa000" stroke-width="7" stroke-linecap="round" stroke-linejoin="round" opacity="1.0"/>
<ellipse cx="1225" cy="215" rx="12" ry="16" fill="#8a8a50" opacity="0.6"/>
<path d="M1216.6,210.0 C1216.2,216.4 1215.2,236.3 1214.3,248.5 C1213.3,260.7 1212.2,272.3 1210.9,283.2 C1209.6,294.1 1207.0,308.9 1206.2,314.0" fill="none" stroke="#ff8a00" stroke-width="16" stroke-linecap="round" stroke-linejoin="round" opacity="1.0"/>
<path d="M1216.6,213.0 C1216.2,218.9 1215.2,236.8 1214.3,248.5 C1213.3,260.2 1212.0,273.8 1210.9,283.2 C1209.8,292.6 1208.1,301.4 1207.5,305.0" fill="none" stroke="#ffe020" stroke-width="10" stroke-linecap="round" stroke-linejoin="round" opacity="1.0"/>
<path d="M1216.0,220.0 C1215.7,225.0 1214.8,240.0 1214.0,250.0 C1213.2,260.0 1211.5,275.0 1211.0,280.0" fill="none" stroke="#ffffb0" stroke-width="5" stroke-linecap="round" stroke-linejoin="round" opacity="1.0"/>
</g>
<line x1="1200.1" y1="268.1" x2="1226.1" y2="266.9" stroke="#20e030" stroke-width="5"/>
<rect x="1055.9" y="123.9" width="92.2" height="5.9" fill="#fff" stroke="none" stroke-width="1"/>
<text x="1073.6" y="153.5" font-size="21.5" text-anchor="start" fill="#fff" font-weight="bold">500 µm</text>
</g>
<rect x="1055.9" y="110.9" width="418.4" height="418.4" fill="none" stroke="#222" stroke-width="1"/>
<defs><filter id="b07" x="-5%" y="-5%" width="110%" height="110%"><feGaussianBlur stdDeviation="1.6"/></filter></defs>
<defs><clipPath id="clipF"><rect x="16.7" y="1080.1" width="539.9" height="348.2"/></clipPath></defs>
<g clip-path="url(#clipF)"><g filter="url(#b07)">
<path fill="rgb(68,51,197)" shape-rendering="crispEdges" d="M448.7 1107.1h9v9h-9zM34.7 1125.1h9v9h-9zM70.7 1152.1h9v9h-9zM502.7 1152.1h9v9h-9zM502.7 1161.1h9v9h-9zM529.7 1179.1h9v9h-9zM151.7 1197.1h9v9h-9zM412.7 1206.1h9v9h-9zM385.7 1242.1h18v9h-18zM25.7 1314.1h9v9h-9zM295.7 1323.1h9v9h-9zM475.7 1323.1h9v9h-9zM115.7 1341.1h9v9h-9zM61.7 1386.1h9v9h-9zM412.7 1404.1h9v9h-9zM61.7 1413.1h9v9h-9zM115.7 1413.1h9v9h-9zM241.7 1422.1h9v9h-9z"/>
<path fill="rgb(70,56,206)" shape-rendering="crispEdges" d="M106.7 1107.1h18v9h-18zM142.7 1107.1h9v9h-9zM169.7 1107.1h9v9h-9zM412.7 1107.1h9v9h-9zM169.7 1116.1h9v9h-9zM412.7 1116.1h9v9h-9zM79.7 1125.1h9v9h-9zM115.7 1125.1h9v9h-9zM466.7 1125.1h9v9h-9zM16.7 1152.1h9v9h-9zM52.7 1152.1h9v9h-9zM493.7 1152.1h9v9h-9zM52.7 1161.1h9v9h-9zM79.7 1161.1h9v9h-9zM520.7 1188.1h18v9h-18zM115.7 1206.1h9v9h-9zM421.7 1206.1h9v9h-9zM16.7 1215.1h9v9h-9zM115.7 1215.1h9v9h-9zM277.7 1215.1h9v9h-9zM421.7 1215.1h9v9h-9zM16.7 1224.1h9v9h-9zM277.7 1224.1h9v9h-9zM457.7 1224.1h9v9h-9zM79.7 1260.1h18v9h-18zM34.7 1314.1h18v9h-18zM196.7 1314.1h9v9h-9zM187.7 1323.1h18v9h-18zM466.7 1323.1h9v9h-9zM520.7 1323.1h9v9h-9zM115.7 1332.1h9v9h-9zM295.7 1332.1h9v9h-9zM475.7 1332.1h18v9h-18zM511.7 1332.1h18v9h-18zM520.7 1341.1h9v9h-9zM88.7 1350.1h9v9h-9zM511.7 1350.1h9v9h-9zM43.7 1359.1h9v9h-9zM25.7 1368.1h18v9h-18zM34.7 1377.1h27v9h-27zM385.7 1377.1h9v9h-9zM412.7 1377.1h9v9h-9zM430.7 1377.1h9v9h-9zM43.7 1386.1h9v9h-9zM385.7 1386.1h9v9h-9zM412.7 1386.1h9v9h-9zM430.7 1386.1h9v9h-9zM385.7 1395.1h9v9h-9zM403.7 1395.1h9v9h-9zM394.7 1404.1h18v9h-18zM70.7 1413.1h18v9h-18zM241.7 1413.1h9v9h-9zM61.7 1422.1h9v9h-9zM79.7 1422.1h9v9h-9zM250.7 1422.1h9v9h-9zM295.7 1422.1h9v9h-9z"/>
<path fill="rgb(71,63,216)" shape-rendering="crispEdges" d="M169.7 1098.1h9v9h-9zM151.7 1107.1h9v9h-9zM439.7 1107.1h9v9h-9zM97.7 1116.1h9v9h-9zM115.7 1116.1h9v9h-9zM448.7 1116.1h9v9h-9zM88.7 1125.1h9v9h-9zM124.7 1125.1h9v9h-9zM403.7 1125.1h9v9h-9zM25.7 1134.1h9v9h-9zM88.7 1134.1h9v9h-9zM466.7 1134.1h9v9h-9zM484.7 1134.1h9v9h-9zM475.7 1143.1h18v9h-18zM502.7 1143.1h9v9h-9zM61.7 1152.1h9v9h-9zM61.7 1161.1h18v9h-18zM142.7 1197.1h9v9h-9zM124.7 1206.1h9v9h-9zM268.7 1206.1h18v9h-18zM106.7 1215.1h9v9h-9zM124.7 1215.1h9v9h-9zM412.7 1215.1h9v9h-9zM25.7 1224.1h9v9h-9zM268.7 1224.1h9v9h-9zM421.7 1224.1h9v9h-9zM466.7 1224.1h9v9h-9zM457.7 1233.1h9v9h-9zM466.7 1242.1h9v9h-9zM475.7 1251.1h9v9h-9zM70.7 1260.1h9v9h-9zM52.7 1314.1h9v9h-9zM52.7 1323.1h9v9h-9zM97.7 1323.1h9v9h-9zM484.7 1323.1h9v9h-9zM511.7 1323.1h9v9h-9zM52.7 1332.1h9v9h-9zM88.7 1332.1h18v9h-18zM304.7 1332.1h9v9h-9zM88.7 1341.1h9v9h-9zM349.7 1341.1h9v9h-9zM376.7 1377.1h9v9h-9zM403.7 1377.1h9v9h-9zM70.7 1386.1h9v9h-9zM376.7 1386.1h9v9h-9zM394.7 1386.1h18v9h-18zM439.7 1386.1h9v9h-9zM34.7 1395.1h18v9h-18zM70.7 1395.1h9v9h-9zM376.7 1395.1h9v9h-9zM412.7 1395.1h9v9h-9zM70.7 1404.1h9v9h-9zM376.7 1404.1h18v9h-18zM34.7 1413.1h9v9h-9zM88.7 1413.1h9v9h-9zM232.7 1413.1h9v9h-9zM259.7 1413.1h9v9h-9zM97.7 1422.1h36v9h-36zM259.7 1422.1h9v9h-9z"/>
<path fill="rgb(71,69,225)" shape-rendering="crispEdges" d="M106.7 1116.1h9v9h-9zM124.7 1116.1h9v9h-9zM142.7 1116.1h9v9h-9zM439.7 1116.1h9v9h-9zM25.7 1125.1h9v9h-9zM412.7 1125.1h9v9h-9zM538.7 1125.1h9v9h-9zM34.7 1134.1h9v9h-9zM79.7 1134.1h9v9h-9zM475.7 1134.1h9v9h-9zM538.7 1134.1h9v9h-9zM493.7 1143.1h9v9h-9zM79.7 1152.1h9v9h-9zM493.7 1161.1h9v9h-9zM520.7 1179.1h9v9h-9zM133.7 1197.1h9v9h-9zM106.7 1206.1h9v9h-9zM25.7 1215.1h9v9h-9zM268.7 1215.1h9v9h-9zM412.7 1224.1h9v9h-9zM466.7 1233.1h9v9h-9zM457.7 1242.1h9v9h-9zM475.7 1242.1h18v9h-18zM484.7 1251.1h9v9h-9zM187.7 1314.1h9v9h-9zM205.7 1314.1h9v9h-9zM286.7 1314.1h9v9h-9zM88.7 1323.1h9v9h-9zM205.7 1323.1h9v9h-9zM304.7 1323.1h9v9h-9zM349.7 1332.1h18v9h-18zM466.7 1332.1h9v9h-9zM97.7 1341.1h9v9h-9zM358.7 1341.1h9v9h-9zM511.7 1341.1h9v9h-9zM97.7 1350.1h9v9h-9zM520.7 1350.1h9v9h-9zM25.7 1359.1h18v9h-18zM43.7 1368.1h9v9h-9zM25.7 1377.1h9v9h-9zM61.7 1377.1h18v9h-18zM394.7 1377.1h9v9h-9zM439.7 1377.1h9v9h-9zM34.7 1386.1h9v9h-9zM52.7 1386.1h9v9h-9zM52.7 1395.1h18v9h-18zM133.7 1395.1h9v9h-9zM394.7 1395.1h9v9h-9zM493.7 1395.1h9v9h-9zM133.7 1404.1h9v9h-9zM430.7 1404.1h9v9h-9zM16.7 1413.1h9v9h-9zM97.7 1413.1h18v9h-18zM250.7 1413.1h9v9h-9zM466.7 1413.1h9v9h-9zM511.7 1413.1h9v9h-9zM52.7 1422.1h9v9h-9zM70.7 1422.1h9v9h-9zM88.7 1422.1h9v9h-9zM232.7 1422.1h9v9h-9zM286.7 1422.1h9v9h-9zM304.7 1422.1h9v9h-9zM412.7 1422.1h9v9h-9zM484.7 1422.1h9v9h-9z"/>
<path fill="rgb(72,76,235)" shape-rendering="crispEdges" d="M520.7 1080.1h9v9h-9zM97.7 1377.1h9v9h-9zM187.7 1386.1h9v9h-9zM88.7 1404.1h9v9h-9zM439.7 1404.1h9v9h-9zM43.7 1413.1h9v9h-9zM151.7 1413.1h9v9h-9zM214.7 1413.1h9v9h-9zM394.7 1413.1h9v9h-9zM421.7 1413.1h18v9h-18zM448.7 1413.1h9v9h-9zM475.7 1413.1h9v9h-9zM34.7 1422.1h9v9h-9zM160.7 1422.1h9v9h-9zM403.7 1422.1h9v9h-9zM439.7 1422.1h27v9h-27zM493.7 1422.1h9v9h-9zM511.7 1422.1h18v9h-18z"/>
<path fill="rgb(72,82,244)" shape-rendering="crispEdges" d="M79.7 1080.1h9v9h-9zM466.7 1359.1h9v9h-9zM475.7 1368.1h9v9h-9zM529.7 1368.1h9v9h-9zM115.7 1377.1h18v9h-18zM484.7 1377.1h9v9h-9zM511.7 1377.1h9v9h-9zM547.7 1377.1h9v9h-9zM16.7 1386.1h18v9h-18zM97.7 1386.1h9v9h-9zM133.7 1386.1h9v9h-9zM475.7 1386.1h18v9h-18zM520.7 1386.1h9v9h-9zM88.7 1395.1h9v9h-9zM106.7 1395.1h9v9h-9zM124.7 1395.1h9v9h-9zM142.7 1395.1h9v9h-9zM457.7 1395.1h18v9h-18zM484.7 1395.1h9v9h-9zM520.7 1395.1h9v9h-9zM538.7 1395.1h18v9h-18zM25.7 1404.1h9v9h-9zM43.7 1404.1h9v9h-9zM61.7 1404.1h9v9h-9zM79.7 1404.1h9v9h-9zM106.7 1404.1h9v9h-9zM124.7 1404.1h9v9h-9zM142.7 1404.1h9v9h-9zM160.7 1404.1h9v9h-9zM448.7 1404.1h9v9h-9zM502.7 1404.1h9v9h-9zM538.7 1404.1h9v9h-9zM25.7 1413.1h9v9h-9zM142.7 1413.1h9v9h-9zM376.7 1413.1h9v9h-9zM403.7 1413.1h9v9h-9zM457.7 1413.1h9v9h-9zM484.7 1413.1h9v9h-9zM547.7 1413.1h9v9h-9zM16.7 1422.1h9v9h-9zM43.7 1422.1h9v9h-9zM133.7 1422.1h9v9h-9zM187.7 1422.1h9v9h-9zM268.7 1422.1h9v9h-9zM376.7 1422.1h9v9h-9zM421.7 1422.1h9v9h-9zM466.7 1422.1h9v9h-9zM502.7 1422.1h9v9h-9z"/>
<path fill="rgb(69,89,246)" shape-rendering="crispEdges" d="M25.7 1080.1h9v9h-9zM52.7 1080.1h9v9h-9zM502.7 1080.1h18v9h-18zM529.7 1080.1h18v9h-18zM25.7 1089.1h9v9h-9zM502.7 1089.1h9v9h-9zM511.7 1305.1h9v9h-9zM511.7 1314.1h9v9h-9zM34.7 1350.1h9v9h-9zM502.7 1350.1h9v9h-9zM70.7 1359.1h9v9h-9zM133.7 1359.1h9v9h-9zM169.7 1359.1h9v9h-9zM421.7 1359.1h9v9h-9zM448.7 1359.1h9v9h-9zM52.7 1368.1h18v9h-18zM79.7 1368.1h9v9h-9zM97.7 1368.1h18v9h-18zM124.7 1368.1h9v9h-9zM142.7 1368.1h18v9h-18zM439.7 1368.1h9v9h-9zM538.7 1368.1h18v9h-18zM16.7 1377.1h9v9h-9zM106.7 1377.1h9v9h-9zM529.7 1377.1h9v9h-9zM79.7 1386.1h18v9h-18zM115.7 1386.1h9v9h-9zM142.7 1386.1h9v9h-9zM178.7 1386.1h9v9h-9zM448.7 1386.1h27v9h-27zM502.7 1386.1h9v9h-9zM25.7 1395.1h9v9h-9zM79.7 1395.1h9v9h-9zM115.7 1395.1h9v9h-9zM151.7 1395.1h9v9h-9zM277.7 1395.1h9v9h-9zM367.7 1395.1h9v9h-9zM430.7 1395.1h9v9h-9zM448.7 1395.1h9v9h-9zM511.7 1395.1h9v9h-9zM34.7 1404.1h9v9h-9zM52.7 1404.1h9v9h-9zM97.7 1404.1h9v9h-9zM151.7 1404.1h9v9h-9zM169.7 1404.1h9v9h-9zM187.7 1404.1h9v9h-9zM214.7 1404.1h18v9h-18zM259.7 1404.1h9v9h-9zM367.7 1404.1h9v9h-9zM421.7 1404.1h9v9h-9zM457.7 1404.1h27v9h-27zM493.7 1404.1h9v9h-9zM52.7 1413.1h9v9h-9zM124.7 1413.1h9v9h-9zM160.7 1413.1h9v9h-9zM187.7 1413.1h9v9h-9zM277.7 1413.1h9v9h-9zM367.7 1413.1h9v9h-9zM385.7 1413.1h9v9h-9zM412.7 1413.1h9v9h-9zM439.7 1413.1h9v9h-9zM502.7 1413.1h9v9h-9zM520.7 1413.1h9v9h-9zM538.7 1413.1h9v9h-9zM142.7 1422.1h18v9h-18zM196.7 1422.1h18v9h-18zM277.7 1422.1h9v9h-9zM340.7 1422.1h9v9h-9zM367.7 1422.1h9v9h-9zM430.7 1422.1h9v9h-9zM475.7 1422.1h9v9h-9zM529.7 1422.1h18v9h-18z"/>
<path fill="rgb(66,95,248)" shape-rendering="crispEdges" d="M34.7 1080.1h18v9h-18zM61.7 1080.1h18v9h-18zM106.7 1080.1h9v9h-9zM484.7 1080.1h18v9h-18zM70.7 1089.1h9v9h-9zM520.7 1089.1h27v9h-27zM538.7 1098.1h9v9h-9zM538.7 1305.1h9v9h-9zM61.7 1323.1h9v9h-9zM403.7 1323.1h9v9h-9zM502.7 1323.1h9v9h-9zM133.7 1341.1h9v9h-9zM439.7 1341.1h9v9h-9zM529.7 1341.1h18v9h-18zM52.7 1350.1h18v9h-18zM79.7 1350.1h9v9h-9zM142.7 1350.1h9v9h-9zM439.7 1350.1h9v9h-9zM457.7 1350.1h18v9h-18zM493.7 1350.1h9v9h-9zM529.7 1350.1h9v9h-9zM61.7 1359.1h9v9h-9zM97.7 1359.1h9v9h-9zM124.7 1359.1h9v9h-9zM142.7 1359.1h9v9h-9zM205.7 1359.1h9v9h-9zM412.7 1359.1h9v9h-9zM430.7 1359.1h18v9h-18zM457.7 1359.1h9v9h-9zM475.7 1359.1h27v9h-27zM511.7 1359.1h9v9h-9zM538.7 1359.1h18v9h-18zM133.7 1368.1h9v9h-9zM178.7 1368.1h18v9h-18zM421.7 1368.1h18v9h-18zM448.7 1368.1h9v9h-9zM511.7 1368.1h18v9h-18zM79.7 1377.1h18v9h-18zM133.7 1377.1h18v9h-18zM286.7 1377.1h9v9h-9zM313.7 1377.1h9v9h-9zM448.7 1377.1h36v9h-36zM493.7 1377.1h18v9h-18zM124.7 1386.1h9v9h-9zM151.7 1386.1h27v9h-27zM196.7 1386.1h18v9h-18zM340.7 1386.1h9v9h-9zM421.7 1386.1h9v9h-9zM493.7 1386.1h9v9h-9zM538.7 1386.1h18v9h-18zM16.7 1395.1h9v9h-9zM160.7 1395.1h18v9h-18zM232.7 1395.1h9v9h-9zM250.7 1395.1h9v9h-9zM322.7 1395.1h9v9h-9zM421.7 1395.1h9v9h-9zM475.7 1395.1h9v9h-9zM502.7 1395.1h9v9h-9zM529.7 1395.1h9v9h-9zM16.7 1404.1h9v9h-9zM115.7 1404.1h9v9h-9zM205.7 1404.1h9v9h-9zM232.7 1404.1h9v9h-9zM250.7 1404.1h9v9h-9zM268.7 1404.1h9v9h-9zM286.7 1404.1h9v9h-9zM322.7 1404.1h9v9h-9zM358.7 1404.1h9v9h-9zM484.7 1404.1h9v9h-9zM529.7 1404.1h9v9h-9zM547.7 1404.1h9v9h-9zM133.7 1413.1h9v9h-9zM169.7 1413.1h18v9h-18zM196.7 1413.1h9v9h-9zM322.7 1413.1h18v9h-18zM349.7 1413.1h18v9h-18zM493.7 1413.1h9v9h-9zM529.7 1413.1h9v9h-9zM25.7 1422.1h9v9h-9zM169.7 1422.1h18v9h-18zM214.7 1422.1h9v9h-9zM322.7 1422.1h18v9h-18zM394.7 1422.1h9v9h-9zM547.7 1422.1h9v9h-9z"/>
<path fill="rgb(63,102,250)" shape-rendering="crispEdges" d="M97.7 1080.1h9v9h-9zM115.7 1080.1h9v9h-9zM457.7 1080.1h9v9h-9zM475.7 1080.1h9v9h-9zM547.7 1080.1h9v9h-9zM16.7 1089.1h9v9h-9zM34.7 1089.1h9v9h-9zM52.7 1089.1h18v9h-18zM79.7 1089.1h9v9h-9zM97.7 1089.1h9v9h-9zM511.7 1089.1h9v9h-9zM502.7 1098.1h9v9h-9zM547.7 1134.1h9v9h-9zM520.7 1233.1h9v9h-9zM484.7 1287.1h9v9h-9zM538.7 1287.1h9v9h-9zM16.7 1296.1h9v9h-9zM142.7 1305.1h9v9h-9zM106.7 1314.1h9v9h-9zM502.7 1314.1h9v9h-9zM16.7 1323.1h9v9h-9zM34.7 1323.1h9v9h-9zM142.7 1323.1h9v9h-9zM349.7 1323.1h9v9h-9zM421.7 1323.1h9v9h-9zM493.7 1323.1h9v9h-9zM16.7 1332.1h9v9h-9zM79.7 1332.1h9v9h-9zM160.7 1332.1h9v9h-9zM223.7 1332.1h9v9h-9zM439.7 1332.1h9v9h-9zM538.7 1332.1h9v9h-9zM16.7 1341.1h9v9h-9zM43.7 1341.1h45v9h-45zM124.7 1341.1h9v9h-9zM142.7 1341.1h18v9h-18zM169.7 1341.1h18v9h-18zM394.7 1341.1h9v9h-9zM457.7 1341.1h45v9h-45zM43.7 1350.1h9v9h-9zM70.7 1350.1h9v9h-9zM106.7 1350.1h9v9h-9zM133.7 1350.1h9v9h-9zM151.7 1350.1h18v9h-18zM178.7 1350.1h9v9h-9zM196.7 1350.1h9v9h-9zM250.7 1350.1h9v9h-9zM385.7 1350.1h9v9h-9zM421.7 1350.1h9v9h-9zM538.7 1350.1h9v9h-9zM79.7 1359.1h9v9h-9zM151.7 1359.1h9v9h-9zM196.7 1359.1h9v9h-9zM259.7 1359.1h9v9h-9zM340.7 1359.1h9v9h-9zM358.7 1359.1h9v9h-9zM376.7 1359.1h9v9h-9zM394.7 1359.1h9v9h-9zM520.7 1359.1h18v9h-18zM16.7 1368.1h9v9h-9zM70.7 1368.1h9v9h-9zM88.7 1368.1h9v9h-9zM115.7 1368.1h9v9h-9zM205.7 1368.1h18v9h-18zM232.7 1368.1h9v9h-9zM340.7 1368.1h9v9h-9zM358.7 1368.1h27v9h-27zM394.7 1368.1h9v9h-9zM457.7 1368.1h9v9h-9zM484.7 1368.1h18v9h-18zM169.7 1377.1h36v9h-36zM214.7 1377.1h9v9h-9zM277.7 1377.1h9v9h-9zM304.7 1377.1h9v9h-9zM331.7 1377.1h9v9h-9zM358.7 1377.1h9v9h-9zM520.7 1377.1h9v9h-9zM538.7 1377.1h9v9h-9zM106.7 1386.1h9v9h-9zM214.7 1386.1h9v9h-9zM511.7 1386.1h9v9h-9zM529.7 1386.1h9v9h-9zM97.7 1395.1h9v9h-9zM178.7 1395.1h18v9h-18zM205.7 1395.1h27v9h-27zM259.7 1395.1h9v9h-9zM295.7 1395.1h9v9h-9zM313.7 1395.1h9v9h-9zM340.7 1395.1h9v9h-9zM358.7 1395.1h9v9h-9zM178.7 1404.1h9v9h-9zM196.7 1404.1h9v9h-9zM241.7 1404.1h9v9h-9zM277.7 1404.1h9v9h-9zM295.7 1404.1h9v9h-9zM313.7 1404.1h9v9h-9zM331.7 1404.1h9v9h-9zM349.7 1404.1h9v9h-9zM511.7 1404.1h18v9h-18zM205.7 1413.1h9v9h-9zM268.7 1413.1h9v9h-9zM295.7 1413.1h9v9h-9zM313.7 1413.1h9v9h-9zM340.7 1413.1h9v9h-9zM313.7 1422.1h9v9h-9zM349.7 1422.1h18v9h-18zM385.7 1422.1h9v9h-9z"/>
<path fill="rgb(60,109,252)" shape-rendering="crispEdges" d="M16.7 1080.1h9v9h-9zM88.7 1080.1h9v9h-9zM133.7 1080.1h9v9h-9zM151.7 1080.1h9v9h-9zM88.7 1089.1h9v9h-9zM457.7 1089.1h45v9h-45zM547.7 1089.1h9v9h-9zM16.7 1098.1h18v9h-18zM511.7 1098.1h9v9h-9zM61.7 1107.1h9v9h-9zM25.7 1116.1h9v9h-9zM493.7 1125.1h9v9h-9zM520.7 1125.1h9v9h-9zM34.7 1170.1h9v9h-9zM547.7 1170.1h9v9h-9zM16.7 1188.1h9v9h-9zM34.7 1188.1h9v9h-9zM529.7 1224.1h9v9h-9zM538.7 1233.1h9v9h-9zM511.7 1260.1h9v9h-9zM520.7 1269.1h9v9h-9zM538.7 1269.1h9v9h-9zM511.7 1278.1h9v9h-9zM538.7 1278.1h9v9h-9zM430.7 1287.1h9v9h-9zM493.7 1287.1h9v9h-9zM547.7 1287.1h9v9h-9zM25.7 1296.1h9v9h-9zM403.7 1296.1h9v9h-9zM466.7 1296.1h18v9h-18zM511.7 1296.1h9v9h-9zM34.7 1305.1h9v9h-9zM79.7 1305.1h9v9h-9zM169.7 1305.1h9v9h-9zM466.7 1305.1h9v9h-9zM484.7 1305.1h9v9h-9zM529.7 1305.1h9v9h-9zM349.7 1314.1h9v9h-9zM466.7 1314.1h9v9h-9zM484.7 1314.1h9v9h-9zM520.7 1314.1h9v9h-9zM25.7 1323.1h9v9h-9zM43.7 1323.1h9v9h-9zM124.7 1323.1h9v9h-9zM160.7 1323.1h18v9h-18zM340.7 1323.1h9v9h-9zM412.7 1323.1h9v9h-9zM439.7 1323.1h18v9h-18zM538.7 1323.1h9v9h-9zM25.7 1332.1h9v9h-9zM133.7 1332.1h9v9h-9zM232.7 1332.1h9v9h-9zM331.7 1332.1h18v9h-18zM367.7 1332.1h45v9h-45zM421.7 1332.1h18v9h-18zM448.7 1332.1h9v9h-9zM493.7 1332.1h18v9h-18zM529.7 1332.1h9v9h-9zM547.7 1332.1h9v9h-9zM25.7 1341.1h9v9h-9zM160.7 1341.1h9v9h-9zM223.7 1341.1h9v9h-9zM331.7 1341.1h18v9h-18zM385.7 1341.1h9v9h-9zM412.7 1341.1h9v9h-9zM430.7 1341.1h9v9h-9zM448.7 1341.1h9v9h-9zM502.7 1341.1h9v9h-9zM547.7 1341.1h9v9h-9zM16.7 1350.1h9v9h-9zM115.7 1350.1h9v9h-9zM187.7 1350.1h9v9h-9zM205.7 1350.1h9v9h-9zM232.7 1350.1h9v9h-9zM259.7 1350.1h18v9h-18zM304.7 1350.1h9v9h-9zM322.7 1350.1h9v9h-9zM358.7 1350.1h27v9h-27zM403.7 1350.1h18v9h-18zM430.7 1350.1h9v9h-9zM475.7 1350.1h18v9h-18zM547.7 1350.1h9v9h-9zM16.7 1359.1h9v9h-9zM52.7 1359.1h9v9h-9zM88.7 1359.1h9v9h-9zM106.7 1359.1h18v9h-18zM160.7 1359.1h9v9h-9zM214.7 1359.1h9v9h-9zM322.7 1359.1h9v9h-9zM385.7 1359.1h9v9h-9zM403.7 1359.1h9v9h-9zM160.7 1368.1h18v9h-18zM241.7 1368.1h9v9h-9zM268.7 1368.1h9v9h-9zM295.7 1368.1h9v9h-9zM313.7 1368.1h9v9h-9zM349.7 1368.1h9v9h-9zM385.7 1368.1h9v9h-9zM403.7 1368.1h9v9h-9zM466.7 1368.1h9v9h-9zM151.7 1377.1h9v9h-9zM205.7 1377.1h9v9h-9zM223.7 1377.1h18v9h-18zM268.7 1377.1h9v9h-9zM295.7 1377.1h9v9h-9zM322.7 1377.1h9v9h-9zM367.7 1377.1h9v9h-9zM421.7 1377.1h9v9h-9zM223.7 1386.1h9v9h-9zM241.7 1386.1h9v9h-9zM286.7 1386.1h27v9h-27zM349.7 1386.1h27v9h-27zM196.7 1395.1h9v9h-9zM268.7 1395.1h9v9h-9zM304.7 1395.1h9v9h-9zM331.7 1395.1h9v9h-9zM349.7 1395.1h9v9h-9zM439.7 1395.1h9v9h-9zM223.7 1413.1h9v9h-9zM286.7 1413.1h9v9h-9zM304.7 1413.1h9v9h-9zM223.7 1422.1h9v9h-9z"/>
<path fill="rgb(57,115,251)" shape-rendering="crispEdges" d="M124.7 1080.1h9v9h-9zM142.7 1080.1h9v9h-9zM421.7 1080.1h9v9h-9zM448.7 1080.1h9v9h-9zM466.7 1080.1h9v9h-9zM43.7 1089.1h9v9h-9zM115.7 1089.1h9v9h-9zM43.7 1098.1h18v9h-18zM457.7 1098.1h18v9h-18zM484.7 1098.1h9v9h-9zM520.7 1098.1h18v9h-18zM547.7 1098.1h9v9h-9zM16.7 1107.1h9v9h-9zM70.7 1107.1h9v9h-9zM529.7 1107.1h18v9h-18zM547.7 1116.1h9v9h-9zM547.7 1125.1h9v9h-9zM493.7 1134.1h9v9h-9zM16.7 1143.1h18v9h-18zM529.7 1143.1h9v9h-9zM547.7 1143.1h9v9h-9zM511.7 1152.1h9v9h-9zM538.7 1152.1h9v9h-9zM43.7 1161.1h9v9h-9zM25.7 1170.1h9v9h-9zM43.7 1170.1h9v9h-9zM16.7 1179.1h18v9h-18zM502.7 1188.1h9v9h-9zM25.7 1197.1h9v9h-9zM61.7 1197.1h9v9h-9zM529.7 1197.1h9v9h-9zM79.7 1206.1h9v9h-9zM529.7 1206.1h18v9h-18zM547.7 1215.1h9v9h-9zM493.7 1224.1h9v9h-9zM25.7 1233.1h9v9h-9zM439.7 1233.1h9v9h-9zM547.7 1233.1h9v9h-9zM25.7 1242.1h9v9h-9zM502.7 1242.1h9v9h-9zM538.7 1242.1h18v9h-18zM439.7 1251.1h9v9h-9zM457.7 1251.1h9v9h-9zM502.7 1251.1h9v9h-9zM520.7 1251.1h9v9h-9zM529.7 1260.1h27v9h-27zM502.7 1269.1h18v9h-18zM403.7 1278.1h9v9h-9zM430.7 1278.1h9v9h-9zM466.7 1278.1h9v9h-9zM484.7 1278.1h27v9h-27zM520.7 1278.1h18v9h-18zM547.7 1278.1h9v9h-9zM25.7 1287.1h9v9h-9zM61.7 1287.1h9v9h-9zM160.7 1287.1h9v9h-9zM439.7 1287.1h9v9h-9zM457.7 1287.1h9v9h-9zM502.7 1287.1h9v9h-9zM529.7 1287.1h9v9h-9zM52.7 1296.1h9v9h-9zM376.7 1296.1h9v9h-9zM421.7 1296.1h9v9h-9zM448.7 1296.1h9v9h-9zM484.7 1296.1h9v9h-9zM502.7 1296.1h9v9h-9zM529.7 1296.1h9v9h-9zM547.7 1296.1h9v9h-9zM25.7 1305.1h9v9h-9zM61.7 1305.1h18v9h-18zM97.7 1305.1h9v9h-9zM115.7 1305.1h9v9h-9zM133.7 1305.1h9v9h-9zM196.7 1305.1h9v9h-9zM214.7 1305.1h9v9h-9zM367.7 1305.1h9v9h-9zM385.7 1305.1h9v9h-9zM430.7 1305.1h18v9h-18zM475.7 1305.1h9v9h-9zM493.7 1305.1h9v9h-9zM520.7 1305.1h9v9h-9zM547.7 1305.1h9v9h-9zM16.7 1314.1h9v9h-9zM61.7 1314.1h9v9h-9zM124.7 1314.1h9v9h-9zM151.7 1314.1h9v9h-9zM214.7 1314.1h9v9h-9zM322.7 1314.1h18v9h-18zM412.7 1314.1h18v9h-18zM448.7 1314.1h18v9h-18zM475.7 1314.1h9v9h-9zM493.7 1314.1h9v9h-9zM529.7 1314.1h9v9h-9zM547.7 1314.1h9v9h-9zM70.7 1323.1h18v9h-18zM115.7 1323.1h9v9h-9zM223.7 1323.1h9v9h-9zM241.7 1323.1h18v9h-18zM358.7 1323.1h9v9h-9zM385.7 1323.1h18v9h-18zM430.7 1323.1h9v9h-9zM457.7 1323.1h9v9h-9zM529.7 1323.1h9v9h-9zM547.7 1323.1h9v9h-9zM61.7 1332.1h18v9h-18zM106.7 1332.1h9v9h-9zM124.7 1332.1h9v9h-9zM169.7 1332.1h18v9h-18zM196.7 1332.1h9v9h-9zM277.7 1332.1h9v9h-9zM412.7 1332.1h9v9h-9zM457.7 1332.1h9v9h-9zM106.7 1341.1h9v9h-9zM187.7 1341.1h9v9h-9zM205.7 1341.1h18v9h-18zM232.7 1341.1h9v9h-9zM250.7 1341.1h9v9h-9zM286.7 1341.1h18v9h-18zM376.7 1341.1h9v9h-9zM403.7 1341.1h9v9h-9zM25.7 1350.1h9v9h-9zM124.7 1350.1h9v9h-9zM169.7 1350.1h9v9h-9zM214.7 1350.1h9v9h-9zM277.7 1350.1h9v9h-9zM340.7 1350.1h18v9h-18zM394.7 1350.1h9v9h-9zM223.7 1359.1h9v9h-9zM250.7 1359.1h9v9h-9zM286.7 1359.1h36v9h-36zM331.7 1359.1h9v9h-9zM367.7 1359.1h9v9h-9zM502.7 1359.1h9v9h-9zM223.7 1368.1h9v9h-9zM286.7 1368.1h9v9h-9zM304.7 1368.1h9v9h-9zM322.7 1368.1h18v9h-18zM412.7 1368.1h9v9h-9zM502.7 1368.1h9v9h-9zM160.7 1377.1h9v9h-9zM241.7 1377.1h9v9h-9zM340.7 1377.1h9v9h-9zM250.7 1386.1h36v9h-36zM322.7 1386.1h9v9h-9zM241.7 1395.1h9v9h-9zM286.7 1395.1h9v9h-9zM304.7 1404.1h9v9h-9zM340.7 1404.1h9v9h-9z"/>
<path fill="rgb(53,122,250)" shape-rendering="crispEdges" d="M412.7 1080.1h9v9h-9zM124.7 1089.1h9v9h-9zM34.7 1098.1h9v9h-9zM61.7 1098.1h27v9h-27zM106.7 1098.1h9v9h-9zM448.7 1098.1h9v9h-9zM475.7 1098.1h9v9h-9zM493.7 1098.1h9v9h-9zM25.7 1107.1h18v9h-18zM52.7 1107.1h9v9h-9zM475.7 1107.1h9v9h-9zM493.7 1107.1h18v9h-18zM547.7 1107.1h9v9h-9zM16.7 1116.1h9v9h-9zM61.7 1116.1h9v9h-9zM493.7 1116.1h18v9h-18zM529.7 1116.1h9v9h-9zM97.7 1125.1h9v9h-9zM529.7 1125.1h9v9h-9zM52.7 1134.1h18v9h-18zM97.7 1134.1h9v9h-9zM520.7 1134.1h18v9h-18zM43.7 1143.1h18v9h-18zM70.7 1143.1h9v9h-9zM34.7 1152.1h9v9h-9zM484.7 1152.1h9v9h-9zM547.7 1152.1h9v9h-9zM16.7 1161.1h18v9h-18zM511.7 1161.1h9v9h-9zM547.7 1161.1h9v9h-9zM16.7 1170.1h9v9h-9zM61.7 1170.1h9v9h-9zM529.7 1170.1h9v9h-9zM52.7 1179.1h18v9h-18zM97.7 1179.1h9v9h-9zM538.7 1179.1h9v9h-9zM25.7 1188.1h9v9h-9zM61.7 1188.1h9v9h-9zM115.7 1188.1h9v9h-9zM16.7 1197.1h9v9h-9zM43.7 1197.1h18v9h-18zM79.7 1197.1h9v9h-9zM502.7 1197.1h18v9h-18zM538.7 1197.1h9v9h-9zM25.7 1206.1h9v9h-9zM43.7 1206.1h9v9h-9zM448.7 1206.1h9v9h-9zM484.7 1206.1h9v9h-9zM511.7 1206.1h9v9h-9zM34.7 1215.1h9v9h-9zM88.7 1215.1h9v9h-9zM448.7 1215.1h9v9h-9zM484.7 1215.1h9v9h-9zM511.7 1215.1h9v9h-9zM79.7 1224.1h9v9h-9zM502.7 1224.1h9v9h-9zM16.7 1233.1h9v9h-9zM475.7 1233.1h18v9h-18zM511.7 1233.1h9v9h-9zM16.7 1242.1h9v9h-9zM34.7 1242.1h9v9h-9zM151.7 1251.1h9v9h-9zM412.7 1251.1h9v9h-9zM511.7 1251.1h9v9h-9zM529.7 1251.1h9v9h-9zM547.7 1251.1h9v9h-9zM16.7 1260.1h9v9h-9zM439.7 1260.1h18v9h-18zM475.7 1260.1h18v9h-18zM106.7 1269.1h9v9h-9zM133.7 1269.1h9v9h-9zM457.7 1269.1h18v9h-18zM484.7 1269.1h9v9h-9zM547.7 1269.1h9v9h-9zM16.7 1278.1h9v9h-9zM43.7 1278.1h9v9h-9zM61.7 1278.1h9v9h-9zM88.7 1278.1h9v9h-9zM412.7 1278.1h9v9h-9zM457.7 1278.1h9v9h-9zM475.7 1278.1h9v9h-9zM16.7 1287.1h9v9h-9zM34.7 1287.1h9v9h-9zM52.7 1287.1h9v9h-9zM106.7 1287.1h9v9h-9zM124.7 1287.1h9v9h-9zM169.7 1287.1h9v9h-9zM214.7 1287.1h9v9h-9zM412.7 1287.1h9v9h-9zM448.7 1287.1h9v9h-9zM520.7 1287.1h9v9h-9zM88.7 1296.1h9v9h-9zM124.7 1296.1h18v9h-18zM151.7 1296.1h9v9h-9zM385.7 1296.1h18v9h-18zM430.7 1296.1h18v9h-18zM493.7 1296.1h9v9h-9zM520.7 1296.1h9v9h-9zM16.7 1305.1h9v9h-9zM43.7 1305.1h9v9h-9zM106.7 1305.1h9v9h-9zM124.7 1305.1h9v9h-9zM151.7 1305.1h9v9h-9zM178.7 1305.1h18v9h-18zM241.7 1305.1h9v9h-9zM322.7 1305.1h9v9h-9zM358.7 1305.1h9v9h-9zM376.7 1305.1h9v9h-9zM394.7 1305.1h9v9h-9zM421.7 1305.1h9v9h-9zM448.7 1305.1h18v9h-18zM502.7 1305.1h9v9h-9zM79.7 1314.1h27v9h-27zM133.7 1314.1h18v9h-18zM160.7 1314.1h9v9h-9zM178.7 1314.1h9v9h-9zM367.7 1314.1h45v9h-45zM439.7 1314.1h9v9h-9zM133.7 1323.1h9v9h-9zM151.7 1323.1h9v9h-9zM178.7 1323.1h9v9h-9zM214.7 1323.1h9v9h-9zM259.7 1323.1h18v9h-18zM313.7 1323.1h18v9h-18zM367.7 1323.1h18v9h-18zM142.7 1332.1h18v9h-18zM187.7 1332.1h9v9h-9zM205.7 1332.1h18v9h-18zM241.7 1332.1h18v9h-18zM313.7 1332.1h18v9h-18zM196.7 1341.1h9v9h-9zM241.7 1341.1h9v9h-9zM268.7 1341.1h18v9h-18zM304.7 1341.1h27v9h-27zM367.7 1341.1h9v9h-9zM421.7 1341.1h9v9h-9zM241.7 1350.1h9v9h-9zM286.7 1350.1h18v9h-18zM313.7 1350.1h9v9h-9zM178.7 1359.1h18v9h-18zM232.7 1359.1h18v9h-18zM268.7 1359.1h18v9h-18zM349.7 1359.1h9v9h-9zM250.7 1368.1h18v9h-18zM277.7 1368.1h9v9h-9zM250.7 1377.1h18v9h-18zM349.7 1377.1h9v9h-9zM232.7 1386.1h9v9h-9zM313.7 1386.1h9v9h-9zM331.7 1386.1h9v9h-9z"/>
<path fill="rgb(50,128,248)" shape-rendering="crispEdges" d="M160.7 1080.1h18v9h-18zM187.7 1080.1h9v9h-9zM430.7 1080.1h9v9h-9zM106.7 1089.1h9v9h-9zM151.7 1089.1h9v9h-9zM421.7 1089.1h9v9h-9zM439.7 1089.1h9v9h-9zM88.7 1098.1h18v9h-18zM115.7 1098.1h18v9h-18zM142.7 1098.1h18v9h-18zM430.7 1098.1h9v9h-9zM88.7 1107.1h9v9h-9zM466.7 1107.1h9v9h-9zM484.7 1107.1h9v9h-9zM511.7 1107.1h18v9h-18zM43.7 1116.1h9v9h-9zM79.7 1116.1h18v9h-18zM475.7 1116.1h9v9h-9zM16.7 1125.1h9v9h-9zM43.7 1125.1h9v9h-9zM61.7 1125.1h18v9h-18zM484.7 1125.1h9v9h-9zM502.7 1125.1h18v9h-18zM16.7 1134.1h9v9h-9zM43.7 1134.1h9v9h-9zM70.7 1134.1h9v9h-9zM115.7 1134.1h9v9h-9zM502.7 1134.1h9v9h-9zM34.7 1143.1h9v9h-9zM61.7 1143.1h9v9h-9zM88.7 1143.1h9v9h-9zM538.7 1143.1h9v9h-9zM25.7 1152.1h9v9h-9zM88.7 1152.1h9v9h-9zM529.7 1152.1h9v9h-9zM484.7 1161.1h9v9h-9zM520.7 1161.1h18v9h-18zM52.7 1170.1h9v9h-9zM88.7 1170.1h9v9h-9zM484.7 1170.1h18v9h-18zM511.7 1170.1h18v9h-18zM43.7 1179.1h9v9h-9zM88.7 1179.1h9v9h-9zM106.7 1179.1h9v9h-9zM466.7 1179.1h18v9h-18zM43.7 1188.1h9v9h-9zM70.7 1188.1h9v9h-9zM97.7 1188.1h18v9h-18zM457.7 1188.1h9v9h-9zM475.7 1188.1h27v9h-27zM538.7 1188.1h18v9h-18zM70.7 1197.1h9v9h-9zM88.7 1197.1h9v9h-9zM448.7 1197.1h27v9h-27zM484.7 1197.1h18v9h-18zM16.7 1206.1h9v9h-9zM34.7 1206.1h9v9h-9zM52.7 1206.1h9v9h-9zM466.7 1206.1h18v9h-18zM502.7 1206.1h9v9h-9zM43.7 1215.1h9v9h-9zM79.7 1215.1h9v9h-9zM475.7 1215.1h9v9h-9zM502.7 1215.1h9v9h-9zM529.7 1215.1h18v9h-18zM133.7 1224.1h9v9h-9zM439.7 1224.1h9v9h-9zM475.7 1224.1h18v9h-18zM511.7 1224.1h9v9h-9zM547.7 1224.1h9v9h-9zM43.7 1233.1h9v9h-9zM70.7 1233.1h9v9h-9zM493.7 1233.1h9v9h-9zM529.7 1233.1h9v9h-9zM43.7 1242.1h18v9h-18zM79.7 1242.1h9v9h-9zM430.7 1242.1h18v9h-18zM493.7 1242.1h9v9h-9zM511.7 1242.1h27v9h-27zM25.7 1251.1h9v9h-9zM43.7 1251.1h9v9h-9zM160.7 1251.1h18v9h-18zM466.7 1251.1h9v9h-9zM493.7 1251.1h9v9h-9zM25.7 1260.1h18v9h-18zM169.7 1260.1h9v9h-9zM412.7 1260.1h9v9h-9zM430.7 1260.1h9v9h-9zM466.7 1260.1h9v9h-9zM493.7 1260.1h18v9h-18zM520.7 1260.1h9v9h-9zM52.7 1269.1h9v9h-9zM79.7 1269.1h9v9h-9zM169.7 1269.1h9v9h-9zM358.7 1269.1h9v9h-9zM385.7 1269.1h9v9h-9zM412.7 1269.1h45v9h-45zM475.7 1269.1h9v9h-9zM493.7 1269.1h9v9h-9zM529.7 1269.1h9v9h-9zM97.7 1278.1h9v9h-9zM133.7 1278.1h18v9h-18zM160.7 1278.1h36v9h-36zM367.7 1278.1h9v9h-9zM394.7 1278.1h9v9h-9zM439.7 1278.1h18v9h-18zM43.7 1287.1h9v9h-9zM115.7 1287.1h9v9h-9zM142.7 1287.1h9v9h-9zM178.7 1287.1h9v9h-9zM232.7 1287.1h9v9h-9zM331.7 1287.1h9v9h-9zM385.7 1287.1h18v9h-18zM511.7 1287.1h9v9h-9zM34.7 1296.1h18v9h-18zM61.7 1296.1h9v9h-9zM79.7 1296.1h9v9h-9zM97.7 1296.1h27v9h-27zM142.7 1296.1h9v9h-9zM223.7 1296.1h9v9h-9zM241.7 1296.1h9v9h-9zM367.7 1296.1h9v9h-9zM412.7 1296.1h9v9h-9zM457.7 1296.1h9v9h-9zM538.7 1296.1h9v9h-9zM52.7 1305.1h9v9h-9zM88.7 1305.1h9v9h-9zM160.7 1305.1h9v9h-9zM205.7 1305.1h9v9h-9zM223.7 1305.1h9v9h-9zM340.7 1305.1h9v9h-9zM403.7 1305.1h18v9h-18zM70.7 1314.1h9v9h-9zM115.7 1314.1h9v9h-9zM169.7 1314.1h9v9h-9zM223.7 1314.1h9v9h-9zM241.7 1314.1h27v9h-27zM340.7 1314.1h9v9h-9zM358.7 1314.1h9v9h-9zM538.7 1314.1h9v9h-9zM106.7 1323.1h9v9h-9zM232.7 1323.1h9v9h-9zM286.7 1323.1h9v9h-9zM331.7 1323.1h9v9h-9zM259.7 1332.1h18v9h-18zM286.7 1332.1h9v9h-9zM259.7 1341.1h9v9h-9zM223.7 1350.1h9v9h-9zM331.7 1350.1h9v9h-9zM448.7 1350.1h9v9h-9zM196.7 1368.1h9v9h-9z"/>
<path fill="rgb(46,135,247)" shape-rendering="crispEdges" d="M178.7 1080.1h9v9h-9zM403.7 1080.1h9v9h-9zM439.7 1080.1h9v9h-9zM133.7 1089.1h18v9h-18zM160.7 1089.1h9v9h-9zM187.7 1089.1h9v9h-9zM403.7 1089.1h9v9h-9zM448.7 1089.1h9v9h-9zM133.7 1098.1h9v9h-9zM178.7 1098.1h9v9h-9zM439.7 1098.1h9v9h-9zM43.7 1107.1h9v9h-9zM79.7 1107.1h9v9h-9zM133.7 1107.1h9v9h-9zM160.7 1107.1h9v9h-9zM457.7 1107.1h9v9h-9zM34.7 1116.1h9v9h-9zM52.7 1116.1h9v9h-9zM466.7 1116.1h9v9h-9zM511.7 1116.1h18v9h-18zM538.7 1116.1h9v9h-9zM52.7 1125.1h9v9h-9zM106.7 1125.1h9v9h-9zM457.7 1125.1h9v9h-9zM457.7 1134.1h9v9h-9zM511.7 1134.1h9v9h-9zM79.7 1143.1h9v9h-9zM97.7 1143.1h18v9h-18zM457.7 1143.1h9v9h-9zM511.7 1143.1h18v9h-18zM43.7 1152.1h9v9h-9zM97.7 1152.1h18v9h-18zM475.7 1152.1h9v9h-9zM520.7 1152.1h9v9h-9zM34.7 1161.1h9v9h-9zM88.7 1161.1h18v9h-18zM115.7 1161.1h9v9h-9zM466.7 1161.1h9v9h-9zM457.7 1170.1h18v9h-18zM34.7 1179.1h9v9h-9zM70.7 1179.1h18v9h-18zM502.7 1179.1h18v9h-18zM547.7 1179.1h9v9h-9zM52.7 1188.1h9v9h-9zM88.7 1188.1h9v9h-9zM448.7 1188.1h9v9h-9zM466.7 1188.1h9v9h-9zM511.7 1188.1h9v9h-9zM34.7 1197.1h9v9h-9zM97.7 1197.1h18v9h-18zM475.7 1197.1h9v9h-9zM520.7 1197.1h9v9h-9zM547.7 1197.1h9v9h-9zM88.7 1206.1h9v9h-9zM160.7 1206.1h9v9h-9zM430.7 1206.1h18v9h-18zM493.7 1206.1h9v9h-9zM520.7 1206.1h9v9h-9zM52.7 1215.1h27v9h-27zM97.7 1215.1h9v9h-9zM439.7 1215.1h9v9h-9zM457.7 1215.1h9v9h-9zM493.7 1215.1h9v9h-9zM520.7 1215.1h9v9h-9zM34.7 1224.1h45v9h-45zM106.7 1224.1h18v9h-18zM430.7 1224.1h9v9h-9zM448.7 1224.1h9v9h-9zM520.7 1224.1h9v9h-9zM538.7 1224.1h9v9h-9zM34.7 1233.1h9v9h-9zM52.7 1233.1h9v9h-9zM79.7 1233.1h9v9h-9zM403.7 1233.1h9v9h-9zM502.7 1233.1h9v9h-9zM61.7 1242.1h18v9h-18zM88.7 1242.1h9v9h-9zM205.7 1242.1h9v9h-9zM223.7 1242.1h9v9h-9zM403.7 1242.1h18v9h-18zM448.7 1242.1h9v9h-9zM79.7 1251.1h18v9h-18zM115.7 1251.1h18v9h-18zM187.7 1251.1h9v9h-9zM430.7 1251.1h9v9h-9zM448.7 1251.1h9v9h-9zM538.7 1251.1h9v9h-9zM43.7 1260.1h18v9h-18zM106.7 1260.1h18v9h-18zM151.7 1260.1h9v9h-9zM178.7 1260.1h9v9h-9zM403.7 1260.1h9v9h-9zM16.7 1269.1h9v9h-9zM34.7 1269.1h9v9h-9zM88.7 1269.1h9v9h-9zM115.7 1269.1h9v9h-9zM142.7 1269.1h18v9h-18zM232.7 1269.1h18v9h-18zM349.7 1269.1h9v9h-9zM376.7 1269.1h9v9h-9zM403.7 1269.1h9v9h-9zM25.7 1278.1h18v9h-18zM52.7 1278.1h9v9h-9zM79.7 1278.1h9v9h-9zM340.7 1278.1h27v9h-27zM376.7 1278.1h18v9h-18zM421.7 1278.1h9v9h-9zM70.7 1287.1h36v9h-36zM151.7 1287.1h9v9h-9zM187.7 1287.1h27v9h-27zM340.7 1287.1h27v9h-27zM376.7 1287.1h9v9h-9zM421.7 1287.1h9v9h-9zM475.7 1287.1h9v9h-9zM70.7 1296.1h9v9h-9zM160.7 1296.1h27v9h-27zM214.7 1296.1h9v9h-9zM250.7 1296.1h18v9h-18zM304.7 1296.1h9v9h-9zM331.7 1296.1h27v9h-27zM250.7 1305.1h9v9h-9zM277.7 1305.1h18v9h-18zM349.7 1305.1h9v9h-9zM304.7 1314.1h9v9h-9zM430.7 1314.1h9v9h-9zM277.7 1323.1h9v9h-9z"/>
<path fill="rgb(42,140,243)" shape-rendering="crispEdges" d="M169.7 1089.1h18v9h-18zM412.7 1089.1h9v9h-9zM430.7 1089.1h9v9h-9zM403.7 1098.1h9v9h-9zM97.7 1107.1h9v9h-9zM70.7 1116.1h9v9h-9zM457.7 1116.1h9v9h-9zM484.7 1116.1h9v9h-9zM142.7 1125.1h9v9h-9zM106.7 1134.1h9v9h-9zM124.7 1134.1h9v9h-9zM151.7 1134.1h9v9h-9zM421.7 1134.1h9v9h-9zM439.7 1134.1h9v9h-9zM124.7 1143.1h9v9h-9zM439.7 1143.1h18v9h-18zM466.7 1143.1h9v9h-9zM133.7 1152.1h18v9h-18zM439.7 1152.1h36v9h-36zM106.7 1161.1h9v9h-9zM124.7 1161.1h27v9h-27zM430.7 1161.1h9v9h-9zM457.7 1161.1h9v9h-9zM475.7 1161.1h9v9h-9zM538.7 1161.1h9v9h-9zM70.7 1170.1h18v9h-18zM106.7 1170.1h9v9h-9zM124.7 1170.1h9v9h-9zM142.7 1170.1h9v9h-9zM439.7 1170.1h9v9h-9zM475.7 1170.1h9v9h-9zM502.7 1170.1h9v9h-9zM538.7 1170.1h9v9h-9zM115.7 1179.1h9v9h-9zM151.7 1179.1h9v9h-9zM430.7 1179.1h9v9h-9zM448.7 1179.1h9v9h-9zM484.7 1179.1h9v9h-9zM79.7 1188.1h9v9h-9zM133.7 1188.1h9v9h-9zM439.7 1188.1h9v9h-9zM124.7 1197.1h9v9h-9zM403.7 1197.1h9v9h-9zM439.7 1197.1h9v9h-9zM61.7 1206.1h18v9h-18zM133.7 1206.1h9v9h-9zM457.7 1206.1h9v9h-9zM547.7 1206.1h9v9h-9zM142.7 1215.1h9v9h-9zM160.7 1215.1h9v9h-9zM430.7 1215.1h9v9h-9zM88.7 1224.1h18v9h-18zM124.7 1224.1h9v9h-9zM160.7 1224.1h9v9h-9zM61.7 1233.1h9v9h-9zM88.7 1233.1h18v9h-18zM124.7 1233.1h18v9h-18zM169.7 1233.1h9v9h-9zM412.7 1233.1h18v9h-18zM448.7 1233.1h9v9h-9zM115.7 1242.1h18v9h-18zM160.7 1242.1h18v9h-18zM421.7 1242.1h9v9h-9zM16.7 1251.1h9v9h-9zM34.7 1251.1h9v9h-9zM70.7 1251.1h9v9h-9zM97.7 1251.1h18v9h-18zM133.7 1251.1h9v9h-9zM178.7 1251.1h9v9h-9zM349.7 1251.1h9v9h-9zM421.7 1251.1h9v9h-9zM61.7 1260.1h9v9h-9zM124.7 1260.1h9v9h-9zM160.7 1260.1h9v9h-9zM187.7 1260.1h9v9h-9zM214.7 1260.1h18v9h-18zM349.7 1260.1h9v9h-9zM385.7 1260.1h18v9h-18zM421.7 1260.1h9v9h-9zM457.7 1260.1h9v9h-9zM43.7 1269.1h9v9h-9zM61.7 1269.1h18v9h-18zM97.7 1269.1h9v9h-9zM124.7 1269.1h9v9h-9zM160.7 1269.1h9v9h-9zM187.7 1269.1h9v9h-9zM250.7 1269.1h9v9h-9zM394.7 1269.1h9v9h-9zM106.7 1278.1h9v9h-9zM124.7 1278.1h9v9h-9zM205.7 1278.1h27v9h-27zM322.7 1287.1h9v9h-9zM367.7 1287.1h9v9h-9zM403.7 1287.1h9v9h-9zM466.7 1287.1h9v9h-9zM187.7 1296.1h27v9h-27zM358.7 1296.1h9v9h-9zM232.7 1305.1h9v9h-9zM268.7 1305.1h9v9h-9zM304.7 1305.1h18v9h-18zM331.7 1305.1h9v9h-9zM268.7 1314.1h18v9h-18zM313.7 1314.1h9v9h-9z"/>
<path fill="rgb(39,145,239)" shape-rendering="crispEdges" d="M205.7 1080.1h18v9h-18zM385.7 1080.1h18v9h-18zM160.7 1098.1h9v9h-9zM412.7 1098.1h18v9h-18zM124.7 1107.1h9v9h-9zM421.7 1107.1h18v9h-18zM133.7 1116.1h9v9h-9zM160.7 1116.1h9v9h-9zM394.7 1116.1h9v9h-9zM421.7 1116.1h18v9h-18zM133.7 1125.1h9v9h-9zM151.7 1125.1h9v9h-9zM421.7 1125.1h27v9h-27zM475.7 1125.1h9v9h-9zM142.7 1134.1h9v9h-9zM160.7 1134.1h9v9h-9zM448.7 1134.1h9v9h-9zM115.7 1143.1h9v9h-9zM133.7 1143.1h9v9h-9zM151.7 1143.1h9v9h-9zM430.7 1143.1h9v9h-9zM115.7 1152.1h9v9h-9zM169.7 1161.1h9v9h-9zM97.7 1170.1h9v9h-9zM115.7 1170.1h9v9h-9zM430.7 1170.1h9v9h-9zM448.7 1170.1h9v9h-9zM124.7 1179.1h27v9h-27zM403.7 1179.1h9v9h-9zM457.7 1179.1h9v9h-9zM493.7 1179.1h9v9h-9zM124.7 1188.1h9v9h-9zM160.7 1188.1h9v9h-9zM412.7 1188.1h9v9h-9zM115.7 1197.1h9v9h-9zM412.7 1197.1h27v9h-27zM97.7 1206.1h9v9h-9zM142.7 1206.1h18v9h-18zM133.7 1215.1h9v9h-9zM151.7 1215.1h9v9h-9zM169.7 1215.1h9v9h-9zM466.7 1215.1h9v9h-9zM142.7 1224.1h18v9h-18zM169.7 1224.1h9v9h-9zM385.7 1224.1h9v9h-9zM403.7 1224.1h9v9h-9zM106.7 1233.1h18v9h-18zM151.7 1233.1h18v9h-18zM187.7 1233.1h27v9h-27zM430.7 1233.1h9v9h-9zM97.7 1242.1h18v9h-18zM133.7 1242.1h18v9h-18zM52.7 1251.1h18v9h-18zM142.7 1251.1h9v9h-9zM205.7 1251.1h27v9h-27zM331.7 1251.1h9v9h-9zM376.7 1251.1h18v9h-18zM403.7 1251.1h9v9h-9zM97.7 1260.1h9v9h-9zM133.7 1260.1h18v9h-18zM196.7 1260.1h9v9h-9zM376.7 1260.1h9v9h-9zM25.7 1269.1h9v9h-9zM178.7 1269.1h9v9h-9zM196.7 1269.1h36v9h-36zM70.7 1278.1h9v9h-9zM115.7 1278.1h9v9h-9zM151.7 1278.1h9v9h-9zM196.7 1278.1h9v9h-9zM232.7 1278.1h9v9h-9zM250.7 1278.1h27v9h-27zM133.7 1287.1h9v9h-9zM223.7 1287.1h9v9h-9zM241.7 1287.1h9v9h-9zM259.7 1287.1h9v9h-9zM277.7 1287.1h9v9h-9zM313.7 1287.1h9v9h-9zM232.7 1296.1h9v9h-9zM268.7 1296.1h9v9h-9zM313.7 1296.1h18v9h-18zM259.7 1305.1h9v9h-9zM295.7 1305.1h9v9h-9zM295.7 1314.1h9v9h-9z"/>
<path fill="rgb(35,151,235)" shape-rendering="crispEdges" d="M196.7 1080.1h9v9h-9zM241.7 1080.1h9v9h-9zM259.7 1080.1h9v9h-9zM367.7 1080.1h9v9h-9zM196.7 1089.1h9v9h-9zM376.7 1089.1h27v9h-27zM196.7 1098.1h9v9h-9zM196.7 1107.1h9v9h-9zM394.7 1107.1h18v9h-18zM151.7 1116.1h9v9h-9zM385.7 1116.1h9v9h-9zM403.7 1116.1h9v9h-9zM169.7 1125.1h9v9h-9zM394.7 1125.1h9v9h-9zM448.7 1125.1h9v9h-9zM394.7 1134.1h9v9h-9zM412.7 1134.1h9v9h-9zM430.7 1134.1h9v9h-9zM142.7 1143.1h9v9h-9zM394.7 1143.1h18v9h-18zM124.7 1152.1h9v9h-9zM178.7 1152.1h9v9h-9zM403.7 1152.1h9v9h-9zM178.7 1161.1h9v9h-9zM421.7 1161.1h9v9h-9zM439.7 1161.1h18v9h-18zM133.7 1170.1h9v9h-9zM151.7 1170.1h18v9h-18zM403.7 1170.1h27v9h-27zM160.7 1179.1h18v9h-18zM421.7 1179.1h9v9h-9zM439.7 1179.1h9v9h-9zM142.7 1188.1h18v9h-18zM169.7 1188.1h9v9h-9zM421.7 1188.1h18v9h-18zM160.7 1197.1h27v9h-27zM385.7 1197.1h9v9h-9zM169.7 1206.1h18v9h-18zM403.7 1206.1h9v9h-9zM178.7 1215.1h18v9h-18zM367.7 1224.1h9v9h-9zM178.7 1233.1h9v9h-9zM214.7 1233.1h9v9h-9zM232.7 1233.1h9v9h-9zM358.7 1233.1h45v9h-45zM151.7 1242.1h9v9h-9zM178.7 1242.1h9v9h-9zM214.7 1242.1h9v9h-9zM358.7 1242.1h9v9h-9zM376.7 1242.1h9v9h-9zM196.7 1251.1h9v9h-9zM232.7 1251.1h9v9h-9zM367.7 1251.1h9v9h-9zM394.7 1251.1h9v9h-9zM205.7 1260.1h9v9h-9zM232.7 1260.1h18v9h-18zM340.7 1260.1h9v9h-9zM358.7 1260.1h18v9h-18zM259.7 1269.1h9v9h-9zM340.7 1269.1h9v9h-9zM367.7 1269.1h9v9h-9zM241.7 1278.1h9v9h-9zM322.7 1278.1h18v9h-18zM250.7 1287.1h9v9h-9zM268.7 1287.1h9v9h-9zM277.7 1296.1h9v9h-9zM295.7 1296.1h9v9h-9zM232.7 1314.1h9v9h-9z"/>
<path fill="rgb(31,156,231)" shape-rendering="crispEdges" d="M232.7 1080.1h9v9h-9zM322.7 1080.1h9v9h-9zM340.7 1080.1h9v9h-9zM376.7 1080.1h9v9h-9zM205.7 1089.1h27v9h-27zM367.7 1089.1h9v9h-9zM187.7 1098.1h9v9h-9zM376.7 1098.1h18v9h-18zM187.7 1107.1h9v9h-9zM178.7 1116.1h9v9h-9zM178.7 1125.1h9v9h-9zM385.7 1125.1h9v9h-9zM133.7 1134.1h9v9h-9zM403.7 1134.1h9v9h-9zM160.7 1143.1h18v9h-18zM412.7 1143.1h18v9h-18zM151.7 1152.1h9v9h-9zM169.7 1152.1h9v9h-9zM394.7 1152.1h9v9h-9zM412.7 1152.1h27v9h-27zM151.7 1161.1h18v9h-18zM169.7 1170.1h9v9h-9zM394.7 1170.1h9v9h-9zM178.7 1179.1h9v9h-9zM412.7 1179.1h9v9h-9zM205.7 1188.1h9v9h-9zM403.7 1188.1h9v9h-9zM376.7 1206.1h9v9h-9zM394.7 1206.1h9v9h-9zM394.7 1215.1h18v9h-18zM178.7 1224.1h18v9h-18zM205.7 1224.1h18v9h-18zM358.7 1224.1h9v9h-9zM394.7 1224.1h9v9h-9zM142.7 1233.1h9v9h-9zM223.7 1233.1h9v9h-9zM241.7 1233.1h9v9h-9zM349.7 1233.1h9v9h-9zM187.7 1242.1h18v9h-18zM241.7 1242.1h9v9h-9zM331.7 1242.1h9v9h-9zM367.7 1242.1h9v9h-9zM241.7 1251.1h27v9h-27zM250.7 1260.1h18v9h-18zM322.7 1260.1h9v9h-9zM277.7 1269.1h9v9h-9zM304.7 1269.1h9v9h-9zM322.7 1269.1h18v9h-18zM295.7 1278.1h9v9h-9zM313.7 1278.1h9v9h-9zM286.7 1296.1h9v9h-9z"/>
<path fill="rgb(28,161,227)" shape-rendering="crispEdges" d="M250.7 1080.1h9v9h-9zM304.7 1080.1h9v9h-9zM331.7 1080.1h9v9h-9zM232.7 1089.1h9v9h-9zM358.7 1089.1h9v9h-9zM205.7 1098.1h36v9h-36zM394.7 1098.1h9v9h-9zM178.7 1107.1h9v9h-9zM214.7 1107.1h9v9h-9zM187.7 1116.1h9v9h-9zM214.7 1116.1h9v9h-9zM358.7 1116.1h9v9h-9zM376.7 1116.1h9v9h-9zM169.7 1134.1h18v9h-18zM178.7 1143.1h18v9h-18zM385.7 1143.1h9v9h-9zM160.7 1152.1h9v9h-9zM205.7 1152.1h9v9h-9zM376.7 1152.1h9v9h-9zM385.7 1161.1h9v9h-9zM403.7 1161.1h18v9h-18zM178.7 1170.1h9v9h-9zM196.7 1179.1h18v9h-18zM178.7 1188.1h18v9h-18zM376.7 1188.1h9v9h-9zM394.7 1188.1h9v9h-9zM187.7 1197.1h36v9h-36zM376.7 1197.1h9v9h-9zM394.7 1197.1h9v9h-9zM187.7 1206.1h9v9h-9zM214.7 1206.1h9v9h-9zM367.7 1206.1h9v9h-9zM196.7 1215.1h9v9h-9zM223.7 1215.1h9v9h-9zM349.7 1215.1h27v9h-27zM385.7 1215.1h9v9h-9zM196.7 1224.1h9v9h-9zM223.7 1224.1h9v9h-9zM349.7 1224.1h9v9h-9zM376.7 1224.1h9v9h-9zM259.7 1233.1h9v9h-9zM331.7 1233.1h18v9h-18zM232.7 1242.1h9v9h-9zM250.7 1242.1h9v9h-9zM340.7 1242.1h18v9h-18zM313.7 1251.1h9v9h-9zM358.7 1251.1h9v9h-9zM313.7 1260.1h9v9h-9zM331.7 1260.1h9v9h-9zM268.7 1269.1h9v9h-9zM286.7 1278.1h9v9h-9zM304.7 1278.1h9v9h-9zM295.7 1287.1h18v9h-18z"/>
<path fill="rgb(25,166,223)" shape-rendering="crispEdges" d="M223.7 1080.1h9v9h-9zM277.7 1080.1h18v9h-18zM358.7 1080.1h9v9h-9zM241.7 1089.1h18v9h-18zM340.7 1098.1h9v9h-9zM223.7 1107.1h9v9h-9zM376.7 1107.1h9v9h-9zM160.7 1125.1h9v9h-9zM214.7 1125.1h9v9h-9zM187.7 1134.1h9v9h-9zM232.7 1134.1h9v9h-9zM196.7 1143.1h9v9h-9zM187.7 1152.1h9v9h-9zM187.7 1161.1h9v9h-9zM205.7 1161.1h9v9h-9zM187.7 1170.1h18v9h-18zM187.7 1179.1h9v9h-9zM376.7 1179.1h27v9h-27zM196.7 1188.1h9v9h-9zM232.7 1188.1h9v9h-9zM385.7 1188.1h9v9h-9zM367.7 1197.1h9v9h-9zM205.7 1206.1h9v9h-9zM385.7 1206.1h9v9h-9zM232.7 1215.1h18v9h-18zM340.7 1215.1h9v9h-9zM376.7 1215.1h9v9h-9zM232.7 1224.1h9v9h-9zM250.7 1233.1h9v9h-9zM259.7 1242.1h9v9h-9zM322.7 1242.1h9v9h-9zM277.7 1251.1h9v9h-9zM295.7 1251.1h9v9h-9zM322.7 1251.1h9v9h-9zM340.7 1251.1h9v9h-9zM268.7 1260.1h9v9h-9zM295.7 1269.1h9v9h-9zM277.7 1278.1h9v9h-9z"/>
<path fill="rgb(21,172,218)" shape-rendering="crispEdges" d="M349.7 1080.1h9v9h-9zM322.7 1089.1h18v9h-18zM349.7 1089.1h9v9h-9zM241.7 1098.1h9v9h-9zM367.7 1098.1h9v9h-9zM205.7 1107.1h9v9h-9zM232.7 1107.1h9v9h-9zM358.7 1107.1h18v9h-18zM385.7 1107.1h9v9h-9zM196.7 1116.1h18v9h-18zM196.7 1125.1h18v9h-18zM223.7 1125.1h9v9h-9zM367.7 1125.1h9v9h-9zM196.7 1134.1h27v9h-27zM376.7 1134.1h18v9h-18zM349.7 1143.1h9v9h-9zM376.7 1143.1h9v9h-9zM223.7 1161.1h9v9h-9zM367.7 1161.1h18v9h-18zM394.7 1161.1h9v9h-9zM223.7 1170.1h9v9h-9zM376.7 1170.1h18v9h-18zM241.7 1179.1h9v9h-9zM367.7 1179.1h9v9h-9zM223.7 1188.1h9v9h-9zM358.7 1188.1h9v9h-9zM196.7 1206.1h9v9h-9zM223.7 1206.1h9v9h-9zM250.7 1206.1h9v9h-9zM340.7 1206.1h9v9h-9zM358.7 1206.1h9v9h-9zM205.7 1215.1h18v9h-18zM250.7 1215.1h9v9h-9zM322.7 1224.1h27v9h-27zM268.7 1233.1h9v9h-9zM268.7 1251.1h9v9h-9zM286.7 1269.1h9v9h-9zM313.7 1269.1h9v9h-9zM286.7 1287.1h9v9h-9zM34.7 1332.1h18v9h-18zM34.7 1341.1h9v9h-9z"/>
<path fill="rgb(18,177,214)" shape-rendering="crispEdges" d="M268.7 1080.1h9v9h-9zM295.7 1080.1h9v9h-9zM313.7 1080.1h9v9h-9zM304.7 1089.1h18v9h-18zM250.7 1098.1h18v9h-18zM277.7 1098.1h9v9h-9zM295.7 1098.1h9v9h-9zM349.7 1098.1h18v9h-18zM340.7 1107.1h18v9h-18zM223.7 1116.1h9v9h-9zM349.7 1116.1h9v9h-9zM367.7 1116.1h9v9h-9zM349.7 1125.1h18v9h-18zM376.7 1125.1h9v9h-9zM223.7 1134.1h9v9h-9zM205.7 1143.1h9v9h-9zM223.7 1143.1h9v9h-9zM367.7 1143.1h9v9h-9zM196.7 1152.1h9v9h-9zM358.7 1152.1h18v9h-18zM385.7 1152.1h9v9h-9zM196.7 1161.1h9v9h-9zM214.7 1161.1h9v9h-9zM205.7 1170.1h9v9h-9zM349.7 1170.1h9v9h-9zM349.7 1179.1h9v9h-9zM214.7 1188.1h9v9h-9zM349.7 1188.1h9v9h-9zM223.7 1197.1h18v9h-18zM358.7 1197.1h9v9h-9zM232.7 1206.1h9v9h-9zM259.7 1206.1h9v9h-9zM331.7 1206.1h9v9h-9zM250.7 1224.1h9v9h-9zM277.7 1233.1h9v9h-9zM322.7 1233.1h9v9h-9zM277.7 1242.1h9v9h-9zM313.7 1242.1h9v9h-9zM304.7 1251.1h9v9h-9zM277.7 1260.1h9v9h-9zM295.7 1260.1h9v9h-9z"/>
<path fill="rgb(20,180,207)" shape-rendering="crispEdges" d="M259.7 1089.1h9v9h-9zM277.7 1089.1h27v9h-27zM340.7 1089.1h9v9h-9zM268.7 1098.1h9v9h-9zM331.7 1107.1h9v9h-9zM340.7 1116.1h9v9h-9zM250.7 1125.1h9v9h-9zM241.7 1134.1h9v9h-9zM367.7 1134.1h9v9h-9zM358.7 1143.1h9v9h-9zM214.7 1152.1h27v9h-27zM349.7 1152.1h9v9h-9zM358.7 1161.1h9v9h-9zM214.7 1170.1h9v9h-9zM358.7 1170.1h18v9h-18zM214.7 1179.1h27v9h-27zM358.7 1179.1h9v9h-9zM241.7 1188.1h9v9h-9zM340.7 1188.1h9v9h-9zM367.7 1188.1h9v9h-9zM241.7 1197.1h9v9h-9zM259.7 1197.1h9v9h-9zM331.7 1197.1h9v9h-9zM349.7 1197.1h9v9h-9zM241.7 1206.1h9v9h-9zM322.7 1206.1h9v9h-9zM349.7 1206.1h9v9h-9zM259.7 1215.1h9v9h-9zM313.7 1215.1h9v9h-9zM331.7 1215.1h9v9h-9zM241.7 1224.1h9v9h-9zM286.7 1233.1h9v9h-9zM304.7 1233.1h18v9h-18zM268.7 1242.1h9v9h-9zM286.7 1260.1h9v9h-9zM304.7 1260.1h9v9h-9z"/>
<path fill="rgb(21,183,200)" shape-rendering="crispEdges" d="M268.7 1089.1h9v9h-9zM286.7 1098.1h9v9h-9zM304.7 1098.1h27v9h-27zM241.7 1107.1h18v9h-18zM268.7 1107.1h9v9h-9zM286.7 1107.1h9v9h-9zM313.7 1107.1h9v9h-9zM241.7 1116.1h18v9h-18zM232.7 1125.1h18v9h-18zM331.7 1125.1h9v9h-9zM349.7 1134.1h9v9h-9zM241.7 1143.1h9v9h-9zM250.7 1152.1h9v9h-9zM340.7 1152.1h9v9h-9zM232.7 1170.1h9v9h-9zM340.7 1170.1h9v9h-9zM322.7 1188.1h9v9h-9zM340.7 1197.1h9v9h-9zM313.7 1206.1h9v9h-9zM259.7 1224.1h9v9h-9zM295.7 1224.1h9v9h-9zM304.7 1242.1h9v9h-9z"/>
<path fill="rgb(23,186,193)" shape-rendering="crispEdges" d="M331.7 1098.1h9v9h-9zM259.7 1107.1h9v9h-9zM277.7 1107.1h9v9h-9zM295.7 1107.1h9v9h-9zM322.7 1107.1h9v9h-9zM259.7 1116.1h9v9h-9zM313.7 1116.1h9v9h-9zM313.7 1125.1h9v9h-9zM340.7 1125.1h9v9h-9zM250.7 1134.1h9v9h-9zM322.7 1134.1h9v9h-9zM340.7 1134.1h9v9h-9zM358.7 1134.1h9v9h-9zM214.7 1143.1h9v9h-9zM232.7 1143.1h9v9h-9zM277.7 1143.1h9v9h-9zM241.7 1161.1h9v9h-9zM241.7 1170.1h18v9h-18zM331.7 1170.1h9v9h-9zM250.7 1179.1h9v9h-9zM313.7 1179.1h9v9h-9zM340.7 1179.1h9v9h-9zM250.7 1188.1h9v9h-9zM268.7 1188.1h18v9h-18zM313.7 1188.1h9v9h-9zM268.7 1197.1h9v9h-9zM322.7 1197.1h9v9h-9zM295.7 1206.1h18v9h-18zM304.7 1215.1h9v9h-9zM322.7 1215.1h9v9h-9zM286.7 1224.1h9v9h-9zM313.7 1224.1h9v9h-9zM295.7 1233.1h9v9h-9zM286.7 1242.1h18v9h-18zM286.7 1251.1h9v9h-9z"/>
<path fill="rgb(25,190,186)" shape-rendering="crispEdges" d="M304.7 1107.1h9v9h-9zM286.7 1116.1h9v9h-9zM322.7 1116.1h18v9h-18zM304.7 1125.1h9v9h-9zM322.7 1125.1h9v9h-9zM259.7 1134.1h9v9h-9zM241.7 1152.1h9v9h-9zM295.7 1152.1h9v9h-9zM313.7 1152.1h9v9h-9zM331.7 1152.1h9v9h-9zM322.7 1161.1h36v9h-36zM268.7 1170.1h9v9h-9zM277.7 1179.1h9v9h-9zM322.7 1179.1h9v9h-9zM304.7 1188.1h9v9h-9zM331.7 1188.1h9v9h-9zM277.7 1197.1h45v9h-45zM286.7 1206.1h9v9h-9zM286.7 1215.1h18v9h-18zM304.7 1224.1h9v9h-9z"/>
<path fill="rgb(32,192,178)" shape-rendering="crispEdges" d="M277.7 1116.1h9v9h-9zM304.7 1116.1h9v9h-9zM259.7 1125.1h45v9h-45zM268.7 1134.1h18v9h-18zM304.7 1134.1h18v9h-18zM331.7 1134.1h9v9h-9zM250.7 1143.1h18v9h-18zM286.7 1143.1h18v9h-18zM313.7 1143.1h9v9h-9zM331.7 1143.1h18v9h-18zM286.7 1152.1h9v9h-9zM304.7 1152.1h9v9h-9zM250.7 1161.1h18v9h-18zM259.7 1170.1h9v9h-9zM313.7 1170.1h18v9h-18zM259.7 1179.1h9v9h-9zM286.7 1179.1h18v9h-18z"/>
<path fill="rgb(39,195,169)" shape-rendering="crispEdges" d="M268.7 1116.1h9v9h-9zM295.7 1116.1h9v9h-9zM286.7 1134.1h9v9h-9zM304.7 1143.1h9v9h-9zM277.7 1152.1h9v9h-9zM268.7 1161.1h9v9h-9zM286.7 1161.1h9v9h-9zM304.7 1161.1h9v9h-9zM286.7 1170.1h18v9h-18zM268.7 1179.1h9v9h-9zM304.7 1179.1h9v9h-9zM259.7 1188.1h9v9h-9z"/>
<path fill="rgb(47,197,160)" shape-rendering="crispEdges" d="M268.7 1143.1h9v9h-9zM322.7 1143.1h9v9h-9zM268.7 1152.1h9v9h-9zM322.7 1152.1h9v9h-9zM277.7 1161.1h9v9h-9zM295.7 1161.1h9v9h-9zM277.7 1170.1h9v9h-9zM304.7 1170.1h9v9h-9zM286.7 1188.1h18v9h-18z"/>
<path fill="rgb(55,200,151)" shape-rendering="crispEdges" d="M259.7 1152.1h9v9h-9zM232.7 1161.1h9v9h-9z"/>
<path fill="rgb(69,201,140)" shape-rendering="crispEdges" d="M187.7 1125.1h9v9h-9zM295.7 1134.1h9v9h-9zM331.7 1179.1h9v9h-9z"/>
<path fill="rgb(84,202,130)" shape-rendering="crispEdges" d="M232.7 1116.1h9v9h-9z"/>
<path fill="rgb(98,202,119)" shape-rendering="crispEdges" d="M313.7 1161.1h9v9h-9zM250.7 1197.1h9v9h-9z"/>
</g>
<rect x="279" y="1084.6" width="19.8" height="15.2" fill="#f8f020"/>
<rect x="287" y="1081.1" width="8" height="5" fill="#f0d040"/>
<rect x="25.8" y="1088.6" width="78.8" height="6.7" fill="#fff" stroke="none" stroke-width="1"/>
<text x="33.4" y="1117.1" font-size="24.3" text-anchor="start" fill="#fff" font-weight="normal">2 mm</text>
</g>
<rect x="16.7" y="1080.1" width="539.9" height="348.2" fill="none" stroke="#1a1a3a" stroke-width="1.2"/>
<line x1="56.7" y1="1080.1" x2="56.7" y2="1083.1" stroke="#222" stroke-width="1"/>
<line x1="56.7" y1="1425.3" x2="56.7" y2="1428.3" stroke="#222" stroke-width="1"/>
<line x1="133.3" y1="1080.1" x2="133.3" y2="1083.1" stroke="#222" stroke-width="1"/>
<line x1="133.3" y1="1425.3" x2="133.3" y2="1428.3" stroke="#222" stroke-width="1"/>
<line x1="210.0" y1="1080.1" x2="210.0" y2="1083.1" stroke="#222" stroke-width="1"/>
<line x1="210.0" y1="1425.3" x2="210.0" y2="1428.3" stroke="#222" stroke-width="1"/>
<line x1="286.6" y1="1080.1" x2="286.6" y2="1083.1" stroke="#222" stroke-width="1"/>
<line x1="286.6" y1="1425.3" x2="286.6" y2="1428.3" stroke="#222" stroke-width="1"/>
<line x1="363.3" y1="1080.1" x2="363.3" y2="1083.1" stroke="#222" stroke-width="1"/>
<line x1="363.3" y1="1425.3" x2="363.3" y2="1428.3" stroke="#222" stroke-width="1"/>
<line x1="440.0" y1="1080.1" x2="440.0" y2="1083.1" stroke="#222" stroke-width="1"/>
<line x1="440.0" y1="1425.3" x2="440.0" y2="1428.3" stroke="#222" stroke-width="1"/>
<line x1="516.6" y1="1080.1" x2="516.6" y2="1083.1" stroke="#222" stroke-width="1"/>
<line x1="516.6" y1="1425.3" x2="516.6" y2="1428.3" stroke="#222" stroke-width="1"/>
<line x1="16.7" y1="1156.7" x2="19.7" y2="1156.7" stroke="#222" stroke-width="1"/>
<line x1="553.6" y1="1156.7" x2="556.6" y2="1156.7" stroke="#222" stroke-width="1"/>
<line x1="16.7" y1="1233.3" x2="19.7" y2="1233.3" stroke="#222" stroke-width="1"/>
<line x1="553.6" y1="1233.3" x2="556.6" y2="1233.3" stroke="#222" stroke-width="1"/>
<line x1="16.7" y1="1309.9" x2="19.7" y2="1309.9" stroke="#222" stroke-width="1"/>
<line x1="553.6" y1="1309.9" x2="556.6" y2="1309.9" stroke="#222" stroke-width="1"/>
<line x1="16.7" y1="1386.5" x2="19.7" y2="1386.5" stroke="#222" stroke-width="1"/>
<line x1="553.6" y1="1386.5" x2="556.6" y2="1386.5" stroke="#222" stroke-width="1"/>
<defs><clipPath id="clipH"><rect x="16.7" y="1515.5" width="539.9" height="347.9"/></clipPath></defs>
<g clip-path="url(#clipH)"><g filter="url(#b07)">
<path fill="rgb(68,51,197)" shape-rendering="crispEdges" d="M448.7 1551.5h9v9h-9zM79.7 1560.5h9v9h-9zM79.7 1587.5h9v9h-9zM493.7 1587.5h9v9h-9zM52.7 1596.5h18v9h-18zM142.7 1632.5h9v9h-9zM268.7 1659.5h9v9h-9zM484.7 1677.5h9v9h-9zM475.7 1686.5h9v9h-9zM43.7 1749.5h9v9h-9zM115.7 1767.5h9v9h-9zM304.7 1767.5h9v9h-9zM511.7 1767.5h9v9h-9zM97.7 1785.5h9v9h-9zM52.7 1812.5h9v9h-9zM376.7 1812.5h18v9h-18zM43.7 1830.5h9v9h-9zM385.7 1839.5h9v9h-9zM79.7 1848.5h9v9h-9zM115.7 1848.5h9v9h-9zM61.7 1857.5h9v9h-9zM304.7 1857.5h9v9h-9z"/>
<path fill="rgb(70,56,206)" shape-rendering="crispEdges" d="M439.7 1542.5h9v9h-9zM106.7 1551.5h9v9h-9zM124.7 1551.5h9v9h-9zM142.7 1551.5h9v9h-9zM169.7 1551.5h9v9h-9zM412.7 1551.5h9v9h-9zM88.7 1560.5h9v9h-9zM403.7 1560.5h9v9h-9zM466.7 1560.5h9v9h-9zM484.7 1569.5h9v9h-9zM475.7 1578.5h9v9h-9zM52.7 1587.5h27v9h-27zM520.7 1614.5h9v9h-9zM529.7 1623.5h9v9h-9zM133.7 1632.5h9v9h-9zM268.7 1641.5h9v9h-9zM25.7 1650.5h9v9h-9zM106.7 1650.5h18v9h-18zM277.7 1650.5h9v9h-9zM412.7 1650.5h18v9h-18zM457.7 1659.5h9v9h-9zM457.7 1677.5h9v9h-9zM52.7 1749.5h9v9h-9zM205.7 1749.5h9v9h-9zM286.7 1749.5h9v9h-9zM52.7 1758.5h9v9h-9zM88.7 1758.5h18v9h-18zM187.7 1758.5h9v9h-9zM295.7 1758.5h9v9h-9zM466.7 1758.5h18v9h-18zM511.7 1758.5h18v9h-18zM295.7 1767.5h9v9h-9zM475.7 1767.5h18v9h-18zM88.7 1776.5h9v9h-9zM511.7 1776.5h18v9h-18zM34.7 1803.5h9v9h-9zM25.7 1812.5h18v9h-18zM70.7 1812.5h9v9h-9zM412.7 1812.5h9v9h-9zM430.7 1812.5h18v9h-18zM43.7 1821.5h18v9h-18zM385.7 1821.5h18v9h-18zM412.7 1821.5h9v9h-9zM430.7 1821.5h9v9h-9zM34.7 1830.5h9v9h-9zM52.7 1830.5h9v9h-9zM403.7 1830.5h18v9h-18zM394.7 1839.5h9v9h-9zM106.7 1848.5h9v9h-9zM241.7 1848.5h18v9h-18zM70.7 1857.5h9v9h-9zM88.7 1857.5h9v9h-9zM106.7 1857.5h9v9h-9zM232.7 1857.5h27v9h-27z"/>
<path fill="rgb(71,63,216)" shape-rendering="crispEdges" d="M169.7 1533.5h9v9h-9zM106.7 1542.5h9v9h-9zM151.7 1542.5h9v9h-9zM169.7 1542.5h9v9h-9zM412.7 1542.5h9v9h-9zM97.7 1551.5h9v9h-9zM115.7 1551.5h9v9h-9zM25.7 1560.5h18v9h-18zM115.7 1560.5h9v9h-9zM412.7 1560.5h9v9h-9zM538.7 1560.5h9v9h-9zM25.7 1569.5h18v9h-18zM475.7 1569.5h9v9h-9zM538.7 1569.5h9v9h-9zM502.7 1578.5h9v9h-9zM502.7 1587.5h9v9h-9zM502.7 1596.5h9v9h-9zM106.7 1641.5h9v9h-9zM277.7 1641.5h9v9h-9zM421.7 1641.5h9v9h-9zM16.7 1650.5h9v9h-9zM16.7 1659.5h9v9h-9zM421.7 1659.5h9v9h-9zM466.7 1659.5h9v9h-9zM457.7 1668.5h18v9h-18zM385.7 1677.5h18v9h-18zM466.7 1677.5h18v9h-18zM88.7 1695.5h9v9h-9zM25.7 1749.5h18v9h-18zM196.7 1749.5h9v9h-9zM196.7 1758.5h18v9h-18zM304.7 1758.5h9v9h-9zM484.7 1758.5h9v9h-9zM349.7 1767.5h18v9h-18zM466.7 1767.5h9v9h-9zM115.7 1776.5h9v9h-9zM358.7 1776.5h9v9h-9zM88.7 1785.5h9v9h-9zM511.7 1785.5h9v9h-9zM25.7 1794.5h18v9h-18zM43.7 1803.5h9v9h-9zM43.7 1812.5h9v9h-9zM61.7 1812.5h9v9h-9zM394.7 1812.5h9v9h-9zM34.7 1821.5h9v9h-9zM61.7 1821.5h9v9h-9zM403.7 1821.5h9v9h-9zM439.7 1821.5h9v9h-9zM70.7 1830.5h9v9h-9zM376.7 1830.5h9v9h-9zM52.7 1839.5h9v9h-9zM376.7 1839.5h9v9h-9zM412.7 1839.5h9v9h-9zM61.7 1848.5h9v9h-9zM88.7 1848.5h18v9h-18zM232.7 1848.5h9v9h-9zM259.7 1848.5h9v9h-9zM79.7 1857.5h9v9h-9zM97.7 1857.5h9v9h-9zM286.7 1857.5h9v9h-9z"/>
<path fill="rgb(71,69,225)" shape-rendering="crispEdges" d="M43.7 1515.5h9v9h-9zM115.7 1542.5h9v9h-9zM142.7 1542.5h9v9h-9zM448.7 1542.5h9v9h-9zM439.7 1551.5h9v9h-9zM124.7 1560.5h9v9h-9zM79.7 1569.5h18v9h-18zM466.7 1569.5h9v9h-9zM484.7 1578.5h18v9h-18zM16.7 1587.5h9v9h-9zM70.7 1596.5h18v9h-18zM493.7 1596.5h9v9h-9zM529.7 1614.5h9v9h-9zM520.7 1623.5h9v9h-9zM151.7 1632.5h9v9h-9zM115.7 1641.5h18v9h-18zM412.7 1641.5h9v9h-9zM124.7 1650.5h9v9h-9zM268.7 1650.5h9v9h-9zM25.7 1659.5h9v9h-9zM277.7 1659.5h9v9h-9zM412.7 1659.5h9v9h-9zM484.7 1686.5h9v9h-9zM70.7 1695.5h18v9h-18zM187.7 1749.5h9v9h-9zM52.7 1767.5h9v9h-9zM88.7 1767.5h18v9h-18zM520.7 1767.5h9v9h-9zM97.7 1776.5h9v9h-9zM349.7 1776.5h9v9h-9zM520.7 1785.5h9v9h-9zM43.7 1794.5h9v9h-9zM25.7 1803.5h9v9h-9zM403.7 1812.5h9v9h-9zM70.7 1821.5h9v9h-9zM376.7 1821.5h9v9h-9zM61.7 1830.5h9v9h-9zM385.7 1830.5h18v9h-18zM133.7 1839.5h9v9h-9zM160.7 1839.5h9v9h-9zM403.7 1839.5h9v9h-9zM466.7 1839.5h9v9h-9zM70.7 1848.5h9v9h-9zM133.7 1848.5h9v9h-9zM484.7 1848.5h9v9h-9zM502.7 1848.5h9v9h-9zM43.7 1857.5h9v9h-9zM115.7 1857.5h9v9h-9zM259.7 1857.5h9v9h-9zM295.7 1857.5h9v9h-9z"/>
<path fill="rgb(72,76,235)" shape-rendering="crispEdges" d="M61.7 1803.5h9v9h-9zM493.7 1812.5h9v9h-9zM79.7 1821.5h9v9h-9zM133.7 1821.5h9v9h-9zM151.7 1821.5h9v9h-9zM484.7 1821.5h18v9h-18zM25.7 1830.5h9v9h-9zM106.7 1830.5h9v9h-9zM34.7 1839.5h9v9h-9zM88.7 1839.5h9v9h-9zM124.7 1839.5h9v9h-9zM151.7 1839.5h9v9h-9zM178.7 1839.5h9v9h-9zM448.7 1839.5h18v9h-18zM484.7 1839.5h9v9h-9zM34.7 1848.5h18v9h-18zM196.7 1848.5h9v9h-9zM376.7 1848.5h9v9h-9zM394.7 1848.5h18v9h-18zM448.7 1848.5h9v9h-9zM493.7 1848.5h9v9h-9zM529.7 1848.5h9v9h-9zM16.7 1857.5h18v9h-18zM52.7 1857.5h9v9h-9zM124.7 1857.5h18v9h-18zM151.7 1857.5h18v9h-18zM178.7 1857.5h9v9h-9zM349.7 1857.5h9v9h-9zM403.7 1857.5h9v9h-9zM430.7 1857.5h9v9h-9zM466.7 1857.5h9v9h-9zM484.7 1857.5h9v9h-9zM511.7 1857.5h18v9h-18zM538.7 1857.5h9v9h-9z"/>
<path fill="rgb(72,82,244)" shape-rendering="crispEdges" d="M529.7 1515.5h9v9h-9zM484.7 1524.5h9v9h-9zM79.7 1794.5h9v9h-9zM538.7 1794.5h9v9h-9zM79.7 1803.5h9v9h-9zM106.7 1803.5h9v9h-9zM493.7 1803.5h18v9h-18zM115.7 1812.5h9v9h-9zM97.7 1821.5h18v9h-18zM457.7 1821.5h9v9h-9zM511.7 1821.5h18v9h-18zM79.7 1830.5h9v9h-9zM97.7 1830.5h9v9h-9zM160.7 1830.5h9v9h-9zM439.7 1830.5h9v9h-9zM475.7 1830.5h9v9h-9zM502.7 1830.5h9v9h-9zM538.7 1830.5h9v9h-9zM43.7 1839.5h9v9h-9zM61.7 1839.5h9v9h-9zM97.7 1839.5h27v9h-27zM142.7 1839.5h9v9h-9zM205.7 1839.5h9v9h-9zM223.7 1839.5h9v9h-9zM421.7 1839.5h9v9h-9zM493.7 1839.5h18v9h-18zM529.7 1839.5h9v9h-9zM25.7 1848.5h9v9h-9zM52.7 1848.5h9v9h-9zM124.7 1848.5h9v9h-9zM142.7 1848.5h27v9h-27zM178.7 1848.5h9v9h-9zM439.7 1848.5h9v9h-9zM457.7 1848.5h9v9h-9zM520.7 1848.5h9v9h-9zM538.7 1848.5h18v9h-18zM187.7 1857.5h18v9h-18zM331.7 1857.5h9v9h-9zM376.7 1857.5h18v9h-18zM421.7 1857.5h9v9h-9zM457.7 1857.5h9v9h-9zM475.7 1857.5h9v9h-9zM502.7 1857.5h9v9h-9zM547.7 1857.5h9v9h-9z"/>
<path fill="rgb(69,89,246)" shape-rendering="crispEdges" d="M25.7 1515.5h18v9h-18zM52.7 1515.5h27v9h-27zM97.7 1515.5h18v9h-18zM448.7 1515.5h18v9h-18zM502.7 1515.5h18v9h-18zM538.7 1515.5h18v9h-18zM16.7 1524.5h9v9h-9zM475.7 1524.5h9v9h-9zM124.7 1758.5h9v9h-9zM106.7 1776.5h9v9h-9zM133.7 1776.5h9v9h-9zM538.7 1776.5h9v9h-9zM61.7 1785.5h18v9h-18zM430.7 1785.5h18v9h-18zM457.7 1785.5h9v9h-9zM475.7 1785.5h9v9h-9zM529.7 1785.5h9v9h-9zM52.7 1794.5h9v9h-9zM178.7 1794.5h9v9h-9zM493.7 1794.5h9v9h-9zM16.7 1803.5h9v9h-9zM70.7 1803.5h9v9h-9zM97.7 1803.5h9v9h-9zM133.7 1803.5h9v9h-9zM466.7 1803.5h9v9h-9zM520.7 1803.5h9v9h-9zM97.7 1812.5h9v9h-9zM151.7 1812.5h9v9h-9zM178.7 1812.5h9v9h-9zM448.7 1812.5h9v9h-9zM475.7 1812.5h18v9h-18zM25.7 1821.5h9v9h-9zM88.7 1821.5h9v9h-9zM115.7 1821.5h9v9h-9zM142.7 1821.5h9v9h-9zM169.7 1821.5h9v9h-9zM214.7 1821.5h9v9h-9zM313.7 1821.5h9v9h-9zM421.7 1821.5h9v9h-9zM466.7 1821.5h9v9h-9zM547.7 1821.5h9v9h-9zM16.7 1830.5h9v9h-9zM88.7 1830.5h9v9h-9zM115.7 1830.5h45v9h-45zM169.7 1830.5h9v9h-9zM358.7 1830.5h9v9h-9zM421.7 1830.5h9v9h-9zM457.7 1830.5h9v9h-9zM511.7 1830.5h9v9h-9zM547.7 1830.5h9v9h-9zM16.7 1839.5h18v9h-18zM70.7 1839.5h18v9h-18zM187.7 1839.5h18v9h-18zM241.7 1839.5h9v9h-9zM349.7 1839.5h9v9h-9zM430.7 1839.5h9v9h-9zM475.7 1839.5h9v9h-9zM511.7 1839.5h18v9h-18zM16.7 1848.5h9v9h-9zM169.7 1848.5h9v9h-9zM187.7 1848.5h9v9h-9zM223.7 1848.5h9v9h-9zM331.7 1848.5h9v9h-9zM358.7 1848.5h9v9h-9zM385.7 1848.5h9v9h-9zM412.7 1848.5h9v9h-9zM430.7 1848.5h9v9h-9zM475.7 1848.5h9v9h-9zM511.7 1848.5h9v9h-9zM34.7 1857.5h9v9h-9zM142.7 1857.5h9v9h-9zM169.7 1857.5h9v9h-9zM205.7 1857.5h18v9h-18zM313.7 1857.5h9v9h-9zM358.7 1857.5h9v9h-9zM412.7 1857.5h9v9h-9zM448.7 1857.5h9v9h-9zM529.7 1857.5h9v9h-9z"/>
<path fill="rgb(66,95,248)" shape-rendering="crispEdges" d="M79.7 1515.5h18v9h-18zM115.7 1515.5h9v9h-9zM142.7 1515.5h18v9h-18zM493.7 1515.5h9v9h-9zM520.7 1515.5h9v9h-9zM34.7 1524.5h9v9h-9zM61.7 1524.5h18v9h-18zM88.7 1524.5h9v9h-9zM502.7 1524.5h9v9h-9zM520.7 1524.5h18v9h-18zM547.7 1524.5h9v9h-9zM538.7 1533.5h9v9h-9zM529.7 1569.5h9v9h-9zM25.7 1695.5h9v9h-9zM466.7 1695.5h9v9h-9zM52.7 1713.5h9v9h-9zM502.7 1740.5h9v9h-9zM61.7 1749.5h9v9h-9zM493.7 1749.5h9v9h-9zM34.7 1758.5h9v9h-9zM151.7 1758.5h9v9h-9zM133.7 1767.5h9v9h-9zM331.7 1767.5h9v9h-9zM70.7 1776.5h9v9h-9zM124.7 1776.5h9v9h-9zM187.7 1776.5h9v9h-9zM205.7 1776.5h9v9h-9zM448.7 1776.5h18v9h-18zM484.7 1776.5h9v9h-9zM547.7 1776.5h9v9h-9zM106.7 1785.5h9v9h-9zM151.7 1785.5h18v9h-18zM484.7 1785.5h18v9h-18zM61.7 1794.5h9v9h-9zM106.7 1794.5h18v9h-18zM133.7 1794.5h18v9h-18zM187.7 1794.5h9v9h-9zM412.7 1794.5h18v9h-18zM52.7 1803.5h9v9h-9zM124.7 1803.5h9v9h-9zM142.7 1803.5h18v9h-18zM169.7 1803.5h9v9h-9zM250.7 1803.5h9v9h-9zM331.7 1803.5h9v9h-9zM385.7 1803.5h9v9h-9zM412.7 1803.5h9v9h-9zM448.7 1803.5h9v9h-9zM475.7 1803.5h9v9h-9zM529.7 1803.5h27v9h-27zM16.7 1812.5h9v9h-9zM79.7 1812.5h18v9h-18zM196.7 1812.5h9v9h-9zM367.7 1812.5h9v9h-9zM502.7 1812.5h27v9h-27zM538.7 1812.5h18v9h-18zM16.7 1821.5h9v9h-9zM124.7 1821.5h9v9h-9zM277.7 1821.5h9v9h-9zM448.7 1821.5h9v9h-9zM502.7 1821.5h9v9h-9zM529.7 1821.5h18v9h-18zM178.7 1830.5h9v9h-9zM250.7 1830.5h9v9h-9zM322.7 1830.5h9v9h-9zM340.7 1830.5h18v9h-18zM430.7 1830.5h9v9h-9zM466.7 1830.5h9v9h-9zM484.7 1830.5h9v9h-9zM520.7 1830.5h18v9h-18zM169.7 1839.5h9v9h-9zM214.7 1839.5h9v9h-9zM250.7 1839.5h18v9h-18zM313.7 1839.5h9v9h-9zM340.7 1839.5h9v9h-9zM439.7 1839.5h9v9h-9zM547.7 1839.5h9v9h-9zM214.7 1848.5h9v9h-9zM277.7 1848.5h9v9h-9zM313.7 1848.5h9v9h-9zM367.7 1848.5h9v9h-9zM421.7 1848.5h9v9h-9zM268.7 1857.5h9v9h-9zM322.7 1857.5h9v9h-9zM367.7 1857.5h9v9h-9zM394.7 1857.5h9v9h-9zM439.7 1857.5h9v9h-9zM493.7 1857.5h9v9h-9z"/>
<path fill="rgb(63,102,250)" shape-rendering="crispEdges" d="M124.7 1515.5h9v9h-9zM466.7 1515.5h27v9h-27zM43.7 1524.5h9v9h-9zM97.7 1524.5h9v9h-9zM493.7 1524.5h9v9h-9zM511.7 1524.5h9v9h-9zM538.7 1524.5h9v9h-9zM16.7 1533.5h9v9h-9zM52.7 1533.5h9v9h-9zM493.7 1533.5h18v9h-18zM520.7 1551.5h9v9h-9zM520.7 1632.5h9v9h-9zM520.7 1641.5h9v9h-9zM439.7 1686.5h9v9h-9zM466.7 1713.5h9v9h-9zM547.7 1713.5h9v9h-9zM70.7 1731.5h9v9h-9zM124.7 1731.5h9v9h-9zM169.7 1731.5h9v9h-9zM439.7 1731.5h9v9h-9zM106.7 1740.5h9v9h-9zM448.7 1740.5h9v9h-9zM169.7 1749.5h9v9h-9zM466.7 1749.5h18v9h-18zM520.7 1749.5h9v9h-9zM79.7 1758.5h9v9h-9zM160.7 1758.5h9v9h-9zM394.7 1758.5h9v9h-9zM439.7 1758.5h9v9h-9zM493.7 1758.5h9v9h-9zM529.7 1758.5h9v9h-9zM25.7 1767.5h9v9h-9zM70.7 1767.5h9v9h-9zM160.7 1767.5h9v9h-9zM403.7 1767.5h9v9h-9zM439.7 1767.5h9v9h-9zM502.7 1767.5h9v9h-9zM16.7 1776.5h18v9h-18zM52.7 1776.5h18v9h-18zM142.7 1776.5h27v9h-27zM223.7 1776.5h9v9h-9zM430.7 1776.5h9v9h-9zM502.7 1776.5h9v9h-9zM529.7 1776.5h9v9h-9zM16.7 1785.5h18v9h-18zM43.7 1785.5h9v9h-9zM79.7 1785.5h9v9h-9zM115.7 1785.5h9v9h-9zM142.7 1785.5h9v9h-9zM169.7 1785.5h9v9h-9zM187.7 1785.5h9v9h-9zM304.7 1785.5h9v9h-9zM358.7 1785.5h18v9h-18zM385.7 1785.5h9v9h-9zM412.7 1785.5h18v9h-18zM466.7 1785.5h9v9h-9zM538.7 1785.5h9v9h-9zM70.7 1794.5h9v9h-9zM88.7 1794.5h18v9h-18zM151.7 1794.5h9v9h-9zM196.7 1794.5h9v9h-9zM223.7 1794.5h9v9h-9zM250.7 1794.5h9v9h-9zM277.7 1794.5h9v9h-9zM385.7 1794.5h9v9h-9zM403.7 1794.5h9v9h-9zM430.7 1794.5h9v9h-9zM466.7 1794.5h9v9h-9zM502.7 1794.5h36v9h-36zM547.7 1794.5h9v9h-9zM88.7 1803.5h9v9h-9zM115.7 1803.5h9v9h-9zM160.7 1803.5h9v9h-9zM214.7 1803.5h9v9h-9zM259.7 1803.5h9v9h-9zM286.7 1803.5h9v9h-9zM322.7 1803.5h9v9h-9zM349.7 1803.5h27v9h-27zM439.7 1803.5h9v9h-9zM457.7 1803.5h9v9h-9zM511.7 1803.5h9v9h-9zM106.7 1812.5h9v9h-9zM124.7 1812.5h27v9h-27zM160.7 1812.5h18v9h-18zM187.7 1812.5h9v9h-9zM232.7 1812.5h18v9h-18zM313.7 1812.5h9v9h-9zM358.7 1812.5h9v9h-9zM421.7 1812.5h9v9h-9zM457.7 1812.5h18v9h-18zM160.7 1821.5h9v9h-9zM178.7 1821.5h9v9h-9zM205.7 1821.5h9v9h-9zM232.7 1821.5h9v9h-9zM250.7 1821.5h9v9h-9zM286.7 1821.5h9v9h-9zM331.7 1821.5h9v9h-9zM475.7 1821.5h9v9h-9zM187.7 1830.5h36v9h-36zM232.7 1830.5h18v9h-18zM277.7 1830.5h9v9h-9zM295.7 1830.5h27v9h-27zM448.7 1830.5h9v9h-9zM493.7 1830.5h9v9h-9zM268.7 1839.5h18v9h-18zM538.7 1839.5h9v9h-9zM268.7 1848.5h9v9h-9zM286.7 1848.5h27v9h-27zM340.7 1848.5h9v9h-9zM466.7 1848.5h9v9h-9zM277.7 1857.5h9v9h-9z"/>
<path fill="rgb(60,109,252)" shape-rendering="crispEdges" d="M16.7 1515.5h9v9h-9zM133.7 1515.5h9v9h-9zM421.7 1515.5h9v9h-9zM439.7 1515.5h9v9h-9zM106.7 1524.5h18v9h-18zM187.7 1524.5h9v9h-9zM457.7 1524.5h9v9h-9zM70.7 1533.5h9v9h-9zM466.7 1533.5h9v9h-9zM484.7 1533.5h9v9h-9zM511.7 1533.5h27v9h-27zM547.7 1533.5h9v9h-9zM16.7 1542.5h9v9h-9zM61.7 1542.5h18v9h-18zM430.7 1542.5h9v9h-9zM475.7 1542.5h9v9h-9zM502.7 1542.5h18v9h-18zM529.7 1542.5h9v9h-9zM538.7 1551.5h9v9h-9zM529.7 1560.5h9v9h-9zM511.7 1569.5h9v9h-9zM25.7 1578.5h9v9h-9zM538.7 1578.5h9v9h-9zM538.7 1605.5h9v9h-9zM70.7 1614.5h9v9h-9zM16.7 1623.5h9v9h-9zM34.7 1623.5h9v9h-9zM439.7 1623.5h9v9h-9zM547.7 1623.5h9v9h-9zM34.7 1641.5h9v9h-9zM484.7 1641.5h9v9h-9zM79.7 1650.5h9v9h-9zM448.7 1659.5h9v9h-9zM502.7 1659.5h9v9h-9zM16.7 1668.5h18v9h-18zM511.7 1668.5h9v9h-9zM538.7 1668.5h9v9h-9zM538.7 1677.5h9v9h-9zM52.7 1686.5h9v9h-9zM493.7 1686.5h9v9h-9zM520.7 1686.5h9v9h-9zM124.7 1695.5h9v9h-9zM484.7 1695.5h9v9h-9zM502.7 1695.5h27v9h-27zM538.7 1695.5h9v9h-9zM205.7 1704.5h9v9h-9zM520.7 1704.5h9v9h-9zM538.7 1704.5h18v9h-18zM43.7 1713.5h9v9h-9zM133.7 1713.5h9v9h-9zM151.7 1713.5h9v9h-9zM430.7 1713.5h9v9h-9zM493.7 1713.5h9v9h-9zM529.7 1713.5h9v9h-9zM16.7 1722.5h9v9h-9zM106.7 1722.5h18v9h-18zM169.7 1722.5h9v9h-9zM520.7 1722.5h9v9h-9zM547.7 1722.5h9v9h-9zM466.7 1731.5h9v9h-9zM484.7 1731.5h18v9h-18zM529.7 1731.5h9v9h-9zM547.7 1731.5h9v9h-9zM16.7 1740.5h9v9h-9zM34.7 1740.5h18v9h-18zM70.7 1740.5h9v9h-9zM88.7 1740.5h9v9h-9zM115.7 1740.5h18v9h-18zM457.7 1740.5h18v9h-18zM484.7 1740.5h9v9h-9zM538.7 1740.5h9v9h-9zM16.7 1749.5h9v9h-9zM70.7 1749.5h18v9h-18zM97.7 1749.5h9v9h-9zM124.7 1749.5h9v9h-9zM160.7 1749.5h9v9h-9zM232.7 1749.5h18v9h-18zM349.7 1749.5h9v9h-9zM421.7 1749.5h9v9h-9zM448.7 1749.5h18v9h-18zM502.7 1749.5h18v9h-18zM547.7 1749.5h9v9h-9zM16.7 1758.5h9v9h-9zM43.7 1758.5h9v9h-9zM61.7 1758.5h9v9h-9zM106.7 1758.5h9v9h-9zM214.7 1758.5h9v9h-9zM250.7 1758.5h9v9h-9zM340.7 1758.5h9v9h-9zM385.7 1758.5h9v9h-9zM457.7 1758.5h9v9h-9zM538.7 1758.5h18v9h-18zM16.7 1767.5h9v9h-9zM61.7 1767.5h9v9h-9zM79.7 1767.5h9v9h-9zM178.7 1767.5h18v9h-18zM457.7 1767.5h9v9h-9zM538.7 1767.5h9v9h-9zM43.7 1776.5h9v9h-9zM169.7 1776.5h18v9h-18zM277.7 1776.5h9v9h-9zM322.7 1776.5h27v9h-27zM385.7 1776.5h9v9h-9zM439.7 1776.5h9v9h-9zM466.7 1776.5h18v9h-18zM493.7 1776.5h9v9h-9zM52.7 1785.5h9v9h-9zM124.7 1785.5h18v9h-18zM178.7 1785.5h9v9h-9zM214.7 1785.5h9v9h-9zM268.7 1785.5h9v9h-9zM286.7 1785.5h9v9h-9zM322.7 1785.5h9v9h-9zM340.7 1785.5h9v9h-9zM376.7 1785.5h9v9h-9zM394.7 1785.5h18v9h-18zM502.7 1785.5h9v9h-9zM547.7 1785.5h9v9h-9zM124.7 1794.5h9v9h-9zM160.7 1794.5h18v9h-18zM205.7 1794.5h18v9h-18zM259.7 1794.5h9v9h-9zM304.7 1794.5h9v9h-9zM331.7 1794.5h9v9h-9zM349.7 1794.5h9v9h-9zM376.7 1794.5h9v9h-9zM394.7 1794.5h9v9h-9zM448.7 1794.5h18v9h-18zM475.7 1794.5h18v9h-18zM178.7 1803.5h18v9h-18zM205.7 1803.5h9v9h-9zM232.7 1803.5h18v9h-18zM394.7 1803.5h18v9h-18zM421.7 1803.5h18v9h-18zM484.7 1803.5h9v9h-9zM205.7 1812.5h9v9h-9zM250.7 1812.5h18v9h-18zM277.7 1812.5h9v9h-9zM295.7 1812.5h9v9h-9zM322.7 1812.5h18v9h-18zM349.7 1812.5h9v9h-9zM529.7 1812.5h9v9h-9zM196.7 1821.5h9v9h-9zM259.7 1821.5h9v9h-9zM295.7 1821.5h9v9h-9zM340.7 1821.5h9v9h-9zM358.7 1821.5h18v9h-18zM259.7 1830.5h18v9h-18zM331.7 1830.5h9v9h-9zM367.7 1830.5h9v9h-9zM232.7 1839.5h9v9h-9zM286.7 1839.5h18v9h-18zM322.7 1839.5h18v9h-18zM367.7 1839.5h9v9h-9zM205.7 1848.5h9v9h-9zM322.7 1848.5h9v9h-9zM349.7 1848.5h9v9h-9zM223.7 1857.5h9v9h-9zM340.7 1857.5h9v9h-9z"/>
<path fill="rgb(57,115,251)" shape-rendering="crispEdges" d="M160.7 1515.5h9v9h-9zM178.7 1515.5h18v9h-18zM430.7 1515.5h9v9h-9zM25.7 1524.5h9v9h-9zM52.7 1524.5h9v9h-9zM79.7 1524.5h9v9h-9zM124.7 1524.5h18v9h-18zM169.7 1524.5h18v9h-18zM205.7 1524.5h9v9h-9zM394.7 1524.5h9v9h-9zM430.7 1524.5h9v9h-9zM25.7 1533.5h18v9h-18zM61.7 1533.5h9v9h-9zM79.7 1533.5h9v9h-9zM106.7 1533.5h9v9h-9zM133.7 1533.5h9v9h-9zM97.7 1542.5h9v9h-9zM124.7 1542.5h18v9h-18zM520.7 1542.5h9v9h-9zM547.7 1542.5h9v9h-9zM52.7 1551.5h27v9h-27zM484.7 1551.5h9v9h-9zM511.7 1551.5h9v9h-9zM547.7 1551.5h9v9h-9zM52.7 1560.5h9v9h-9zM70.7 1560.5h9v9h-9zM133.7 1560.5h9v9h-9zM457.7 1560.5h9v9h-9zM502.7 1560.5h9v9h-9zM124.7 1569.5h9v9h-9zM34.7 1578.5h9v9h-9zM88.7 1578.5h9v9h-9zM124.7 1578.5h18v9h-18zM25.7 1587.5h9v9h-9zM439.7 1587.5h9v9h-9zM520.7 1587.5h18v9h-18zM16.7 1596.5h9v9h-9zM88.7 1596.5h9v9h-9zM34.7 1605.5h9v9h-9zM466.7 1605.5h18v9h-18zM493.7 1605.5h9v9h-9zM520.7 1605.5h9v9h-9zM547.7 1605.5h9v9h-9zM25.7 1614.5h9v9h-9zM466.7 1614.5h9v9h-9zM493.7 1614.5h9v9h-9zM538.7 1614.5h9v9h-9zM25.7 1623.5h9v9h-9zM43.7 1623.5h9v9h-9zM97.7 1623.5h9v9h-9zM430.7 1623.5h9v9h-9zM502.7 1623.5h18v9h-18zM538.7 1623.5h9v9h-9zM43.7 1632.5h9v9h-9zM70.7 1632.5h18v9h-18zM475.7 1632.5h18v9h-18zM538.7 1632.5h9v9h-9zM25.7 1641.5h9v9h-9zM88.7 1641.5h9v9h-9zM493.7 1641.5h18v9h-18zM547.7 1641.5h9v9h-9zM34.7 1650.5h18v9h-18zM70.7 1650.5h9v9h-9zM142.7 1650.5h9v9h-9zM493.7 1650.5h9v9h-9zM34.7 1659.5h9v9h-9zM70.7 1659.5h9v9h-9zM106.7 1659.5h9v9h-9zM529.7 1659.5h9v9h-9zM34.7 1668.5h9v9h-9zM61.7 1668.5h27v9h-27zM97.7 1668.5h9v9h-9zM484.7 1668.5h9v9h-9zM502.7 1668.5h9v9h-9zM547.7 1668.5h9v9h-9zM25.7 1677.5h18v9h-18zM52.7 1677.5h9v9h-9zM79.7 1677.5h9v9h-9zM439.7 1677.5h9v9h-9zM520.7 1677.5h18v9h-18zM547.7 1677.5h9v9h-9zM16.7 1686.5h9v9h-9zM88.7 1686.5h9v9h-9zM142.7 1686.5h18v9h-18zM178.7 1686.5h9v9h-9zM502.7 1686.5h9v9h-9zM529.7 1686.5h9v9h-9zM16.7 1695.5h9v9h-9zM61.7 1695.5h9v9h-9zM106.7 1695.5h9v9h-9zM376.7 1695.5h9v9h-9zM421.7 1695.5h9v9h-9zM457.7 1695.5h9v9h-9zM475.7 1695.5h9v9h-9zM34.7 1704.5h9v9h-9zM61.7 1704.5h9v9h-9zM115.7 1704.5h9v9h-9zM160.7 1704.5h9v9h-9zM394.7 1704.5h9v9h-9zM448.7 1704.5h9v9h-9zM466.7 1704.5h9v9h-9zM493.7 1704.5h18v9h-18zM529.7 1704.5h9v9h-9zM25.7 1713.5h18v9h-18zM70.7 1713.5h18v9h-18zM97.7 1713.5h9v9h-9zM142.7 1713.5h9v9h-9zM412.7 1713.5h9v9h-9zM439.7 1713.5h27v9h-27zM484.7 1713.5h9v9h-9zM502.7 1713.5h9v9h-9zM25.7 1722.5h9v9h-9zM70.7 1722.5h18v9h-18zM97.7 1722.5h9v9h-9zM340.7 1722.5h9v9h-9zM376.7 1722.5h18v9h-18zM403.7 1722.5h27v9h-27zM484.7 1722.5h9v9h-9zM529.7 1722.5h18v9h-18zM16.7 1731.5h9v9h-9zM43.7 1731.5h18v9h-18zM79.7 1731.5h9v9h-9zM133.7 1731.5h18v9h-18zM178.7 1731.5h9v9h-9zM196.7 1731.5h9v9h-9zM421.7 1731.5h18v9h-18zM448.7 1731.5h9v9h-9zM475.7 1731.5h9v9h-9zM502.7 1731.5h18v9h-18zM538.7 1731.5h9v9h-9zM61.7 1740.5h9v9h-9zM79.7 1740.5h9v9h-9zM97.7 1740.5h9v9h-9zM169.7 1740.5h9v9h-9zM187.7 1740.5h18v9h-18zM349.7 1740.5h9v9h-9zM385.7 1740.5h9v9h-9zM421.7 1740.5h18v9h-18zM475.7 1740.5h9v9h-9zM520.7 1740.5h9v9h-9zM88.7 1749.5h9v9h-9zM106.7 1749.5h9v9h-9zM142.7 1749.5h18v9h-18zM331.7 1749.5h9v9h-9zM376.7 1749.5h9v9h-9zM394.7 1749.5h9v9h-9zM412.7 1749.5h9v9h-9zM430.7 1749.5h18v9h-18zM484.7 1749.5h9v9h-9zM538.7 1749.5h9v9h-9zM25.7 1758.5h9v9h-9zM115.7 1758.5h9v9h-9zM169.7 1758.5h18v9h-18zM232.7 1758.5h18v9h-18zM358.7 1758.5h27v9h-27zM403.7 1758.5h18v9h-18zM502.7 1758.5h9v9h-9zM106.7 1767.5h9v9h-9zM124.7 1767.5h9v9h-9zM151.7 1767.5h9v9h-9zM169.7 1767.5h9v9h-9zM241.7 1767.5h9v9h-9zM259.7 1767.5h9v9h-9zM322.7 1767.5h9v9h-9zM340.7 1767.5h9v9h-9zM367.7 1767.5h18v9h-18zM421.7 1767.5h18v9h-18zM493.7 1767.5h9v9h-9zM529.7 1767.5h9v9h-9zM547.7 1767.5h9v9h-9zM79.7 1776.5h9v9h-9zM196.7 1776.5h9v9h-9zM232.7 1776.5h18v9h-18zM259.7 1776.5h9v9h-9zM367.7 1776.5h18v9h-18zM394.7 1776.5h27v9h-27zM34.7 1785.5h9v9h-9zM205.7 1785.5h9v9h-9zM241.7 1785.5h18v9h-18zM277.7 1785.5h9v9h-9zM331.7 1785.5h9v9h-9zM448.7 1785.5h9v9h-9zM16.7 1794.5h9v9h-9zM241.7 1794.5h9v9h-9zM268.7 1794.5h9v9h-9zM286.7 1794.5h18v9h-18zM340.7 1794.5h9v9h-9zM367.7 1794.5h9v9h-9zM439.7 1794.5h9v9h-9zM196.7 1803.5h9v9h-9zM223.7 1803.5h9v9h-9zM295.7 1803.5h18v9h-18zM340.7 1803.5h9v9h-9zM376.7 1803.5h9v9h-9zM214.7 1812.5h18v9h-18zM268.7 1812.5h9v9h-9zM340.7 1812.5h9v9h-9zM187.7 1821.5h9v9h-9zM241.7 1821.5h9v9h-9zM304.7 1821.5h9v9h-9zM322.7 1821.5h9v9h-9zM223.7 1830.5h9v9h-9zM286.7 1830.5h9v9h-9zM358.7 1839.5h9v9h-9z"/>
<path fill="rgb(53,122,250)" shape-rendering="crispEdges" d="M169.7 1515.5h9v9h-9zM205.7 1515.5h9v9h-9zM358.7 1515.5h9v9h-9zM385.7 1515.5h27v9h-27zM142.7 1524.5h27v9h-27zM403.7 1524.5h9v9h-9zM421.7 1524.5h9v9h-9zM466.7 1524.5h9v9h-9zM97.7 1533.5h9v9h-9zM115.7 1533.5h9v9h-9zM142.7 1533.5h9v9h-9zM196.7 1533.5h9v9h-9zM403.7 1533.5h9v9h-9zM448.7 1533.5h18v9h-18zM475.7 1533.5h9v9h-9zM34.7 1542.5h27v9h-27zM79.7 1542.5h9v9h-9zM385.7 1542.5h9v9h-9zM457.7 1542.5h9v9h-9zM484.7 1542.5h18v9h-18zM538.7 1542.5h9v9h-9zM34.7 1551.5h18v9h-18zM88.7 1551.5h9v9h-9zM466.7 1551.5h9v9h-9zM502.7 1551.5h9v9h-9zM16.7 1560.5h9v9h-9zM43.7 1560.5h9v9h-9zM421.7 1560.5h9v9h-9zM511.7 1560.5h9v9h-9zM52.7 1569.5h27v9h-27zM115.7 1569.5h9v9h-9zM457.7 1569.5h9v9h-9zM493.7 1569.5h18v9h-18zM520.7 1569.5h9v9h-9zM547.7 1569.5h9v9h-9zM16.7 1578.5h9v9h-9zM52.7 1578.5h9v9h-9zM97.7 1578.5h27v9h-27zM520.7 1578.5h18v9h-18zM547.7 1578.5h9v9h-9zM43.7 1587.5h9v9h-9zM97.7 1587.5h9v9h-9zM475.7 1587.5h18v9h-18zM511.7 1587.5h9v9h-9zM538.7 1587.5h9v9h-9zM43.7 1596.5h9v9h-9zM475.7 1596.5h18v9h-18zM529.7 1596.5h27v9h-27zM16.7 1605.5h9v9h-9zM61.7 1605.5h18v9h-18zM142.7 1605.5h9v9h-9zM502.7 1605.5h18v9h-18zM529.7 1605.5h9v9h-9zM79.7 1614.5h18v9h-18zM448.7 1614.5h9v9h-9zM475.7 1614.5h9v9h-9zM502.7 1614.5h9v9h-9zM61.7 1623.5h18v9h-18zM88.7 1623.5h9v9h-9zM124.7 1623.5h9v9h-9zM421.7 1623.5h9v9h-9zM448.7 1623.5h18v9h-18zM475.7 1623.5h9v9h-9zM16.7 1632.5h18v9h-18zM52.7 1632.5h18v9h-18zM106.7 1632.5h9v9h-9zM493.7 1632.5h9v9h-9zM529.7 1632.5h9v9h-9zM547.7 1632.5h9v9h-9zM16.7 1641.5h9v9h-9zM61.7 1641.5h27v9h-27zM439.7 1641.5h9v9h-9zM466.7 1641.5h18v9h-18zM511.7 1641.5h9v9h-9zM529.7 1641.5h9v9h-9zM61.7 1650.5h9v9h-9zM430.7 1650.5h9v9h-9zM475.7 1650.5h9v9h-9zM502.7 1650.5h9v9h-9zM520.7 1650.5h9v9h-9zM538.7 1650.5h9v9h-9zM79.7 1659.5h18v9h-18zM475.7 1659.5h18v9h-18zM511.7 1659.5h9v9h-9zM52.7 1668.5h9v9h-9zM106.7 1668.5h9v9h-9zM133.7 1668.5h9v9h-9zM448.7 1668.5h9v9h-9zM493.7 1668.5h9v9h-9zM529.7 1668.5h9v9h-9zM16.7 1677.5h9v9h-9zM61.7 1677.5h9v9h-9zM88.7 1677.5h9v9h-9zM115.7 1677.5h9v9h-9zM448.7 1677.5h9v9h-9zM493.7 1677.5h27v9h-27zM34.7 1686.5h9v9h-9zM61.7 1686.5h9v9h-9zM97.7 1686.5h36v9h-36zM385.7 1686.5h9v9h-9zM421.7 1686.5h18v9h-18zM448.7 1686.5h9v9h-9zM538.7 1686.5h18v9h-18zM34.7 1695.5h27v9h-27zM97.7 1695.5h9v9h-9zM133.7 1695.5h9v9h-9zM214.7 1695.5h9v9h-9zM385.7 1695.5h9v9h-9zM493.7 1695.5h9v9h-9zM529.7 1695.5h9v9h-9zM16.7 1704.5h18v9h-18zM43.7 1704.5h9v9h-9zM79.7 1704.5h9v9h-9zM133.7 1704.5h27v9h-27zM178.7 1704.5h9v9h-9zM214.7 1704.5h18v9h-18zM385.7 1704.5h9v9h-9zM403.7 1704.5h9v9h-9zM457.7 1704.5h9v9h-9zM475.7 1704.5h9v9h-9zM16.7 1713.5h9v9h-9zM61.7 1713.5h9v9h-9zM106.7 1713.5h18v9h-18zM160.7 1713.5h9v9h-9zM178.7 1713.5h9v9h-9zM358.7 1713.5h18v9h-18zM421.7 1713.5h9v9h-9zM475.7 1713.5h9v9h-9zM511.7 1713.5h9v9h-9zM43.7 1722.5h18v9h-18zM124.7 1722.5h9v9h-9zM151.7 1722.5h9v9h-9zM187.7 1722.5h9v9h-9zM205.7 1722.5h9v9h-9zM349.7 1722.5h18v9h-18zM439.7 1722.5h18v9h-18zM466.7 1722.5h9v9h-9zM493.7 1722.5h27v9h-27zM34.7 1731.5h9v9h-9zM106.7 1731.5h18v9h-18zM151.7 1731.5h18v9h-18zM187.7 1731.5h9v9h-9zM205.7 1731.5h9v9h-9zM349.7 1731.5h9v9h-9zM367.7 1731.5h18v9h-18zM394.7 1731.5h27v9h-27zM520.7 1731.5h9v9h-9zM25.7 1740.5h9v9h-9zM142.7 1740.5h9v9h-9zM178.7 1740.5h9v9h-9zM223.7 1740.5h9v9h-9zM268.7 1740.5h9v9h-9zM358.7 1740.5h27v9h-27zM403.7 1740.5h18v9h-18zM439.7 1740.5h9v9h-9zM493.7 1740.5h9v9h-9zM511.7 1740.5h9v9h-9zM529.7 1740.5h9v9h-9zM547.7 1740.5h9v9h-9zM115.7 1749.5h9v9h-9zM178.7 1749.5h9v9h-9zM223.7 1749.5h9v9h-9zM259.7 1749.5h18v9h-18zM322.7 1749.5h9v9h-9zM385.7 1749.5h9v9h-9zM529.7 1749.5h9v9h-9zM70.7 1758.5h9v9h-9zM133.7 1758.5h18v9h-18zM223.7 1758.5h9v9h-9zM259.7 1758.5h9v9h-9zM277.7 1758.5h9v9h-9zM331.7 1758.5h9v9h-9zM421.7 1758.5h18v9h-18zM448.7 1758.5h9v9h-9zM142.7 1767.5h9v9h-9zM196.7 1767.5h27v9h-27zM232.7 1767.5h9v9h-9zM385.7 1767.5h18v9h-18zM448.7 1767.5h9v9h-9zM250.7 1776.5h9v9h-9zM268.7 1776.5h9v9h-9zM295.7 1776.5h18v9h-18zM421.7 1776.5h9v9h-9zM196.7 1785.5h9v9h-9zM223.7 1785.5h9v9h-9zM259.7 1785.5h9v9h-9zM295.7 1785.5h9v9h-9zM313.7 1785.5h9v9h-9zM349.7 1785.5h9v9h-9zM232.7 1794.5h9v9h-9zM313.7 1794.5h9v9h-9zM358.7 1794.5h9v9h-9zM268.7 1803.5h18v9h-18zM313.7 1803.5h9v9h-9zM286.7 1812.5h9v9h-9zM304.7 1812.5h9v9h-9zM223.7 1821.5h9v9h-9zM268.7 1821.5h9v9h-9zM349.7 1821.5h9v9h-9zM304.7 1839.5h9v9h-9z"/>
<path fill="rgb(50,128,248)" shape-rendering="crispEdges" d="M196.7 1515.5h9v9h-9zM376.7 1515.5h9v9h-9zM412.7 1515.5h9v9h-9zM232.7 1524.5h9v9h-9zM349.7 1524.5h9v9h-9zM412.7 1524.5h9v9h-9zM439.7 1524.5h18v9h-18zM43.7 1533.5h9v9h-9zM88.7 1533.5h9v9h-9zM124.7 1533.5h9v9h-9zM178.7 1533.5h9v9h-9zM25.7 1542.5h9v9h-9zM160.7 1542.5h9v9h-9zM214.7 1542.5h9v9h-9zM367.7 1542.5h9v9h-9zM394.7 1542.5h9v9h-9zM466.7 1542.5h9v9h-9zM16.7 1551.5h18v9h-18zM79.7 1551.5h9v9h-9zM151.7 1551.5h9v9h-9zM493.7 1551.5h9v9h-9zM61.7 1560.5h9v9h-9zM106.7 1560.5h9v9h-9zM142.7 1560.5h27v9h-27zM205.7 1560.5h9v9h-9zM394.7 1560.5h9v9h-9zM430.7 1560.5h9v9h-9zM448.7 1560.5h9v9h-9zM475.7 1560.5h9v9h-9zM493.7 1560.5h9v9h-9zM547.7 1560.5h9v9h-9zM16.7 1569.5h9v9h-9zM97.7 1569.5h9v9h-9zM421.7 1569.5h9v9h-9zM43.7 1578.5h9v9h-9zM61.7 1578.5h9v9h-9zM79.7 1578.5h9v9h-9zM142.7 1578.5h18v9h-18zM187.7 1578.5h9v9h-9zM412.7 1578.5h27v9h-27zM448.7 1578.5h27v9h-27zM34.7 1587.5h9v9h-9zM88.7 1587.5h9v9h-9zM169.7 1587.5h9v9h-9zM448.7 1587.5h9v9h-9zM25.7 1596.5h9v9h-9zM97.7 1596.5h9v9h-9zM115.7 1596.5h9v9h-9zM133.7 1596.5h18v9h-18zM430.7 1596.5h9v9h-9zM457.7 1596.5h18v9h-18zM520.7 1596.5h9v9h-9zM25.7 1605.5h9v9h-9zM43.7 1605.5h18v9h-18zM79.7 1605.5h9v9h-9zM97.7 1605.5h27v9h-27zM430.7 1605.5h9v9h-9zM448.7 1605.5h9v9h-9zM16.7 1614.5h9v9h-9zM34.7 1614.5h18v9h-18zM61.7 1614.5h9v9h-9zM106.7 1614.5h18v9h-18zM133.7 1614.5h9v9h-9zM376.7 1614.5h9v9h-9zM412.7 1614.5h9v9h-9zM547.7 1614.5h9v9h-9zM79.7 1623.5h9v9h-9zM169.7 1623.5h9v9h-9zM187.7 1623.5h9v9h-9zM403.7 1623.5h18v9h-18zM466.7 1623.5h9v9h-9zM484.7 1623.5h9v9h-9zM34.7 1632.5h9v9h-9zM88.7 1632.5h18v9h-18zM187.7 1632.5h9v9h-9zM430.7 1632.5h18v9h-18zM466.7 1632.5h9v9h-9zM502.7 1632.5h9v9h-9zM43.7 1641.5h18v9h-18zM187.7 1641.5h9v9h-9zM376.7 1641.5h9v9h-9zM394.7 1641.5h18v9h-18zM457.7 1641.5h9v9h-9zM538.7 1641.5h9v9h-9zM52.7 1650.5h9v9h-9zM97.7 1650.5h9v9h-9zM133.7 1650.5h9v9h-9zM214.7 1650.5h9v9h-9zM394.7 1650.5h9v9h-9zM439.7 1650.5h9v9h-9zM457.7 1650.5h18v9h-18zM511.7 1650.5h9v9h-9zM529.7 1650.5h9v9h-9zM43.7 1659.5h27v9h-27zM97.7 1659.5h9v9h-9zM124.7 1659.5h27v9h-27zM169.7 1659.5h9v9h-9zM187.7 1659.5h9v9h-9zM394.7 1659.5h9v9h-9zM493.7 1659.5h9v9h-9zM520.7 1659.5h9v9h-9zM538.7 1659.5h9v9h-9zM43.7 1668.5h9v9h-9zM124.7 1668.5h9v9h-9zM160.7 1668.5h18v9h-18zM223.7 1668.5h9v9h-9zM412.7 1668.5h9v9h-9zM430.7 1668.5h9v9h-9zM475.7 1668.5h9v9h-9zM520.7 1668.5h9v9h-9zM43.7 1677.5h9v9h-9zM70.7 1677.5h9v9h-9zM97.7 1677.5h18v9h-18zM133.7 1677.5h9v9h-9zM160.7 1677.5h27v9h-27zM331.7 1677.5h9v9h-9zM349.7 1677.5h9v9h-9zM412.7 1677.5h9v9h-9zM430.7 1677.5h9v9h-9zM25.7 1686.5h9v9h-9zM43.7 1686.5h9v9h-9zM70.7 1686.5h18v9h-18zM133.7 1686.5h9v9h-9zM160.7 1686.5h9v9h-9zM214.7 1686.5h9v9h-9zM412.7 1686.5h9v9h-9zM457.7 1686.5h18v9h-18zM511.7 1686.5h9v9h-9zM142.7 1695.5h18v9h-18zM169.7 1695.5h9v9h-9zM187.7 1695.5h18v9h-18zM232.7 1695.5h9v9h-9zM358.7 1695.5h18v9h-18zM394.7 1695.5h9v9h-9zM412.7 1695.5h9v9h-9zM439.7 1695.5h18v9h-18zM547.7 1695.5h9v9h-9zM52.7 1704.5h9v9h-9zM70.7 1704.5h9v9h-9zM88.7 1704.5h9v9h-9zM169.7 1704.5h9v9h-9zM232.7 1704.5h18v9h-18zM412.7 1704.5h36v9h-36zM484.7 1704.5h9v9h-9zM88.7 1713.5h9v9h-9zM124.7 1713.5h9v9h-9zM169.7 1713.5h9v9h-9zM214.7 1713.5h9v9h-9zM232.7 1713.5h9v9h-9zM385.7 1713.5h9v9h-9zM520.7 1713.5h9v9h-9zM538.7 1713.5h9v9h-9zM34.7 1722.5h9v9h-9zM61.7 1722.5h9v9h-9zM88.7 1722.5h9v9h-9zM142.7 1722.5h9v9h-9zM178.7 1722.5h9v9h-9zM223.7 1722.5h18v9h-18zM250.7 1722.5h9v9h-9zM331.7 1722.5h9v9h-9zM367.7 1722.5h9v9h-9zM430.7 1722.5h9v9h-9zM457.7 1722.5h9v9h-9zM475.7 1722.5h9v9h-9zM25.7 1731.5h9v9h-9zM61.7 1731.5h9v9h-9zM88.7 1731.5h18v9h-18zM214.7 1731.5h27v9h-27zM259.7 1731.5h18v9h-18zM340.7 1731.5h9v9h-9zM358.7 1731.5h9v9h-9zM385.7 1731.5h9v9h-9zM457.7 1731.5h9v9h-9zM52.7 1740.5h9v9h-9zM133.7 1740.5h9v9h-9zM151.7 1740.5h18v9h-18zM205.7 1740.5h9v9h-9zM232.7 1740.5h36v9h-36zM331.7 1740.5h18v9h-18zM394.7 1740.5h9v9h-9zM133.7 1749.5h9v9h-9zM214.7 1749.5h9v9h-9zM250.7 1749.5h9v9h-9zM340.7 1749.5h9v9h-9zM358.7 1749.5h18v9h-18zM403.7 1749.5h9v9h-9zM286.7 1758.5h9v9h-9zM313.7 1758.5h18v9h-18zM349.7 1758.5h9v9h-9zM223.7 1767.5h9v9h-9zM250.7 1767.5h9v9h-9zM268.7 1767.5h9v9h-9zM286.7 1767.5h9v9h-9zM313.7 1767.5h9v9h-9zM412.7 1767.5h9v9h-9zM214.7 1776.5h9v9h-9zM286.7 1776.5h9v9h-9zM313.7 1776.5h9v9h-9zM322.7 1794.5h9v9h-9z"/>
<path fill="rgb(46,135,247)" shape-rendering="crispEdges" d="M214.7 1515.5h9v9h-9zM232.7 1515.5h18v9h-18zM259.7 1515.5h9v9h-9zM277.7 1515.5h9v9h-9zM196.7 1524.5h9v9h-9zM241.7 1524.5h18v9h-18zM385.7 1524.5h9v9h-9zM151.7 1533.5h18v9h-18zM187.7 1533.5h9v9h-9zM232.7 1533.5h9v9h-9zM358.7 1533.5h45v9h-45zM412.7 1533.5h9v9h-9zM430.7 1533.5h18v9h-18zM88.7 1542.5h9v9h-9zM178.7 1542.5h9v9h-9zM403.7 1542.5h9v9h-9zM160.7 1551.5h9v9h-9zM178.7 1551.5h9v9h-9zM367.7 1551.5h9v9h-9zM385.7 1551.5h18v9h-18zM421.7 1551.5h18v9h-18zM475.7 1551.5h9v9h-9zM529.7 1551.5h9v9h-9zM97.7 1560.5h9v9h-9zM178.7 1560.5h9v9h-9zM376.7 1560.5h9v9h-9zM439.7 1560.5h9v9h-9zM484.7 1560.5h9v9h-9zM520.7 1560.5h9v9h-9zM133.7 1569.5h18v9h-18zM169.7 1569.5h9v9h-9zM403.7 1569.5h9v9h-9zM430.7 1569.5h27v9h-27zM70.7 1578.5h9v9h-9zM169.7 1578.5h9v9h-9zM196.7 1578.5h9v9h-9zM367.7 1578.5h9v9h-9zM385.7 1578.5h9v9h-9zM511.7 1578.5h9v9h-9zM106.7 1587.5h18v9h-18zM133.7 1587.5h18v9h-18zM403.7 1587.5h9v9h-9zM457.7 1587.5h18v9h-18zM547.7 1587.5h9v9h-9zM34.7 1596.5h9v9h-9zM124.7 1596.5h9v9h-9zM160.7 1596.5h9v9h-9zM187.7 1596.5h9v9h-9zM439.7 1596.5h9v9h-9zM88.7 1605.5h9v9h-9zM124.7 1605.5h18v9h-18zM151.7 1605.5h9v9h-9zM178.7 1605.5h9v9h-9zM376.7 1605.5h9v9h-9zM394.7 1605.5h9v9h-9zM412.7 1605.5h9v9h-9zM457.7 1605.5h9v9h-9zM484.7 1605.5h9v9h-9zM52.7 1614.5h9v9h-9zM97.7 1614.5h9v9h-9zM124.7 1614.5h9v9h-9zM151.7 1614.5h9v9h-9zM421.7 1614.5h27v9h-27zM457.7 1614.5h9v9h-9zM484.7 1614.5h9v9h-9zM511.7 1614.5h9v9h-9zM52.7 1623.5h9v9h-9zM106.7 1623.5h18v9h-18zM133.7 1623.5h9v9h-9zM493.7 1623.5h9v9h-9zM124.7 1632.5h9v9h-9zM421.7 1632.5h9v9h-9zM448.7 1632.5h18v9h-18zM511.7 1632.5h9v9h-9zM97.7 1641.5h9v9h-9zM142.7 1641.5h27v9h-27zM232.7 1641.5h9v9h-9zM430.7 1641.5h9v9h-9zM169.7 1650.5h9v9h-9zM187.7 1650.5h9v9h-9zM349.7 1650.5h9v9h-9zM403.7 1650.5h9v9h-9zM448.7 1650.5h9v9h-9zM484.7 1650.5h9v9h-9zM547.7 1650.5h9v9h-9zM151.7 1659.5h9v9h-9zM178.7 1659.5h9v9h-9zM196.7 1659.5h9v9h-9zM232.7 1659.5h9v9h-9zM358.7 1659.5h9v9h-9zM376.7 1659.5h9v9h-9zM403.7 1659.5h9v9h-9zM439.7 1659.5h9v9h-9zM547.7 1659.5h9v9h-9zM88.7 1668.5h9v9h-9zM115.7 1668.5h9v9h-9zM151.7 1668.5h9v9h-9zM187.7 1668.5h9v9h-9zM367.7 1668.5h9v9h-9zM421.7 1668.5h9v9h-9zM439.7 1668.5h9v9h-9zM124.7 1677.5h9v9h-9zM151.7 1677.5h9v9h-9zM187.7 1677.5h18v9h-18zM223.7 1677.5h9v9h-9zM358.7 1677.5h18v9h-18zM403.7 1677.5h9v9h-9zM421.7 1677.5h9v9h-9zM169.7 1686.5h9v9h-9zM196.7 1686.5h9v9h-9zM223.7 1686.5h9v9h-9zM349.7 1686.5h18v9h-18zM376.7 1686.5h9v9h-9zM403.7 1686.5h9v9h-9zM115.7 1695.5h9v9h-9zM160.7 1695.5h9v9h-9zM205.7 1695.5h9v9h-9zM340.7 1695.5h18v9h-18zM403.7 1695.5h9v9h-9zM430.7 1695.5h9v9h-9zM97.7 1704.5h18v9h-18zM124.7 1704.5h9v9h-9zM187.7 1704.5h18v9h-18zM250.7 1704.5h27v9h-27zM331.7 1704.5h54v9h-54zM511.7 1704.5h9v9h-9zM196.7 1713.5h9v9h-9zM241.7 1713.5h27v9h-27zM331.7 1713.5h27v9h-27zM376.7 1713.5h9v9h-9zM133.7 1722.5h9v9h-9zM160.7 1722.5h9v9h-9zM196.7 1722.5h9v9h-9zM214.7 1722.5h9v9h-9zM241.7 1722.5h9v9h-9zM268.7 1722.5h18v9h-18zM394.7 1722.5h9v9h-9zM241.7 1731.5h18v9h-18zM277.7 1731.5h9v9h-9zM322.7 1731.5h9v9h-9zM214.7 1740.5h9v9h-9zM313.7 1749.5h9v9h-9zM268.7 1758.5h9v9h-9zM277.7 1767.5h9v9h-9zM232.7 1785.5h9v9h-9z"/>
<path fill="rgb(42,140,243)" shape-rendering="crispEdges" d="M223.7 1515.5h9v9h-9zM250.7 1515.5h9v9h-9zM268.7 1515.5h9v9h-9zM286.7 1515.5h63v9h-63zM367.7 1515.5h9v9h-9zM214.7 1524.5h9v9h-9zM268.7 1524.5h9v9h-9zM286.7 1524.5h9v9h-9zM313.7 1524.5h9v9h-9zM367.7 1524.5h18v9h-18zM205.7 1533.5h27v9h-27zM241.7 1533.5h9v9h-9zM322.7 1533.5h9v9h-9zM421.7 1533.5h9v9h-9zM187.7 1542.5h9v9h-9zM223.7 1542.5h9v9h-9zM241.7 1542.5h9v9h-9zM259.7 1542.5h9v9h-9zM322.7 1542.5h9v9h-9zM358.7 1542.5h9v9h-9zM376.7 1542.5h9v9h-9zM421.7 1542.5h9v9h-9zM133.7 1551.5h9v9h-9zM358.7 1551.5h9v9h-9zM376.7 1551.5h9v9h-9zM403.7 1551.5h9v9h-9zM457.7 1551.5h9v9h-9zM169.7 1560.5h9v9h-9zM223.7 1560.5h9v9h-9zM43.7 1569.5h9v9h-9zM106.7 1569.5h9v9h-9zM151.7 1569.5h9v9h-9zM178.7 1569.5h9v9h-9zM214.7 1569.5h18v9h-18zM394.7 1569.5h9v9h-9zM412.7 1569.5h9v9h-9zM160.7 1578.5h9v9h-9zM376.7 1578.5h9v9h-9zM394.7 1578.5h18v9h-18zM124.7 1587.5h9v9h-9zM151.7 1587.5h18v9h-18zM178.7 1587.5h18v9h-18zM205.7 1587.5h9v9h-9zM223.7 1587.5h9v9h-9zM367.7 1587.5h27v9h-27zM412.7 1587.5h27v9h-27zM106.7 1596.5h9v9h-9zM151.7 1596.5h9v9h-9zM169.7 1596.5h9v9h-9zM196.7 1596.5h9v9h-9zM403.7 1596.5h18v9h-18zM448.7 1596.5h9v9h-9zM511.7 1596.5h9v9h-9zM160.7 1605.5h18v9h-18zM340.7 1605.5h9v9h-9zM385.7 1605.5h9v9h-9zM403.7 1605.5h9v9h-9zM439.7 1605.5h9v9h-9zM142.7 1614.5h9v9h-9zM169.7 1614.5h9v9h-9zM187.7 1614.5h9v9h-9zM385.7 1614.5h18v9h-18zM151.7 1623.5h18v9h-18zM178.7 1623.5h9v9h-9zM376.7 1623.5h9v9h-9zM394.7 1623.5h9v9h-9zM115.7 1632.5h9v9h-9zM160.7 1632.5h9v9h-9zM178.7 1632.5h9v9h-9zM196.7 1632.5h27v9h-27zM232.7 1632.5h9v9h-9zM403.7 1632.5h9v9h-9zM133.7 1641.5h9v9h-9zM169.7 1641.5h18v9h-18zM196.7 1641.5h18v9h-18zM367.7 1641.5h9v9h-9zM448.7 1641.5h9v9h-9zM88.7 1650.5h9v9h-9zM160.7 1650.5h9v9h-9zM178.7 1650.5h9v9h-9zM196.7 1650.5h9v9h-9zM376.7 1650.5h9v9h-9zM115.7 1659.5h9v9h-9zM214.7 1659.5h18v9h-18zM331.7 1659.5h9v9h-9zM349.7 1659.5h9v9h-9zM142.7 1668.5h9v9h-9zM178.7 1668.5h9v9h-9zM196.7 1668.5h9v9h-9zM232.7 1668.5h18v9h-18zM349.7 1668.5h18v9h-18zM376.7 1668.5h9v9h-9zM394.7 1668.5h18v9h-18zM142.7 1677.5h9v9h-9zM205.7 1677.5h18v9h-18zM241.7 1677.5h9v9h-9zM340.7 1677.5h9v9h-9zM376.7 1677.5h9v9h-9zM187.7 1686.5h9v9h-9zM205.7 1686.5h9v9h-9zM259.7 1686.5h9v9h-9zM340.7 1686.5h9v9h-9zM367.7 1686.5h9v9h-9zM394.7 1686.5h9v9h-9zM178.7 1695.5h9v9h-9zM187.7 1713.5h9v9h-9zM205.7 1713.5h9v9h-9zM223.7 1713.5h9v9h-9zM394.7 1713.5h18v9h-18zM259.7 1722.5h9v9h-9zM313.7 1731.5h9v9h-9zM331.7 1731.5h9v9h-9zM277.7 1740.5h27v9h-27zM313.7 1740.5h18v9h-18zM295.7 1749.5h9v9h-9z"/>
<path fill="rgb(39,145,239)" shape-rendering="crispEdges" d="M349.7 1515.5h9v9h-9zM223.7 1524.5h9v9h-9zM259.7 1524.5h9v9h-9zM277.7 1524.5h9v9h-9zM295.7 1524.5h9v9h-9zM322.7 1524.5h27v9h-27zM358.7 1524.5h9v9h-9zM250.7 1533.5h27v9h-27zM295.7 1533.5h27v9h-27zM340.7 1533.5h18v9h-18zM250.7 1542.5h9v9h-9zM268.7 1542.5h18v9h-18zM340.7 1542.5h18v9h-18zM196.7 1551.5h9v9h-9zM223.7 1551.5h18v9h-18zM313.7 1551.5h9v9h-9zM340.7 1551.5h18v9h-18zM214.7 1560.5h9v9h-9zM286.7 1560.5h9v9h-9zM358.7 1560.5h9v9h-9zM385.7 1560.5h9v9h-9zM160.7 1569.5h9v9h-9zM187.7 1569.5h9v9h-9zM241.7 1569.5h9v9h-9zM385.7 1569.5h9v9h-9zM205.7 1578.5h27v9h-27zM322.7 1578.5h9v9h-9zM439.7 1578.5h9v9h-9zM322.7 1587.5h9v9h-9zM394.7 1587.5h9v9h-9zM205.7 1596.5h9v9h-9zM367.7 1596.5h9v9h-9zM385.7 1596.5h18v9h-18zM421.7 1596.5h9v9h-9zM187.7 1605.5h18v9h-18zM358.7 1605.5h9v9h-9zM421.7 1605.5h9v9h-9zM160.7 1614.5h9v9h-9zM178.7 1614.5h9v9h-9zM196.7 1614.5h18v9h-18zM142.7 1623.5h9v9h-9zM205.7 1623.5h9v9h-9zM223.7 1623.5h9v9h-9zM241.7 1623.5h9v9h-9zM358.7 1623.5h9v9h-9zM169.7 1632.5h9v9h-9zM358.7 1632.5h9v9h-9zM376.7 1632.5h18v9h-18zM214.7 1641.5h18v9h-18zM259.7 1641.5h9v9h-9zM322.7 1641.5h9v9h-9zM349.7 1641.5h9v9h-9zM385.7 1641.5h9v9h-9zM151.7 1650.5h9v9h-9zM205.7 1650.5h9v9h-9zM358.7 1650.5h18v9h-18zM385.7 1650.5h9v9h-9zM160.7 1659.5h9v9h-9zM241.7 1659.5h9v9h-9zM259.7 1659.5h9v9h-9zM367.7 1659.5h9v9h-9zM385.7 1659.5h9v9h-9zM430.7 1659.5h9v9h-9zM205.7 1668.5h18v9h-18zM250.7 1668.5h9v9h-9zM331.7 1668.5h9v9h-9zM385.7 1668.5h9v9h-9zM232.7 1677.5h9v9h-9zM250.7 1677.5h9v9h-9zM250.7 1686.5h9v9h-9zM268.7 1686.5h9v9h-9zM322.7 1686.5h18v9h-18zM223.7 1695.5h9v9h-9zM241.7 1695.5h36v9h-36zM331.7 1695.5h9v9h-9zM322.7 1704.5h9v9h-9zM322.7 1722.5h9v9h-9zM286.7 1731.5h9v9h-9zM304.7 1731.5h9v9h-9zM304.7 1740.5h9v9h-9zM277.7 1749.5h9v9h-9z"/>
<path fill="rgb(35,151,235)" shape-rendering="crispEdges" d="M304.7 1524.5h9v9h-9zM277.7 1533.5h9v9h-9zM331.7 1533.5h9v9h-9zM196.7 1542.5h18v9h-18zM232.7 1542.5h9v9h-9zM313.7 1542.5h9v9h-9zM331.7 1542.5h9v9h-9zM187.7 1551.5h9v9h-9zM205.7 1551.5h9v9h-9zM241.7 1551.5h9v9h-9zM259.7 1551.5h9v9h-9zM304.7 1551.5h9v9h-9zM187.7 1560.5h18v9h-18zM232.7 1560.5h18v9h-18zM295.7 1560.5h9v9h-9zM322.7 1560.5h9v9h-9zM340.7 1560.5h9v9h-9zM196.7 1569.5h18v9h-18zM232.7 1569.5h9v9h-9zM349.7 1569.5h36v9h-36zM178.7 1578.5h9v9h-9zM349.7 1578.5h9v9h-9zM196.7 1587.5h9v9h-9zM232.7 1587.5h9v9h-9zM268.7 1587.5h9v9h-9zM358.7 1587.5h9v9h-9zM178.7 1596.5h9v9h-9zM223.7 1596.5h18v9h-18zM349.7 1596.5h9v9h-9zM376.7 1596.5h9v9h-9zM205.7 1605.5h9v9h-9zM223.7 1605.5h9v9h-9zM331.7 1605.5h9v9h-9zM367.7 1605.5h9v9h-9zM214.7 1614.5h36v9h-36zM268.7 1614.5h9v9h-9zM367.7 1614.5h9v9h-9zM196.7 1623.5h9v9h-9zM367.7 1623.5h9v9h-9zM385.7 1623.5h9v9h-9zM223.7 1632.5h9v9h-9zM250.7 1632.5h27v9h-27zM322.7 1632.5h9v9h-9zM349.7 1632.5h9v9h-9zM394.7 1632.5h9v9h-9zM412.7 1632.5h9v9h-9zM331.7 1641.5h18v9h-18zM358.7 1641.5h9v9h-9zM223.7 1650.5h27v9h-27zM205.7 1659.5h9v9h-9zM250.7 1659.5h9v9h-9zM313.7 1659.5h9v9h-9zM340.7 1659.5h9v9h-9zM259.7 1668.5h9v9h-9zM340.7 1668.5h9v9h-9zM277.7 1677.5h9v9h-9zM232.7 1686.5h18v9h-18zM277.7 1695.5h9v9h-9zM322.7 1695.5h9v9h-9zM268.7 1713.5h9v9h-9zM322.7 1713.5h9v9h-9zM304.7 1749.5h9v9h-9z"/>
<path fill="rgb(31,156,231)" shape-rendering="crispEdges" d="M286.7 1533.5h9v9h-9zM286.7 1542.5h9v9h-9zM214.7 1551.5h9v9h-9zM250.7 1551.5h9v9h-9zM268.7 1551.5h9v9h-9zM331.7 1551.5h9v9h-9zM259.7 1560.5h9v9h-9zM277.7 1560.5h9v9h-9zM304.7 1560.5h18v9h-18zM349.7 1560.5h9v9h-9zM367.7 1560.5h9v9h-9zM259.7 1569.5h27v9h-27zM322.7 1569.5h9v9h-9zM232.7 1578.5h9v9h-9zM259.7 1578.5h9v9h-9zM358.7 1578.5h9v9h-9zM214.7 1587.5h9v9h-9zM250.7 1587.5h9v9h-9zM304.7 1587.5h9v9h-9zM340.7 1587.5h9v9h-9zM241.7 1596.5h9v9h-9zM259.7 1596.5h9v9h-9zM313.7 1596.5h9v9h-9zM358.7 1596.5h9v9h-9zM214.7 1605.5h9v9h-9zM232.7 1605.5h18v9h-18zM250.7 1614.5h9v9h-9zM331.7 1614.5h27v9h-27zM403.7 1614.5h9v9h-9zM214.7 1623.5h9v9h-9zM232.7 1623.5h9v9h-9zM250.7 1623.5h9v9h-9zM286.7 1623.5h9v9h-9zM331.7 1623.5h18v9h-18zM241.7 1632.5h9v9h-9zM331.7 1632.5h18v9h-18zM367.7 1632.5h9v9h-9zM241.7 1641.5h9v9h-9zM313.7 1641.5h9v9h-9zM250.7 1650.5h9v9h-9zM313.7 1650.5h36v9h-36zM268.7 1668.5h18v9h-18zM322.7 1668.5h9v9h-9zM259.7 1677.5h18v9h-18zM322.7 1677.5h9v9h-9zM286.7 1695.5h9v9h-9zM277.7 1704.5h9v9h-9zM295.7 1731.5h9v9h-9z"/>
<path fill="rgb(28,161,227)" shape-rendering="crispEdges" d="M295.7 1542.5h18v9h-18zM277.7 1551.5h27v9h-27zM322.7 1551.5h9v9h-9zM250.7 1560.5h9v9h-9zM268.7 1560.5h9v9h-9zM250.7 1569.5h9v9h-9zM304.7 1569.5h9v9h-9zM331.7 1569.5h18v9h-18zM241.7 1578.5h9v9h-9zM268.7 1578.5h9v9h-9zM304.7 1578.5h9v9h-9zM331.7 1578.5h9v9h-9zM241.7 1587.5h9v9h-9zM214.7 1596.5h9v9h-9zM268.7 1596.5h9v9h-9zM304.7 1596.5h9v9h-9zM331.7 1596.5h9v9h-9zM286.7 1605.5h9v9h-9zM304.7 1605.5h9v9h-9zM349.7 1605.5h9v9h-9zM259.7 1614.5h9v9h-9zM304.7 1614.5h9v9h-9zM322.7 1614.5h9v9h-9zM358.7 1614.5h9v9h-9zM259.7 1623.5h27v9h-27zM295.7 1632.5h9v9h-9zM259.7 1650.5h9v9h-9zM286.7 1650.5h9v9h-9zM304.7 1650.5h9v9h-9zM304.7 1659.5h9v9h-9zM286.7 1668.5h9v9h-9zM277.7 1713.5h18v9h-18zM313.7 1713.5h9v9h-9zM313.7 1722.5h9v9h-9z"/>
<path fill="rgb(25,166,223)" shape-rendering="crispEdges" d="M331.7 1560.5h9v9h-9zM295.7 1569.5h9v9h-9zM313.7 1569.5h9v9h-9zM250.7 1578.5h9v9h-9zM277.7 1578.5h18v9h-18zM313.7 1578.5h9v9h-9zM340.7 1578.5h9v9h-9zM259.7 1587.5h9v9h-9zM277.7 1587.5h27v9h-27zM313.7 1587.5h9v9h-9zM331.7 1587.5h9v9h-9zM277.7 1596.5h9v9h-9zM322.7 1596.5h9v9h-9zM250.7 1605.5h27v9h-27zM295.7 1614.5h9v9h-9zM313.7 1614.5h9v9h-9zM304.7 1623.5h9v9h-9zM322.7 1623.5h9v9h-9zM349.7 1623.5h9v9h-9zM286.7 1641.5h27v9h-27zM295.7 1650.5h9v9h-9zM286.7 1659.5h18v9h-18zM322.7 1659.5h9v9h-9zM304.7 1668.5h9v9h-9zM286.7 1677.5h9v9h-9zM313.7 1677.5h9v9h-9zM277.7 1686.5h18v9h-18zM313.7 1686.5h9v9h-9zM313.7 1704.5h9v9h-9zM286.7 1722.5h9v9h-9zM304.7 1722.5h9v9h-9zM34.7 1767.5h18v9h-18zM34.7 1776.5h9v9h-9z"/>
<path fill="rgb(21,172,218)" shape-rendering="crispEdges" d="M286.7 1569.5h9v9h-9zM295.7 1578.5h9v9h-9zM250.7 1596.5h9v9h-9zM286.7 1596.5h9v9h-9zM277.7 1605.5h9v9h-9zM295.7 1605.5h9v9h-9zM322.7 1605.5h9v9h-9zM277.7 1614.5h9v9h-9zM295.7 1623.5h9v9h-9zM313.7 1623.5h9v9h-9zM286.7 1632.5h9v9h-9zM304.7 1632.5h18v9h-18zM295.7 1668.5h9v9h-9zM313.7 1668.5h9v9h-9zM295.7 1686.5h18v9h-18zM304.7 1695.5h18v9h-18zM286.7 1704.5h9v9h-9zM304.7 1713.5h9v9h-9zM295.7 1722.5h9v9h-9z"/>
<path fill="rgb(18,177,214)" shape-rendering="crispEdges" d="M313.7 1605.5h9v9h-9zM277.7 1632.5h9v9h-9zM304.7 1677.5h9v9h-9zM295.7 1704.5h9v9h-9zM295.7 1713.5h9v9h-9z"/>
<path fill="rgb(20,180,207)" shape-rendering="crispEdges" d="M295.7 1596.5h9v9h-9zM295.7 1677.5h9v9h-9zM295.7 1695.5h9v9h-9zM304.7 1704.5h9v9h-9z"/>
<path fill="rgb(23,186,193)" shape-rendering="crispEdges" d="M349.7 1587.5h9v9h-9zM340.7 1596.5h9v9h-9zM286.7 1614.5h9v9h-9zM250.7 1641.5h9v9h-9z"/>
</g>
<rect x="279" y="1520.0" width="19.8" height="13.0" fill="#f8f020"/>
<rect x="287" y="1516.5" width="8" height="5" fill="#f0d040"/>
<rect x="22.7" y="1529.8" width="78.0" height="7.0" fill="#fff" stroke="none" stroke-width="1"/>
<text x="30.3" y="1558.0" font-size="24.3" text-anchor="start" fill="#fff" font-weight="normal">2 mm</text>
</g>
<rect x="16.7" y="1515.5" width="539.9" height="347.9" fill="none" stroke="#1a1a3a" stroke-width="1.2"/>
<line x1="56.7" y1="1515.5" x2="56.7" y2="1518.5" stroke="#222" stroke-width="1"/>
<line x1="56.7" y1="1860.4" x2="56.7" y2="1863.4" stroke="#222" stroke-width="1"/>
<line x1="133.3" y1="1515.5" x2="133.3" y2="1518.5" stroke="#222" stroke-width="1"/>
<line x1="133.3" y1="1860.4" x2="133.3" y2="1863.4" stroke="#222" stroke-width="1"/>
<line x1="210.0" y1="1515.5" x2="210.0" y2="1518.5" stroke="#222" stroke-width="1"/>
<line x1="210.0" y1="1860.4" x2="210.0" y2="1863.4" stroke="#222" stroke-width="1"/>
<line x1="286.6" y1="1515.5" x2="286.6" y2="1518.5" stroke="#222" stroke-width="1"/>
<line x1="286.6" y1="1860.4" x2="286.6" y2="1863.4" stroke="#222" stroke-width="1"/>
<line x1="363.3" y1="1515.5" x2="363.3" y2="1518.5" stroke="#222" stroke-width="1"/>
<line x1="363.3" y1="1860.4" x2="363.3" y2="1863.4" stroke="#222" stroke-width="1"/>
<line x1="440.0" y1="1515.5" x2="440.0" y2="1518.5" stroke="#222" stroke-width="1"/>
<line x1="440.0" y1="1860.4" x2="440.0" y2="1863.4" stroke="#222" stroke-width="1"/>
<line x1="516.6" y1="1515.5" x2="516.6" y2="1518.5" stroke="#222" stroke-width="1"/>
<line x1="516.6" y1="1860.4" x2="516.6" y2="1863.4" stroke="#222" stroke-width="1"/>
<line x1="16.7" y1="1592.0" x2="19.7" y2="1592.0" stroke="#222" stroke-width="1"/>
<line x1="553.6" y1="1592.0" x2="556.6" y2="1592.0" stroke="#222" stroke-width="1"/>
<line x1="16.7" y1="1668.6" x2="19.7" y2="1668.6" stroke="#222" stroke-width="1"/>
<line x1="553.6" y1="1668.6" x2="556.6" y2="1668.6" stroke="#222" stroke-width="1"/>
<line x1="16.7" y1="1745.1" x2="19.7" y2="1745.1" stroke="#222" stroke-width="1"/>
<line x1="553.6" y1="1745.1" x2="556.6" y2="1745.1" stroke="#222" stroke-width="1"/>
<line x1="16.7" y1="1821.7" x2="19.7" y2="1821.7" stroke="#222" stroke-width="1"/>
<line x1="553.6" y1="1821.7" x2="556.6" y2="1821.7" stroke="#222" stroke-width="1"/>
</svg>
</body></html>
